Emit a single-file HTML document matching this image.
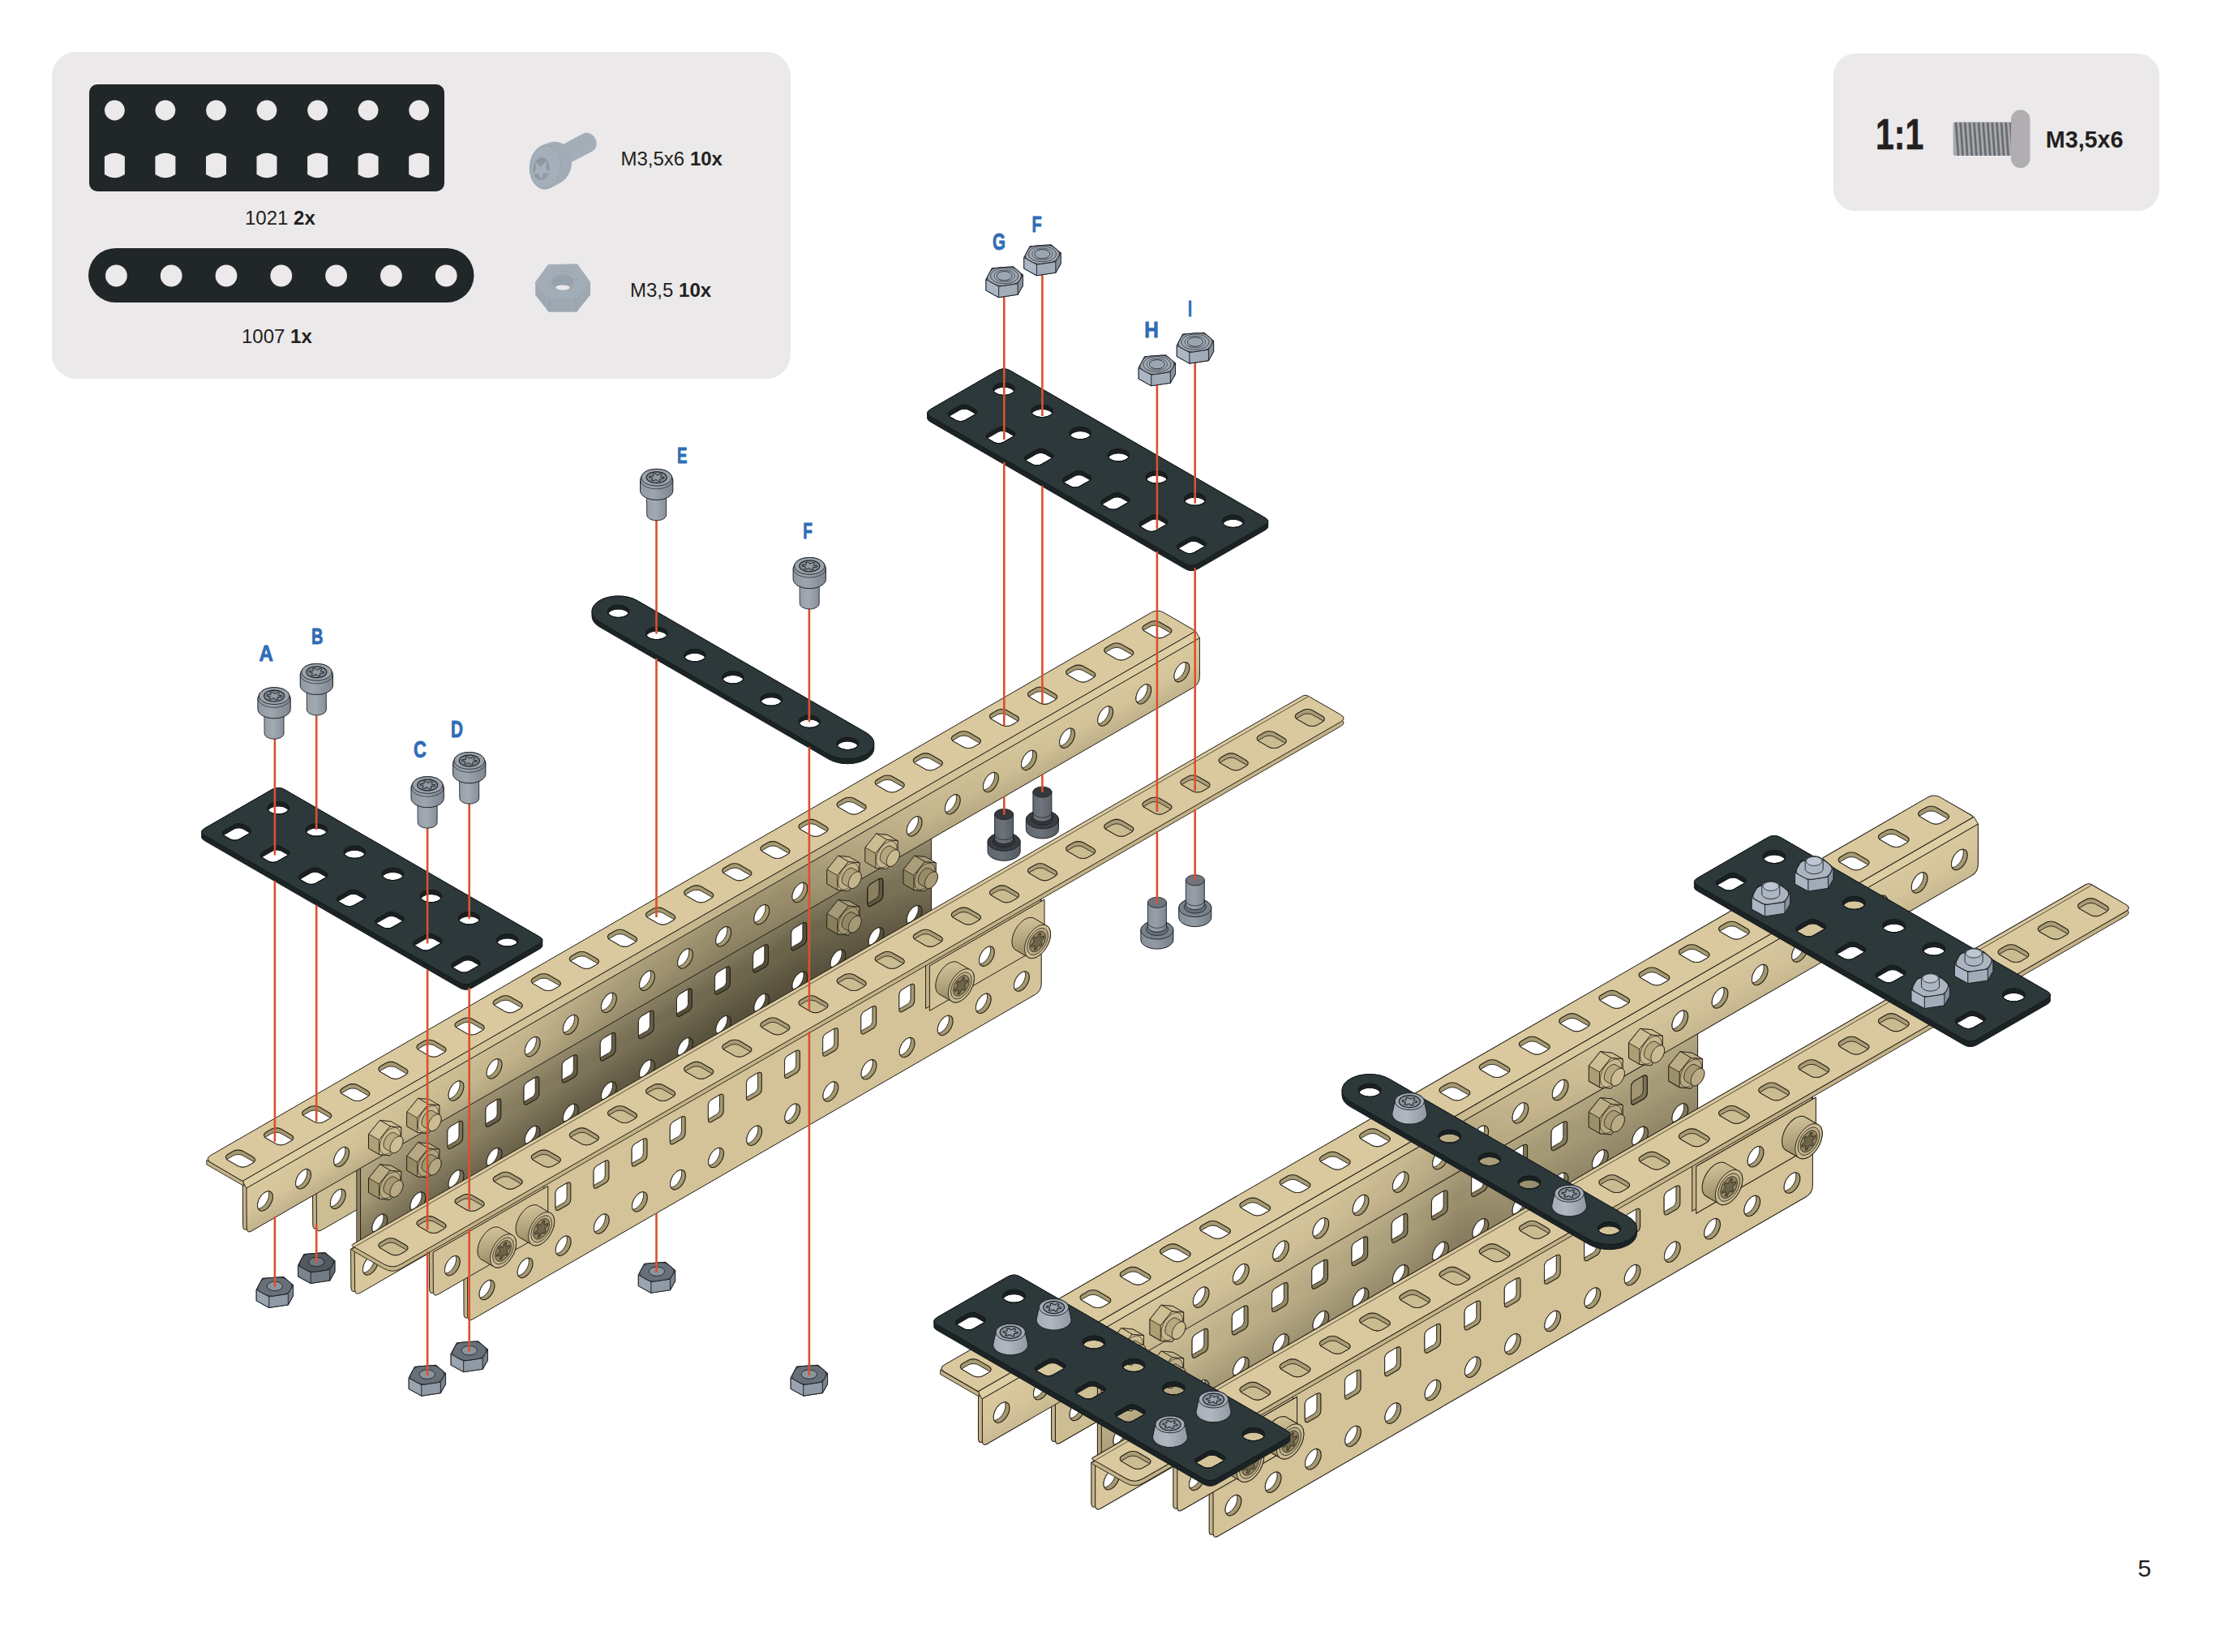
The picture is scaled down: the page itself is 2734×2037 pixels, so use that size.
<!DOCTYPE html>
<html><head><meta charset="utf-8"><title>5</title>
<style>
html,body{margin:0;padding:0;background:#fff}
body{width:2734px;height:2037px;overflow:hidden;font-family:"Liberation Sans",sans-serif}
svg{display:block}
text{font-family:"Liberation Sans",sans-serif}
</style></head><body>
<svg width="2734" height="2037" viewBox="0 0 2734 2037" stroke-linejoin="round" stroke-linecap="round">
<defs><linearGradient id="g1" gradientUnits="userSpaceOnUse" x1="443.5" y1="0" x2="1150" y2="0"><stop offset="0" stop-color="#a99d79"/><stop offset="0.1" stop-color="#958a6b"/><stop offset="0.3" stop-color="#857b5e"/><stop offset="0.43" stop-color="#7b7257"/><stop offset="0.63" stop-color="#6e674e"/><stop offset="0.77" stop-color="#6a634a"/><stop offset="0.87" stop-color="#736b51"/><stop offset="0.97" stop-color="#7e765a"/><stop offset="1" stop-color="#857a5d"/></linearGradient>
<linearGradient id="g2" gradientUnits="userSpaceOnUse" x1="457.3" y1="1433.1" x2="495.5" y2="1499.3"><stop offset="0" stop-color="#fff2c8" stop-opacity="0.14"/><stop offset="0.3" stop-color="#fff2c8" stop-opacity="0"/><stop offset="0.45" stop-color="#000" stop-opacity="0"/><stop offset="1" stop-color="#14100a" stop-opacity="0.26"/></linearGradient>
<linearGradient id="g3" gradientUnits="userSpaceOnUse" x1="326.9" y1="0" x2="1457.3" y2="0"><stop offset="0" stop-color="#d6c59b"/><stop offset="0.167" stop-color="#cdbd93"/><stop offset="0.29" stop-color="#bfb088"/><stop offset="0.375" stop-color="#a89b77"/><stop offset="0.5" stop-color="#968a69"/><stop offset="0.57" stop-color="#998d6b"/><stop offset="0.64" stop-color="#b0a27d"/><stop offset="0.72" stop-color="#c4b58c"/><stop offset="0.82" stop-color="#d0c096"/><stop offset="1" stop-color="#d6c59b"/></linearGradient>
<linearGradient id="g4" gradientUnits="userSpaceOnUse" x1="562.4" y1="1315.8" x2="586.9" y2="1358.2"><stop offset="0" stop-color="#fff2c8" stop-opacity="0.1"/><stop offset="0.4" stop-color="#fff2c8" stop-opacity="0"/><stop offset="0.5" stop-color="#000" stop-opacity="0"/><stop offset="1" stop-color="#14100a" stop-opacity="0.1"/></linearGradient>
<linearGradient id="g5" gradientUnits="userSpaceOnUse" x1="326.9" y1="0" x2="1457.3" y2="0"><stop offset="0" stop-color="#dfcfa5"/><stop offset="0.3" stop-color="#d2c299"/><stop offset="0.5" stop-color="#c3b48c"/><stop offset="0.6" stop-color="#c3b48c"/><stop offset="0.72" stop-color="#d2c299"/><stop offset="1" stop-color="#dfcfa5"/></linearGradient>
<linearGradient id="g6" gradientUnits="userSpaceOnUse" x1="0" y1="-20" x2="8" y2="22"><stop offset="0" stop-color="#d2c39a"/><stop offset="1" stop-color="#9d9069"/></linearGradient>
<linearGradient id="g7" gradientUnits="userSpaceOnUse" x1="443.5" y1="0" x2="1150" y2="0"><stop offset="0" stop-color="#c8b990"/><stop offset="0.17" stop-color="#bfb189"/><stop offset="0.37" stop-color="#b5a882"/><stop offset="0.52" stop-color="#a89c78"/><stop offset="0.6" stop-color="#988c6a"/><stop offset="0.68" stop-color="#a59975"/><stop offset="1" stop-color="#a79b77"/></linearGradient>
<linearGradient id="g8" gradientUnits="userSpaceOnUse" x1="457.3" y1="1433.1" x2="495.5" y2="1499.3"><stop offset="0" stop-color="#fff2c8" stop-opacity="0.14"/><stop offset="0.3" stop-color="#fff2c8" stop-opacity="0"/><stop offset="0.45" stop-color="#000" stop-opacity="0"/><stop offset="1" stop-color="#14100a" stop-opacity="0.15"/></linearGradient>
<linearGradient id="g9" gradientUnits="userSpaceOnUse" x1="326.9" y1="0" x2="1457.3" y2="0"><stop offset="0" stop-color="#d6c59b"/><stop offset="0.33" stop-color="#cfbf96"/><stop offset="0.42" stop-color="#c3b38b"/><stop offset="0.48" stop-color="#b4a680"/><stop offset="0.54" stop-color="#c4b48c"/><stop offset="0.62" stop-color="#cfbf96"/><stop offset="1" stop-color="#d6c59b"/></linearGradient>
<linearGradient id="g10" gradientUnits="userSpaceOnUse" x1="562.4" y1="1315.8" x2="586.9" y2="1358.2"><stop offset="0" stop-color="#fff2c8" stop-opacity="0.1"/><stop offset="0.4" stop-color="#fff2c8" stop-opacity="0"/><stop offset="0.5" stop-color="#000" stop-opacity="0"/><stop offset="1" stop-color="#14100a" stop-opacity="0.06"/></linearGradient>
<linearGradient id="g11" gradientUnits="userSpaceOnUse" x1="326.9" y1="0" x2="1457.3" y2="0"><stop offset="0" stop-color="#dfcfa5"/><stop offset="0.4" stop-color="#d8c89e"/><stop offset="0.48" stop-color="#c8b990"/><stop offset="0.56" stop-color="#d8c89e"/><stop offset="1" stop-color="#dfcfa5"/></linearGradient>
<linearGradient id="g12" gradientUnits="userSpaceOnUse" x1="-20" y1="0" x2="20" y2="0"><stop offset="0" stop-color="#60666d"/><stop offset="0.45" stop-color="#686e75"/><stop offset="1" stop-color="#555b61"/></linearGradient>
<linearGradient id="g13" gradientUnits="userSpaceOnUse" x1="-11.5" y1="0" x2="11.5" y2="0"><stop offset="0" stop-color="#636970"/><stop offset="0.45" stop-color="#6c7279"/><stop offset="1" stop-color="#595f66"/></linearGradient>
<linearGradient id="g14" gradientUnits="userSpaceOnUse" x1="-20" y1="0" x2="20" y2="0"><stop offset="0" stop-color="#636970"/><stop offset="0.45" stop-color="#6b7279"/><stop offset="1" stop-color="#575d64"/></linearGradient>
<linearGradient id="g15" gradientUnits="userSpaceOnUse" x1="-11.5" y1="0" x2="11.5" y2="0"><stop offset="0" stop-color="#666c73"/><stop offset="0.45" stop-color="#70757c"/><stop offset="1" stop-color="#5c6269"/></linearGradient>
<linearGradient id="g16" gradientUnits="userSpaceOnUse" x1="-20" y1="0" x2="20" y2="0"><stop offset="0" stop-color="#868f98"/><stop offset="0.45" stop-color="#929aa4"/><stop offset="1" stop-color="#767f88"/></linearGradient>
<linearGradient id="g17" gradientUnits="userSpaceOnUse" x1="-11.5" y1="0" x2="11.5" y2="0"><stop offset="0" stop-color="#8a939c"/><stop offset="0.45" stop-color="#989fa9"/><stop offset="1" stop-color="#7d858f"/></linearGradient>
<linearGradient id="g18" gradientUnits="userSpaceOnUse" x1="-11.9" y1="0" x2="11.9" y2="0"><stop offset="0" stop-color="#979fa9"/><stop offset="0.45" stop-color="#a1a9b2"/><stop offset="1" stop-color="#87909a"/></linearGradient>
<linearGradient id="g19" gradientUnits="userSpaceOnUse" x1="-20.1" y1="0" x2="20.1" y2="0"><stop offset="0" stop-color="#9098a2"/><stop offset="0.4" stop-color="#9da5ae"/><stop offset="1" stop-color="#7e8691"/></linearGradient>
<linearGradient id="g20" gradientUnits="userSpaceOnUse" x1="-20.6" y1="0" x2="20.6" y2="0"><stop offset="0" stop-color="#a5adb7"/><stop offset="0.4" stop-color="#b0b7c0"/><stop offset="1" stop-color="#8f98a2"/></linearGradient><g id="hra59971fff"><path d="M9.4 -5.4 L9.2 -7.7 L8.5 -9.6 L7.4 -11 L5.9 -11.9 L4.1 -12.2 L2.1 -11.8 L0 -10.9 L-2.1 -9.4 L-4.1 -7.4 L-5.9 -5.1 L-7.4 -2.5 L-8.5 0.2 L-9.2 2.9 L-9.4 5.4 L-9.2 7.7 L-8.5 9.6 L-7.4 11 L-5.9 11.9 L-4.1 12.2 L-2.1 11.8 L-0 10.9 L2.1 9.4 L4.1 7.4 L5.9 5.1 L7.4 2.5 L8.5 -0.2 L9.2 -2.9Z" fill="#a59971" stroke="#241f16" stroke-width="1.1"/><path d="M2.1 -11.8 L0 -10.9 L-2.1 -9.4 L-4.1 -7.4 L-5.9 -5.1 L-7.4 -2.5 L-8.5 0.2 L-9.2 2.9 L-9.4 5.4 L-9.2 7.7 L-8.6 9.4 L-6.8 9.1 L-4.7 8.2 L-2.6 6.7 L-0.6 4.7 L1.2 2.4 L2.7 -0.2 L3.8 -2.9 L4.5 -5.6 L4.7 -8.2 L4.5 -10.4 L3.9 -12.1Z" fill="#fff" stroke="#241f16" stroke-width="0.9"/></g>
<g id="hr7b7254fff"><path d="M9.4 -5.4 L9.2 -7.7 L8.5 -9.6 L7.4 -11 L5.9 -11.9 L4.1 -12.2 L2.1 -11.8 L0 -10.9 L-2.1 -9.4 L-4.1 -7.4 L-5.9 -5.1 L-7.4 -2.5 L-8.5 0.2 L-9.2 2.9 L-9.4 5.4 L-9.2 7.7 L-8.5 9.6 L-7.4 11 L-5.9 11.9 L-4.1 12.2 L-2.1 11.8 L-0 10.9 L2.1 9.4 L4.1 7.4 L5.9 5.1 L7.4 2.5 L8.5 -0.2 L9.2 -2.9Z" fill="#7b7254" stroke="#241f16" stroke-width="1.1"/><path d="M2.1 -11.8 L0 -10.9 L-2.1 -9.4 L-4.1 -7.4 L-5.9 -5.1 L-7.4 -2.5 L-8.5 0.2 L-9.2 2.9 L-9.4 5.4 L-9.2 7.7 L-8.6 9.4 L-6.8 9.1 L-4.7 8.2 L-2.6 6.7 L-0.6 4.7 L1.2 2.4 L2.7 -0.2 L3.8 -2.9 L4.5 -5.6 L4.7 -8.2 L4.5 -10.4 L3.9 -12.1Z" fill="#fff" stroke="#241f16" stroke-width="0.9"/></g>
<g id="hs7b7254fff"><path d="M9.4 -14.4 L9.2 -15.7 L8.7 -16.7 L7.8 -17.2 L6.7 -17.2 L5.4 -16.7 L-5.4 -10.5 L-6.7 -9.5 L-7.8 -8.2 L-8.7 -6.7 L-9.2 -5.1 L-9.4 -3.5 L-9.4 14.4 L-9.2 15.7 L-8.7 16.7 L-7.8 17.2 L-6.7 17.2 L-5.4 16.7 L5.4 10.5 L6.7 9.5 L7.8 8.2 L8.7 6.7 L9.2 5.1 L9.4 3.5Z" fill="#7b7254" stroke="#241f16" stroke-width="1.1"/><path d="M-5.4 -10.5 L-6.7 -9.5 L-7.8 -8.2 L-8.7 -6.7 L-9.2 -5.1 L-9.4 -3.5 L-9.4 13.6 L0.7 7.8 L1.9 6.8 L3.1 5.5 L3.9 4 L4.5 2.4 L4.7 0.8 L4.7 -16.3Z" fill="#fff" stroke="#241f16" stroke-width="0.9"/></g>
<g id="hs665e46fff"><path d="M9.4 -14.4 L9.2 -15.7 L8.7 -16.7 L7.8 -17.2 L6.7 -17.2 L5.4 -16.7 L-5.4 -10.5 L-6.7 -9.5 L-7.8 -8.2 L-8.7 -6.7 L-9.2 -5.1 L-9.4 -3.5 L-9.4 14.4 L-9.2 15.7 L-8.7 16.7 L-7.8 17.2 L-6.7 17.2 L-5.4 16.7 L5.4 10.5 L6.7 9.5 L7.8 8.2 L8.7 6.7 L9.2 5.1 L9.4 3.5Z" fill="#665e46" stroke="#241f16" stroke-width="1.1"/><path d="M-5.4 -10.5 L-6.7 -9.5 L-7.8 -8.2 L-8.7 -6.7 L-9.2 -5.1 L-9.4 -3.5 L-9.4 13.6 L0.7 7.8 L1.9 6.8 L3.1 5.5 L3.9 4 L4.5 2.4 L4.7 0.8 L4.7 -16.3Z" fill="#fff" stroke="#241f16" stroke-width="0.9"/></g>
<g id="hr665e46fff"><path d="M9.4 -5.4 L9.2 -7.7 L8.5 -9.6 L7.4 -11 L5.9 -11.9 L4.1 -12.2 L2.1 -11.8 L0 -10.9 L-2.1 -9.4 L-4.1 -7.4 L-5.9 -5.1 L-7.4 -2.5 L-8.5 0.2 L-9.2 2.9 L-9.4 5.4 L-9.2 7.7 L-8.5 9.6 L-7.4 11 L-5.9 11.9 L-4.1 12.2 L-2.1 11.8 L-0 10.9 L2.1 9.4 L4.1 7.4 L5.9 5.1 L7.4 2.5 L8.5 -0.2 L9.2 -2.9Z" fill="#665e46" stroke="#241f16" stroke-width="1.1"/><path d="M2.1 -11.8 L0 -10.9 L-2.1 -9.4 L-4.1 -7.4 L-5.9 -5.1 L-7.4 -2.5 L-8.5 0.2 L-9.2 2.9 L-9.4 5.4 L-9.2 7.7 L-8.6 9.4 L-6.8 9.1 L-4.7 8.2 L-2.6 6.7 L-0.6 4.7 L1.2 2.4 L2.7 -0.2 L3.8 -2.9 L4.5 -5.6 L4.7 -8.2 L4.5 -10.4 L3.9 -12.1Z" fill="#fff" stroke="#241f16" stroke-width="0.9"/></g>
<g id="hs554f3afff"><path d="M9.4 -14.4 L9.2 -15.7 L8.7 -16.7 L7.8 -17.2 L6.7 -17.2 L5.4 -16.7 L-5.4 -10.5 L-6.7 -9.5 L-7.8 -8.2 L-8.7 -6.7 L-9.2 -5.1 L-9.4 -3.5 L-9.4 14.4 L-9.2 15.7 L-8.7 16.7 L-7.8 17.2 L-6.7 17.2 L-5.4 16.7 L5.4 10.5 L6.7 9.5 L7.8 8.2 L8.7 6.7 L9.2 5.1 L9.4 3.5Z" fill="#554f3a" stroke="#241f16" stroke-width="1.1"/><path d="M-5.4 -10.5 L-6.7 -9.5 L-7.8 -8.2 L-8.7 -6.7 L-9.2 -5.1 L-9.4 -3.5 L-9.4 13.6 L0.7 7.8 L1.9 6.8 L3.1 5.5 L3.9 4 L4.5 2.4 L4.7 0.8 L4.7 -16.3Z" fill="#fff" stroke="#241f16" stroke-width="0.9"/></g>
<g id="hr554f3afff"><path d="M9.4 -5.4 L9.2 -7.7 L8.5 -9.6 L7.4 -11 L5.9 -11.9 L4.1 -12.2 L2.1 -11.8 L0 -10.9 L-2.1 -9.4 L-4.1 -7.4 L-5.9 -5.1 L-7.4 -2.5 L-8.5 0.2 L-9.2 2.9 L-9.4 5.4 L-9.2 7.7 L-8.5 9.6 L-7.4 11 L-5.9 11.9 L-4.1 12.2 L-2.1 11.8 L-0 10.9 L2.1 9.4 L4.1 7.4 L5.9 5.1 L7.4 2.5 L8.5 -0.2 L9.2 -2.9Z" fill="#554f3a" stroke="#241f16" stroke-width="1.1"/><path d="M2.1 -11.8 L0 -10.9 L-2.1 -9.4 L-4.1 -7.4 L-5.9 -5.1 L-7.4 -2.5 L-8.5 0.2 L-9.2 2.9 L-9.4 5.4 L-9.2 7.7 L-8.6 9.4 L-6.8 9.1 L-4.7 8.2 L-2.6 6.7 L-0.6 4.7 L1.2 2.4 L2.7 -0.2 L3.8 -2.9 L4.5 -5.6 L4.7 -8.2 L4.5 -10.4 L3.9 -12.1Z" fill="#fff" stroke="#241f16" stroke-width="0.9"/></g>
<g id="hta59971fff"><path d="M15.5 -1.9 L17.1 -0.6 L18 0.8 L18 2.4 L17.1 3.9 L15.5 5.2 L8.9 9 L6.8 9.9 L4.2 10.4 L1.5 10.4 L-1.1 9.9 L-3.3 9 L-15.5 1.9 L-17.1 0.6 L-18 -0.8 L-18 -2.4 L-17.1 -3.9 L-15.5 -5.2 L-8.9 -9 L-6.8 -9.9 L-4.2 -10.4 L-1.5 -10.4 L1.1 -9.9 L3.3 -9Z" fill="#a59971" stroke="#241f16" stroke-width="1.1"/><path d="M-15.5 1.9 L-3.3 9 L-1.1 9.9 L1.5 10.4 L4.2 10.4 L6.8 9.9 L8.9 9 L15.5 5.2 L16.6 4.4 L15.5 3.5 L3.3 -3.5 L1.1 -4.4 L-1.5 -4.9 L-4.2 -4.9 L-6.8 -4.4 L-8.9 -3.5 L-15.5 0.3 L-16.6 1.1Z" fill="#fff" stroke="#241f16" stroke-width="0.9"/></g>
<g id="tn106"><path d="M-13.5 -1.2 L0 -17.9 L13.5 -16.7 L26.2 -9.4 L26.2 8.6 L12.7 25.3 L-0.7 24.1 L-13.5 16.7Z" fill="#aea175" stroke="#241f16" stroke-width="1"/><path d="M13.5 -16.7 L0 -18 L12.7 -10.6 L26.2 -9.4Z" fill="#d1c196" stroke="#241f16" stroke-width="0.8"/><path d="M0 -18 L-13.5 -1.2 L-0.7 6.1 L12.7 -10.6Z" fill="#d1c196" stroke="#241f16" stroke-width="0.8"/><path d="M26.2 -9.4 L12.7 -10.6 L-0.7 6.1 L-0.7 24.1 L12.7 25.3 L26.2 8.5Z" fill="#d7c69a" stroke="#241f16" stroke-width="0.9"/><path d="M25.4 0 L25.1 -3.1 L24.2 -5.6 L22.7 -7.6 L20.6 -8.7 L18.2 -9.1 L15.5 -8.6 L12.7 -7.3 L9.9 -5.3 L7.2 -2.7 L4.8 0.4 L2.8 3.9 L1.3 7.6 L0.3 11.2 L0 14.7 L0.3 17.8 L1.3 20.3 L2.8 22.2 L4.8 23.4 L7.2 23.8 L9.9 23.3 L12.7 22 L15.5 20 L18.2 17.4 L20.6 14.2 L22.7 10.8 L24.2 7.1 L25.1 3.5Z" fill="#cbbb90" stroke="#241f16" stroke-width="0.7"/><path d="M4.7 12 L4.9 9.8 L5.5 7.5 L6.5 5.2 L7.7 3 L9.2 1 L10.9 -0.7 L12.7 -1.9 L14.5 -2.7 L16.2 -3 L17.7 -2.8 L19 -2 L25.7 1.9 L27 2.6 L27.9 3.8 L28.5 5.4 L28.7 7.3 L28.5 9.5 L27.9 11.8 L27 14.1 L25.7 16.3 L24.2 18.3 L22.5 19.9 L20.7 21.2 L18.9 22 L17.2 22.3 L15.7 22.1 L14.5 21.3 L7.7 17.4 L6.5 16.7 L5.5 15.5 L4.9 13.9Z" fill="#baab81" stroke="#241f16" stroke-width="0.8"/><path d="M28.7 7.3 L28.5 5.4 L27.9 3.8 L27 2.6 L25.7 1.8 L24.2 1.6 L22.5 1.9 L20.7 2.7 L18.9 4 L17.2 5.6 L15.7 7.6 L14.5 9.8 L13.5 12.1 L12.9 14.4 L12.7 16.6 L12.9 18.5 L13.5 20.1 L14.5 21.3 L15.7 22.1 L17.2 22.3 L18.9 22 L20.7 21.2 L22.5 19.9 L24.2 18.3 L25.7 16.3 L27 14.1 L27.9 11.8 L28.5 9.5Z" fill="#cfbf94" stroke="#241f16" stroke-width="0.8"/></g>
<g id="tn104"><path d="M-13.5 -1.2 L0 -17.9 L13.5 -16.7 L26.2 -9.4 L26.2 8.6 L12.7 25.3 L-0.7 24.1 L-13.5 16.7Z" fill="#ab9e73" stroke="#241f16" stroke-width="1"/><path d="M13.5 -16.7 L0 -18 L12.7 -10.6 L26.2 -9.4Z" fill="#cdbe93" stroke="#241f16" stroke-width="0.8"/><path d="M0 -18 L-13.5 -1.2 L-0.7 6.1 L12.7 -10.6Z" fill="#cdbe93" stroke="#241f16" stroke-width="0.8"/><path d="M26.2 -9.4 L12.7 -10.6 L-0.7 6.1 L-0.7 24.1 L12.7 25.3 L26.2 8.5Z" fill="#d3c297" stroke="#241f16" stroke-width="0.9"/><path d="M25.4 0 L25.1 -3.1 L24.2 -5.6 L22.7 -7.6 L20.6 -8.7 L18.2 -9.1 L15.5 -8.6 L12.7 -7.3 L9.9 -5.3 L7.2 -2.7 L4.8 0.4 L2.8 3.9 L1.3 7.6 L0.3 11.2 L0 14.7 L0.3 17.8 L1.3 20.3 L2.8 22.2 L4.8 23.4 L7.2 23.8 L9.9 23.3 L12.7 22 L15.5 20 L18.2 17.4 L20.6 14.2 L22.7 10.8 L24.2 7.1 L25.1 3.5Z" fill="#c7b88d" stroke="#241f16" stroke-width="0.7"/><path d="M4.7 12 L4.9 9.8 L5.5 7.5 L6.5 5.2 L7.7 3 L9.2 1 L10.9 -0.7 L12.7 -1.9 L14.5 -2.7 L16.2 -3 L17.7 -2.8 L19 -2 L25.7 1.9 L27 2.6 L27.9 3.8 L28.5 5.4 L28.7 7.3 L28.5 9.5 L27.9 11.8 L27 14.1 L25.7 16.3 L24.2 18.3 L22.5 19.9 L20.7 21.2 L18.9 22 L17.2 22.3 L15.7 22.1 L14.5 21.3 L7.7 17.4 L6.5 16.7 L5.5 15.5 L4.9 13.9Z" fill="#b7a87e" stroke="#241f16" stroke-width="0.8"/><path d="M28.7 7.3 L28.5 5.4 L27.9 3.8 L27 2.6 L25.7 1.8 L24.2 1.6 L22.5 1.9 L20.7 2.7 L18.9 4 L17.2 5.6 L15.7 7.6 L14.5 9.8 L13.5 12.1 L12.9 14.4 L12.7 16.6 L12.9 18.5 L13.5 20.1 L14.5 21.3 L15.7 22.1 L17.2 22.3 L18.9 22 L20.7 21.2 L22.5 19.9 L24.2 18.3 L25.7 16.3 L27 14.1 L27.9 11.8 L28.5 9.5Z" fill="#cbbc91" stroke="#241f16" stroke-width="0.8"/></g>
<g id="tn095"><path d="M-13.5 -1.2 L0 -17.9 L13.5 -16.7 L26.2 -9.4 L26.2 8.6 L12.7 25.3 L-0.7 24.1 L-13.5 16.7Z" fill="#9c9069" stroke="#241f16" stroke-width="1"/><path d="M13.5 -16.7 L0 -18 L12.7 -10.6 L26.2 -9.4Z" fill="#bcad86" stroke="#241f16" stroke-width="0.8"/><path d="M0 -18 L-13.5 -1.2 L-0.7 6.1 L12.7 -10.6Z" fill="#bcad86" stroke="#241f16" stroke-width="0.8"/><path d="M26.2 -9.4 L12.7 -10.6 L-0.7 6.1 L-0.7 24.1 L12.7 25.3 L26.2 8.5Z" fill="#c0b18a" stroke="#241f16" stroke-width="0.9"/><path d="M25.4 0 L25.1 -3.1 L24.2 -5.6 L22.7 -7.6 L20.6 -8.7 L18.2 -9.1 L15.5 -8.6 L12.7 -7.3 L9.9 -5.3 L7.2 -2.7 L4.8 0.4 L2.8 3.9 L1.3 7.6 L0.3 11.2 L0 14.7 L0.3 17.8 L1.3 20.3 L2.8 22.2 L4.8 23.4 L7.2 23.8 L9.9 23.3 L12.7 22 L15.5 20 L18.2 17.4 L20.6 14.2 L22.7 10.8 L24.2 7.1 L25.1 3.5Z" fill="#b6a881" stroke="#241f16" stroke-width="0.7"/><path d="M4.7 12 L4.9 9.8 L5.5 7.5 L6.5 5.2 L7.7 3 L9.2 1 L10.9 -0.7 L12.7 -1.9 L14.5 -2.7 L16.2 -3 L17.7 -2.8 L19 -2 L25.7 1.9 L27 2.6 L27.9 3.8 L28.5 5.4 L28.7 7.3 L28.5 9.5 L27.9 11.8 L27 14.1 L25.7 16.3 L24.2 18.3 L22.5 19.9 L20.7 21.2 L18.9 22 L17.2 22.3 L15.7 22.1 L14.5 21.3 L7.7 17.4 L6.5 16.7 L5.5 15.5 L4.9 13.9Z" fill="#a79973" stroke="#241f16" stroke-width="0.8"/><path d="M28.7 7.3 L28.5 5.4 L27.9 3.8 L27 2.6 L25.7 1.8 L24.2 1.6 L22.5 1.9 L20.7 2.7 L18.9 4 L17.2 5.6 L15.7 7.6 L14.5 9.8 L13.5 12.1 L12.9 14.4 L12.7 16.6 L12.9 18.5 L13.5 20.1 L14.5 21.3 L15.7 22.1 L17.2 22.3 L18.9 22 L20.7 21.2 L22.5 19.9 L24.2 18.3 L25.7 16.3 L27 14.1 L27.9 11.8 L28.5 9.5Z" fill="#baab85" stroke="#241f16" stroke-width="0.8"/></g>
<g id="tn092"><path d="M-13.5 -1.2 L0 -17.9 L13.5 -16.7 L26.2 -9.4 L26.2 8.6 L12.7 25.3 L-0.7 24.1 L-13.5 16.7Z" fill="#978b66" stroke="#241f16" stroke-width="1"/><path d="M13.5 -16.7 L0 -18 L12.7 -10.6 L26.2 -9.4Z" fill="#b6a882" stroke="#241f16" stroke-width="0.8"/><path d="M0 -18 L-13.5 -1.2 L-0.7 6.1 L12.7 -10.6Z" fill="#b6a882" stroke="#241f16" stroke-width="0.8"/><path d="M26.2 -9.4 L12.7 -10.6 L-0.7 6.1 L-0.7 24.1 L12.7 25.3 L26.2 8.5Z" fill="#baac86" stroke="#241f16" stroke-width="0.9"/><path d="M25.4 0 L25.1 -3.1 L24.2 -5.6 L22.7 -7.6 L20.6 -8.7 L18.2 -9.1 L15.5 -8.6 L12.7 -7.3 L9.9 -5.3 L7.2 -2.7 L4.8 0.4 L2.8 3.9 L1.3 7.6 L0.3 11.2 L0 14.7 L0.3 17.8 L1.3 20.3 L2.8 22.2 L4.8 23.4 L7.2 23.8 L9.9 23.3 L12.7 22 L15.5 20 L18.2 17.4 L20.6 14.2 L22.7 10.8 L24.2 7.1 L25.1 3.5Z" fill="#b0a27d" stroke="#241f16" stroke-width="0.7"/><path d="M4.7 12 L4.9 9.8 L5.5 7.5 L6.5 5.2 L7.7 3 L9.2 1 L10.9 -0.7 L12.7 -1.9 L14.5 -2.7 L16.2 -3 L17.7 -2.8 L19 -2 L25.7 1.9 L27 2.6 L27.9 3.8 L28.5 5.4 L28.7 7.3 L28.5 9.5 L27.9 11.8 L27 14.1 L25.7 16.3 L24.2 18.3 L22.5 19.9 L20.7 21.2 L18.9 22 L17.2 22.3 L15.7 22.1 L14.5 21.3 L7.7 17.4 L6.5 16.7 L5.5 15.5 L4.9 13.9Z" fill="#a19570" stroke="#241f16" stroke-width="0.8"/><path d="M28.7 7.3 L28.5 5.4 L27.9 3.8 L27 2.6 L25.7 1.8 L24.2 1.6 L22.5 1.9 L20.7 2.7 L18.9 4 L17.2 5.6 L15.7 7.6 L14.5 9.8 L13.5 12.1 L12.9 14.4 L12.7 16.6 L12.9 18.5 L13.5 20.1 L14.5 21.3 L15.7 22.1 L17.2 22.3 L18.9 22 L20.7 21.2 L22.5 19.9 L24.2 18.3 L25.7 16.3 L27 14.1 L27.9 11.8 L28.5 9.5Z" fill="#b4a680" stroke="#241f16" stroke-width="0.8"/></g>
<g id="tn100"><path d="M-13.5 -1.2 L0 -17.9 L13.5 -16.7 L26.2 -9.4 L26.2 8.6 L12.7 25.3 L-0.7 24.1 L-13.5 16.7Z" fill="#a5986f" stroke="#241f16" stroke-width="1"/><path d="M13.5 -16.7 L0 -18 L12.7 -10.6 L26.2 -9.4Z" fill="#c6b78e" stroke="#241f16" stroke-width="0.8"/><path d="M0 -18 L-13.5 -1.2 L-0.7 6.1 L12.7 -10.6Z" fill="#c6b78e" stroke="#241f16" stroke-width="0.8"/><path d="M26.2 -9.4 L12.7 -10.6 L-0.7 6.1 L-0.7 24.1 L12.7 25.3 L26.2 8.5Z" fill="#cbbb92" stroke="#241f16" stroke-width="0.9"/><path d="M25.4 0 L25.1 -3.1 L24.2 -5.6 L22.7 -7.6 L20.6 -8.7 L18.2 -9.1 L15.5 -8.6 L12.7 -7.3 L9.9 -5.3 L7.2 -2.7 L4.8 0.4 L2.8 3.9 L1.3 7.6 L0.3 11.2 L0 14.7 L0.3 17.8 L1.3 20.3 L2.8 22.2 L4.8 23.4 L7.2 23.8 L9.9 23.3 L12.7 22 L15.5 20 L18.2 17.4 L20.6 14.2 L22.7 10.8 L24.2 7.1 L25.1 3.5Z" fill="#c0b188" stroke="#241f16" stroke-width="0.7"/><path d="M4.7 12 L4.9 9.8 L5.5 7.5 L6.5 5.2 L7.7 3 L9.2 1 L10.9 -0.7 L12.7 -1.9 L14.5 -2.7 L16.2 -3 L17.7 -2.8 L19 -2 L25.7 1.9 L27 2.6 L27.9 3.8 L28.5 5.4 L28.7 7.3 L28.5 9.5 L27.9 11.8 L27 14.1 L25.7 16.3 L24.2 18.3 L22.5 19.9 L20.7 21.2 L18.9 22 L17.2 22.3 L15.7 22.1 L14.5 21.3 L7.7 17.4 L6.5 16.7 L5.5 15.5 L4.9 13.9Z" fill="#b0a27a" stroke="#241f16" stroke-width="0.8"/><path d="M28.7 7.3 L28.5 5.4 L27.9 3.8 L27 2.6 L25.7 1.8 L24.2 1.6 L22.5 1.9 L20.7 2.7 L18.9 4 L17.2 5.6 L15.7 7.6 L14.5 9.8 L13.5 12.1 L12.9 14.4 L12.7 16.6 L12.9 18.5 L13.5 20.1 L14.5 21.3 L15.7 22.1 L17.2 22.3 L18.9 22 L20.7 21.2 L22.5 19.9 L24.2 18.3 L25.7 16.3 L27 14.1 L27.9 11.8 L28.5 9.5Z" fill="#c4b58c" stroke="#241f16" stroke-width="0.8"/></g>
<g id="tn103"><path d="M-13.5 -1.2 L0 -17.9 L13.5 -16.7 L26.2 -9.4 L26.2 8.6 L12.7 25.3 L-0.7 24.1 L-13.5 16.7Z" fill="#a99c72" stroke="#241f16" stroke-width="1"/><path d="M13.5 -16.7 L0 -18 L12.7 -10.6 L26.2 -9.4Z" fill="#cbbc92" stroke="#241f16" stroke-width="0.8"/><path d="M0 -18 L-13.5 -1.2 L-0.7 6.1 L12.7 -10.6Z" fill="#cbbc92" stroke="#241f16" stroke-width="0.8"/><path d="M26.2 -9.4 L12.7 -10.6 L-0.7 6.1 L-0.7 24.1 L12.7 25.3 L26.2 8.5Z" fill="#d1c096" stroke="#241f16" stroke-width="0.9"/><path d="M25.4 0 L25.1 -3.1 L24.2 -5.6 L22.7 -7.6 L20.6 -8.7 L18.2 -9.1 L15.5 -8.6 L12.7 -7.3 L9.9 -5.3 L7.2 -2.7 L4.8 0.4 L2.8 3.9 L1.3 7.6 L0.3 11.2 L0 14.7 L0.3 17.8 L1.3 20.3 L2.8 22.2 L4.8 23.4 L7.2 23.8 L9.9 23.3 L12.7 22 L15.5 20 L18.2 17.4 L20.6 14.2 L22.7 10.8 L24.2 7.1 L25.1 3.5Z" fill="#c5b68c" stroke="#241f16" stroke-width="0.7"/><path d="M4.7 12 L4.9 9.8 L5.5 7.5 L6.5 5.2 L7.7 3 L9.2 1 L10.9 -0.7 L12.7 -1.9 L14.5 -2.7 L16.2 -3 L17.7 -2.8 L19 -2 L25.7 1.9 L27 2.6 L27.9 3.8 L28.5 5.4 L28.7 7.3 L28.5 9.5 L27.9 11.8 L27 14.1 L25.7 16.3 L24.2 18.3 L22.5 19.9 L20.7 21.2 L18.9 22 L17.2 22.3 L15.7 22.1 L14.5 21.3 L7.7 17.4 L6.5 16.7 L5.5 15.5 L4.9 13.9Z" fill="#b5a67d" stroke="#241f16" stroke-width="0.8"/><path d="M28.7 7.3 L28.5 5.4 L27.9 3.8 L27 2.6 L25.7 1.8 L24.2 1.6 L22.5 1.9 L20.7 2.7 L18.9 4 L17.2 5.6 L15.7 7.6 L14.5 9.8 L13.5 12.1 L12.9 14.4 L12.7 16.6 L12.9 18.5 L13.5 20.1 L14.5 21.3 L15.7 22.1 L17.2 22.3 L18.9 22 L20.7 21.2 L22.5 19.9 L24.2 18.3 L25.7 16.3 L27 14.1 L27.9 11.8 L28.5 9.5Z" fill="#c9ba90" stroke="#241f16" stroke-width="0.8"/></g>
<g id="tn084"><path d="M-13.5 -1.2 L0 -17.9 L13.5 -16.7 L26.2 -9.4 L26.2 8.6 L12.7 25.3 L-0.7 24.1 L-13.5 16.7Z" fill="#8a7f5d" stroke="#241f16" stroke-width="1"/><path d="M13.5 -16.7 L0 -18 L12.7 -10.6 L26.2 -9.4Z" fill="#a69977" stroke="#241f16" stroke-width="0.8"/><path d="M0 -18 L-13.5 -1.2 L-0.7 6.1 L12.7 -10.6Z" fill="#a69977" stroke="#241f16" stroke-width="0.8"/><path d="M26.2 -9.4 L12.7 -10.6 L-0.7 6.1 L-0.7 24.1 L12.7 25.3 L26.2 8.5Z" fill="#aa9d7a" stroke="#241f16" stroke-width="0.9"/><path d="M25.4 0 L25.1 -3.1 L24.2 -5.6 L22.7 -7.6 L20.6 -8.7 L18.2 -9.1 L15.5 -8.6 L12.7 -7.3 L9.9 -5.3 L7.2 -2.7 L4.8 0.4 L2.8 3.9 L1.3 7.6 L0.3 11.2 L0 14.7 L0.3 17.8 L1.3 20.3 L2.8 22.2 L4.8 23.4 L7.2 23.8 L9.9 23.3 L12.7 22 L15.5 20 L18.2 17.4 L20.6 14.2 L22.7 10.8 L24.2 7.1 L25.1 3.5Z" fill="#a19472" stroke="#241f16" stroke-width="0.7"/><path d="M4.7 12 L4.9 9.8 L5.5 7.5 L6.5 5.2 L7.7 3 L9.2 1 L10.9 -0.7 L12.7 -1.9 L14.5 -2.7 L16.2 -3 L17.7 -2.8 L19 -2 L25.7 1.9 L27 2.6 L27.9 3.8 L28.5 5.4 L28.7 7.3 L28.5 9.5 L27.9 11.8 L27 14.1 L25.7 16.3 L24.2 18.3 L22.5 19.9 L20.7 21.2 L18.9 22 L17.2 22.3 L15.7 22.1 L14.5 21.3 L7.7 17.4 L6.5 16.7 L5.5 15.5 L4.9 13.9Z" fill="#938866" stroke="#241f16" stroke-width="0.8"/><path d="M28.7 7.3 L28.5 5.4 L27.9 3.8 L27 2.6 L25.7 1.8 L24.2 1.6 L22.5 1.9 L20.7 2.7 L18.9 4 L17.2 5.6 L15.7 7.6 L14.5 9.8 L13.5 12.1 L12.9 14.4 L12.7 16.6 L12.9 18.5 L13.5 20.1 L14.5 21.3 L15.7 22.1 L17.2 22.3 L18.9 22 L20.7 21.2 L22.5 19.9 L24.2 18.3 L25.7 16.3 L27 14.1 L27.9 11.8 L28.5 9.5Z" fill="#a49875" stroke="#241f16" stroke-width="0.8"/></g>
<g id="tn086"><path d="M-13.5 -1.2 L0 -17.9 L13.5 -16.7 L26.2 -9.4 L26.2 8.6 L12.7 25.3 L-0.7 24.1 L-13.5 16.7Z" fill="#8d825f" stroke="#241f16" stroke-width="1"/><path d="M13.5 -16.7 L0 -18 L12.7 -10.6 L26.2 -9.4Z" fill="#aa9d7a" stroke="#241f16" stroke-width="0.8"/><path d="M0 -18 L-13.5 -1.2 L-0.7 6.1 L12.7 -10.6Z" fill="#aa9d7a" stroke="#241f16" stroke-width="0.8"/><path d="M26.2 -9.4 L12.7 -10.6 L-0.7 6.1 L-0.7 24.1 L12.7 25.3 L26.2 8.5Z" fill="#aea07d" stroke="#241f16" stroke-width="0.9"/><path d="M25.4 0 L25.1 -3.1 L24.2 -5.6 L22.7 -7.6 L20.6 -8.7 L18.2 -9.1 L15.5 -8.6 L12.7 -7.3 L9.9 -5.3 L7.2 -2.7 L4.8 0.4 L2.8 3.9 L1.3 7.6 L0.3 11.2 L0 14.7 L0.3 17.8 L1.3 20.3 L2.8 22.2 L4.8 23.4 L7.2 23.8 L9.9 23.3 L12.7 22 L15.5 20 L18.2 17.4 L20.6 14.2 L22.7 10.8 L24.2 7.1 L25.1 3.5Z" fill="#a59874" stroke="#241f16" stroke-width="0.7"/><path d="M4.7 12 L4.9 9.8 L5.5 7.5 L6.5 5.2 L7.7 3 L9.2 1 L10.9 -0.7 L12.7 -1.9 L14.5 -2.7 L16.2 -3 L17.7 -2.8 L19 -2 L25.7 1.9 L27 2.6 L27.9 3.8 L28.5 5.4 L28.7 7.3 L28.5 9.5 L27.9 11.8 L27 14.1 L25.7 16.3 L24.2 18.3 L22.5 19.9 L20.7 21.2 L18.9 22 L17.2 22.3 L15.7 22.1 L14.5 21.3 L7.7 17.4 L6.5 16.7 L5.5 15.5 L4.9 13.9Z" fill="#978b68" stroke="#241f16" stroke-width="0.8"/><path d="M28.7 7.3 L28.5 5.4 L27.9 3.8 L27 2.6 L25.7 1.8 L24.2 1.6 L22.5 1.9 L20.7 2.7 L18.9 4 L17.2 5.6 L15.7 7.6 L14.5 9.8 L13.5 12.1 L12.9 14.4 L12.7 16.6 L12.9 18.5 L13.5 20.1 L14.5 21.3 L15.7 22.1 L17.2 22.3 L18.9 22 L20.7 21.2 L22.5 19.9 L24.2 18.3 L25.7 16.3 L27 14.1 L27.9 11.8 L28.5 9.5Z" fill="#a89b78" stroke="#241f16" stroke-width="0.8"/></g>
<g id="hs5f58418a7f60"><path d="M9.4 -14.4 L9.2 -15.7 L8.7 -16.7 L7.8 -17.2 L6.7 -17.2 L5.4 -16.7 L-5.4 -10.5 L-6.7 -9.5 L-7.8 -8.2 L-8.7 -6.7 L-9.2 -5.1 L-9.4 -3.5 L-9.4 14.4 L-9.2 15.7 L-8.7 16.7 L-7.8 17.2 L-6.7 17.2 L-5.4 16.7 L5.4 10.5 L6.7 9.5 L7.8 8.2 L8.7 6.7 L9.2 5.1 L9.4 3.5Z" fill="#5f5841" stroke="#241f16" stroke-width="1.1"/><path d="M-5.4 -10.5 L-6.7 -9.5 L-7.8 -8.2 L-8.7 -6.7 L-9.2 -5.1 L-9.4 -3.5 L-9.4 13.6 L0.7 7.8 L1.9 6.8 L3.1 5.5 L3.9 4 L4.5 2.4 L4.7 0.8 L4.7 -16.3Z" fill="#8a7f60" stroke="#241f16" stroke-width="0.9"/></g>
<g id="hsa59971fff"><path d="M9.4 -14.4 L9.2 -15.7 L8.7 -16.7 L7.8 -17.2 L6.7 -17.2 L5.4 -16.7 L-5.4 -10.5 L-6.7 -9.5 L-7.8 -8.2 L-8.7 -6.7 L-9.2 -5.1 L-9.4 -3.5 L-9.4 14.4 L-9.2 15.7 L-8.7 16.7 L-7.8 17.2 L-6.7 17.2 L-5.4 16.7 L5.4 10.5 L6.7 9.5 L7.8 8.2 L8.7 6.7 L9.2 5.1 L9.4 3.5Z" fill="#a59971" stroke="#241f16" stroke-width="1.1"/><path d="M-5.4 -10.5 L-6.7 -9.5 L-7.8 -8.2 L-8.7 -6.7 L-9.2 -5.1 L-9.4 -3.5 L-9.4 13.6 L0.7 7.8 L1.9 6.8 L3.1 5.5 L3.9 4 L4.5 2.4 L4.7 0.8 L4.7 -16.3Z" fill="#fff" stroke="#241f16" stroke-width="0.9"/></g>
<g id="tb100"><path d="M-16 9.2 L-15.8 5.9 L-15.1 2.4 L-13.9 -1.2 L-12.3 -4.8 L-10.3 -8.2 L-8 -11.4 L-5.5 -14.2 L-2.8 -16.6 L0 -18.5 L2.8 -19.8 L5.5 -20.5 L8 -20.6 L10.3 -20.1 L12.3 -19 L25.8 -11.1 L27.8 -10 L29.4 -8.3 L30.6 -6 L31.3 -3.3 L31.6 -0.3 L31.3 3.1 L30.6 6.6 L29.4 10.2 L27.8 13.8 L25.8 17.2 L23.6 20.4 L21 23.2 L18.3 25.6 L15.5 27.5 L12.8 28.8 L10.1 29.5 L7.5 29.6 L5.2 29.1 L-12.3 19 L-13.9 17.2 L-15.1 15 L-15.8 12.3Z" fill="url(#g6)" stroke="#241f16" stroke-width="1"/><path d="M31.6 -0.3 L31.3 -3.3 L30.6 -6 L29.4 -8.3 L27.8 -10 L25.8 -11.1 L23.6 -11.7 L21 -11.6 L18.3 -10.9 L15.5 -9.5 L12.8 -7.6 L10.1 -5.3 L7.5 -2.4 L5.2 0.7 L3.3 4.2 L1.7 7.7 L0.5 11.3 L-0.2 14.9 L-0.5 18.2 L-0.2 21.3 L0.5 24 L1.7 26.2 L3.3 27.9 L5.2 29.1 L7.5 29.6 L10.1 29.5 L12.8 28.8 L15.5 27.5 L18.3 25.6 L21 23.2 L23.5 20.4 L25.8 17.2 L27.8 13.8 L29.4 10.2 L30.6 6.6 L31.3 3.1Z" fill="#cbbc93" stroke="#241f16" stroke-width="0.9"/><path d="M28.3 1.6 L28 -1.3 L27.2 -3.7 L25.8 -5.6 L24.1 -6.9 L21.9 -7.4 L19.5 -7.3 L16.9 -6.4 L14.2 -4.9 L11.6 -2.7 L9.2 -0.1 L7 3 L5.3 6.3 L3.9 9.7 L3.1 13.1 L2.8 16.3 L3.1 19.2 L3.9 21.6 L5.3 23.5 L7 24.8 L9.2 25.4 L11.6 25.2 L14.2 24.3 L16.9 22.8 L19.5 20.7 L21.9 18 L24.1 15 L25.8 11.7 L27.2 8.2 L28 4.8Z" fill="#bfb088" stroke="#241f16" stroke-width="0.8"/><path d="M25.4 3.3 L25.2 1 L24.6 -0.9 L23.5 -2.4 L22.2 -3.3 L20.5 -3.8 L18.6 -3.7 L16.6 -3 L14.5 -1.8 L12.5 -0.1 L10.6 1.9 L8.9 4.3 L7.5 6.9 L6.5 9.5 L5.9 12.2 L5.7 14.7 L5.9 16.9 L6.5 18.8 L7.5 20.3 L8.9 21.3 L10.6 21.7 L12.5 21.6 L14.5 20.9 L16.6 19.7 L18.6 18.1 L20.5 16 L22.2 13.6 L23.5 11.1 L24.6 8.4 L25.2 5.8Z" fill="#8e8260" stroke="#241f16" stroke-width="0.8"/><path d="M23.6 4.3 L23.3 2.1 L19.6 3.9 L18.9 3.2 L19.5 -1.3 L17.6 -1.2 L15.5 3.5 L14.3 4.4 L11.5 3.3 L9.9 5.7 L11.5 8.6 L11 10.2 L7.5 13.6 L7.8 15.8 L11.5 14 L12.2 14.7 L11.5 19.3 L13.5 19.1 L15.5 14.4 L16.8 13.5 L19.5 14.7 L21.2 12.2 L19.6 9.3 L20.1 7.8Z" fill="#6f6548" stroke="#241f16" stroke-width="0.8"/></g>
<g id="hta99c75cbbb91"><path d="M15.5 -1.9 L17.1 -0.6 L18 0.8 L18 2.4 L17.1 3.9 L15.5 5.2 L8.9 9 L6.8 9.9 L4.2 10.4 L1.5 10.4 L-1.1 9.9 L-3.3 9 L-15.5 1.9 L-17.1 0.6 L-18 -0.8 L-18 -2.4 L-17.1 -3.9 L-15.5 -5.2 L-8.9 -9 L-6.8 -9.9 L-4.2 -10.4 L-1.5 -10.4 L1.1 -9.9 L3.3 -9Z" fill="#a99c75" stroke="#241f16" stroke-width="1.1"/><path d="M-15.5 1.9 L-3.3 9 L-1.1 9.9 L1.5 10.4 L4.2 10.4 L6.8 9.9 L8.9 9 L15.5 5.2 L16.6 4.4 L15.5 3.5 L3.3 -3.5 L1.1 -4.4 L-1.5 -4.9 L-4.2 -4.9 L-6.8 -4.4 L-8.9 -3.5 L-15.5 0.3 L-16.6 1.1Z" fill="#cbbb91" stroke="#241f16" stroke-width="0.9"/></g>
<g id="hr948965fff"><path d="M9.4 -5.4 L9.2 -7.7 L8.5 -9.6 L7.4 -11 L5.9 -11.9 L4.1 -12.2 L2.1 -11.8 L0 -10.9 L-2.1 -9.4 L-4.1 -7.4 L-5.9 -5.1 L-7.4 -2.5 L-8.5 0.2 L-9.2 2.9 L-9.4 5.4 L-9.2 7.7 L-8.5 9.6 L-7.4 11 L-5.9 11.9 L-4.1 12.2 L-2.1 11.8 L-0 10.9 L2.1 9.4 L4.1 7.4 L5.9 5.1 L7.4 2.5 L8.5 -0.2 L9.2 -2.9Z" fill="#948965" stroke="#241f16" stroke-width="1.1"/><path d="M2.1 -11.8 L0 -10.9 L-2.1 -9.4 L-4.1 -7.4 L-5.9 -5.1 L-7.4 -2.5 L-8.5 0.2 L-9.2 2.9 L-9.4 5.4 L-9.2 7.7 L-8.6 9.4 L-6.8 9.1 L-4.7 8.2 L-2.6 6.7 L-0.6 4.7 L1.2 2.4 L2.7 -0.2 L3.8 -2.9 L4.5 -5.6 L4.7 -8.2 L4.5 -10.4 L3.9 -12.1Z" fill="#fff" stroke="#241f16" stroke-width="0.9"/></g>
<g id="hs948965fff"><path d="M9.4 -14.4 L9.2 -15.7 L8.7 -16.7 L7.8 -17.2 L6.7 -17.2 L5.4 -16.7 L-5.4 -10.5 L-6.7 -9.5 L-7.8 -8.2 L-8.7 -6.7 L-9.2 -5.1 L-9.4 -3.5 L-9.4 14.4 L-9.2 15.7 L-8.7 16.7 L-7.8 17.2 L-6.7 17.2 L-5.4 16.7 L5.4 10.5 L6.7 9.5 L7.8 8.2 L8.7 6.7 L9.2 5.1 L9.4 3.5Z" fill="#948965" stroke="#241f16" stroke-width="1.1"/><path d="M-5.4 -10.5 L-6.7 -9.5 L-7.8 -8.2 L-8.7 -6.7 L-9.2 -5.1 L-9.4 -3.5 L-9.4 13.6 L0.7 7.8 L1.9 6.8 L3.1 5.5 L3.9 4 L4.5 2.4 L4.7 0.8 L4.7 -16.3Z" fill="#fff" stroke="#241f16" stroke-width="0.9"/></g>
<g id="hs847a5afff"><path d="M9.4 -14.4 L9.2 -15.7 L8.7 -16.7 L7.8 -17.2 L6.7 -17.2 L5.4 -16.7 L-5.4 -10.5 L-6.7 -9.5 L-7.8 -8.2 L-8.7 -6.7 L-9.2 -5.1 L-9.4 -3.5 L-9.4 14.4 L-9.2 15.7 L-8.7 16.7 L-7.8 17.2 L-6.7 17.2 L-5.4 16.7 L5.4 10.5 L6.7 9.5 L7.8 8.2 L8.7 6.7 L9.2 5.1 L9.4 3.5Z" fill="#847a5a" stroke="#241f16" stroke-width="1.1"/><path d="M-5.4 -10.5 L-6.7 -9.5 L-7.8 -8.2 L-8.7 -6.7 L-9.2 -5.1 L-9.4 -3.5 L-9.4 13.6 L0.7 7.8 L1.9 6.8 L3.1 5.5 L3.9 4 L4.5 2.4 L4.7 0.8 L4.7 -16.3Z" fill="#fff" stroke="#241f16" stroke-width="0.9"/></g>
<g id="hr847a5afff"><path d="M9.4 -5.4 L9.2 -7.7 L8.5 -9.6 L7.4 -11 L5.9 -11.9 L4.1 -12.2 L2.1 -11.8 L0 -10.9 L-2.1 -9.4 L-4.1 -7.4 L-5.9 -5.1 L-7.4 -2.5 L-8.5 0.2 L-9.2 2.9 L-9.4 5.4 L-9.2 7.7 L-8.5 9.6 L-7.4 11 L-5.9 11.9 L-4.1 12.2 L-2.1 11.8 L-0 10.9 L2.1 9.4 L4.1 7.4 L5.9 5.1 L7.4 2.5 L8.5 -0.2 L9.2 -2.9Z" fill="#847a5a" stroke="#241f16" stroke-width="1.1"/><path d="M2.1 -11.8 L0 -10.9 L-2.1 -9.4 L-4.1 -7.4 L-5.9 -5.1 L-7.4 -2.5 L-8.5 0.2 L-9.2 2.9 L-9.4 5.4 L-9.2 7.7 L-8.6 9.4 L-6.8 9.1 L-4.7 8.2 L-2.6 6.7 L-0.6 4.7 L1.2 2.4 L2.7 -0.2 L3.8 -2.9 L4.5 -5.6 L4.7 -8.2 L4.5 -10.4 L3.9 -12.1Z" fill="#fff" stroke="#241f16" stroke-width="0.9"/></g>
<g id="hs7d7459a09471"><path d="M9.4 -14.4 L9.2 -15.7 L8.7 -16.7 L7.8 -17.2 L6.7 -17.2 L5.4 -16.7 L-5.4 -10.5 L-6.7 -9.5 L-7.8 -8.2 L-8.7 -6.7 L-9.2 -5.1 L-9.4 -3.5 L-9.4 14.4 L-9.2 15.7 L-8.7 16.7 L-7.8 17.2 L-6.7 17.2 L-5.4 16.7 L5.4 10.5 L6.7 9.5 L7.8 8.2 L8.7 6.7 L9.2 5.1 L9.4 3.5Z" fill="#7d7459" stroke="#241f16" stroke-width="1.1"/><path d="M-5.4 -10.5 L-6.7 -9.5 L-7.8 -8.2 L-8.7 -6.7 L-9.2 -5.1 L-9.4 -3.5 L-9.4 13.6 L0.7 7.8 L1.9 6.8 L3.1 5.5 L3.9 4 L4.5 2.4 L4.7 0.8 L4.7 -16.3Z" fill="#a09471" stroke="#241f16" stroke-width="0.9"/></g>
<g id="gd068066"><path d="M-20 34 L-19.6 31.8 L-18.5 29.7 L-16.6 27.7 L-14.1 26 L-11.1 24.6 L-7.7 23.6 L-3.9 22.9 L-0 22.7 L3.9 22.9 L7.7 23.6 L11.1 24.6 L14.1 26 L16.6 27.7 L18.5 29.7 L19.6 31.8 L20 34 L20 46 L19.6 48.2 L18.5 50.3 L16.6 52.3 L14.1 54 L11.1 55.4 L7.7 56.4 L3.9 57.1 L0 57.3 L-3.9 57.1 L-7.7 56.4 L-11.1 55.4 L-14.1 54 L-16.6 52.3 L-18.5 50.3 L-19.6 48.2 L-20 46Z" fill="url(#g12)" stroke="#1e2125" stroke-width="1"/><path d="M20 34 L19.6 36.2 L18.5 38.3 L16.6 40.3 L14.1 42 L11.1 43.4 L7.7 44.4 L3.9 45.1 L0 45.3 L-3.9 45.1 L-7.7 44.4 L-11.1 43.4 L-14.1 42 L-16.6 40.3 L-18.5 38.3 L-19.6 36.2 L-20 34 L-19.6 31.8 L-18.5 29.7 L-16.6 27.7 L-14.1 26 L-11.1 24.6 L-7.7 23.6 L-3.9 22.9 L-0 22.7 L3.9 22.9 L7.7 23.6 L11.1 24.6 L14.1 26 L16.6 27.7 L18.5 29.7 L19.6 31.8Z" fill="#383d41" stroke="#1e2125" stroke-width="0.9"/><path d="M13.6 33 L13.3 34.5 L12.6 35.9 L11.3 37.3 L9.6 38.4 L7.6 39.4 L5.2 40.1 L2.7 40.5 L0 40.7 L-2.7 40.5 L-5.2 40.1 L-7.6 39.4 L-9.6 38.4 L-11.3 37.3 L-12.6 35.9 L-13.3 34.5 L-13.6 33 L-13.3 31.5 L-12.6 30.1 L-11.3 28.7 L-9.6 27.6 L-7.6 26.6 L-5.2 25.9 L-2.7 25.5 L-0 25.3 L2.7 25.5 L5.2 25.9 L7.6 26.6 L9.6 27.6 L11.3 28.7 L12.6 30.1 L13.3 31.5Z" fill="#303438" stroke="#1e2125" stroke-width="0.8"/><path d="M-11.5 0 L-11.5 30 L-11.1 31.7 L-10 33.2 L-8.1 34.6 L-5.8 35.6 L-3 36.3 L-0 36.5 L3 36.3 L5.7 35.6 L8.1 34.6 L10 33.2 L11.1 31.7 L11.5 30 L11.5 0Z" fill="url(#g13)" stroke="#1e2125" stroke-width="0.9"/><path d="M-11.5 25 L-11.1 26.7 L-10 28.2 L-8.1 29.6 L-5.8 30.6 L-3 31.3 L-0 31.5 L3 31.3 L5.7 30.6 L8.1 29.6 L10 28.2 L11.1 26.7 L11.5 25" fill="none" stroke="#1e2125" stroke-width="0.7"/><path d="M11.5 0 L11.3 1.3 L10.6 2.5 L9.6 3.6 L8.1 4.6 L6.4 5.4 L4.4 6 L2.2 6.4 L0 6.5 L-2.2 6.4 L-4.4 6 L-6.4 5.4 L-8.1 4.6 L-9.6 3.6 L-10.6 2.5 L-11.3 1.3 L-11.5 0 L-11.3 -1.3 L-10.6 -2.5 L-9.6 -3.6 L-8.1 -4.6 L-6.4 -5.4 L-4.4 -6 L-2.2 -6.4 L-0 -6.5 L2.2 -6.4 L4.4 -6 L6.4 -5.4 L8.1 -4.6 L9.6 -3.6 L10.6 -2.5 L11.3 -1.3Z" fill="#34373c" stroke="#1e2125" stroke-width="0.9"/></g>
<g id="gd070066"><path d="M-20 34 L-19.6 31.8 L-18.5 29.7 L-16.6 27.7 L-14.1 26 L-11.1 24.6 L-7.7 23.6 L-3.9 22.9 L-0 22.7 L3.9 22.9 L7.7 23.6 L11.1 24.6 L14.1 26 L16.6 27.7 L18.5 29.7 L19.6 31.8 L20 34 L20 46 L19.6 48.2 L18.5 50.3 L16.6 52.3 L14.1 54 L11.1 55.4 L7.7 56.4 L3.9 57.1 L0 57.3 L-3.9 57.1 L-7.7 56.4 L-11.1 55.4 L-14.1 54 L-16.6 52.3 L-18.5 50.3 L-19.6 48.2 L-20 46Z" fill="url(#g14)" stroke="#1e2125" stroke-width="1"/><path d="M20 34 L19.6 36.2 L18.5 38.3 L16.6 40.3 L14.1 42 L11.1 43.4 L7.7 44.4 L3.9 45.1 L0 45.3 L-3.9 45.1 L-7.7 44.4 L-11.1 43.4 L-14.1 42 L-16.6 40.3 L-18.5 38.3 L-19.6 36.2 L-20 34 L-19.6 31.8 L-18.5 29.7 L-16.6 27.7 L-14.1 26 L-11.1 24.6 L-7.7 23.6 L-3.9 22.9 L-0 22.7 L3.9 22.9 L7.7 23.6 L11.1 24.6 L14.1 26 L16.6 27.7 L18.5 29.7 L19.6 31.8Z" fill="#3a3e43" stroke="#1e2125" stroke-width="0.9"/><path d="M13.6 33 L13.3 34.5 L12.6 35.9 L11.3 37.3 L9.6 38.4 L7.6 39.4 L5.2 40.1 L2.7 40.5 L0 40.7 L-2.7 40.5 L-5.2 40.1 L-7.6 39.4 L-9.6 38.4 L-11.3 37.3 L-12.6 35.9 L-13.3 34.5 L-13.6 33 L-13.3 31.5 L-12.6 30.1 L-11.3 28.7 L-9.6 27.6 L-7.6 26.6 L-5.2 25.9 L-2.7 25.5 L-0 25.3 L2.7 25.5 L5.2 25.9 L7.6 26.6 L9.6 27.6 L11.3 28.7 L12.6 30.1 L13.3 31.5Z" fill="#32363a" stroke="#1e2125" stroke-width="0.8"/><path d="M-11.5 0 L-11.5 30 L-11.1 31.7 L-10 33.2 L-8.1 34.6 L-5.8 35.6 L-3 36.3 L-0 36.5 L3 36.3 L5.7 35.6 L8.1 34.6 L10 33.2 L11.1 31.7 L11.5 30 L11.5 0Z" fill="url(#g15)" stroke="#1e2125" stroke-width="0.9"/><path d="M-11.5 25 L-11.1 26.7 L-10 28.2 L-8.1 29.6 L-5.8 30.6 L-3 31.3 L-0 31.5 L3 31.3 L5.7 30.6 L8.1 29.6 L10 28.2 L11.1 26.7 L11.5 25" fill="none" stroke="#1e2125" stroke-width="0.7"/><path d="M11.5 0 L11.3 1.3 L10.6 2.5 L9.6 3.6 L8.1 4.6 L6.4 5.4 L4.4 6 L2.2 6.4 L0 6.5 L-2.2 6.4 L-4.4 6 L-6.4 5.4 L-8.1 4.6 L-9.6 3.6 L-10.6 2.5 L-11.3 1.3 L-11.5 0 L-11.3 -1.3 L-10.6 -2.5 L-9.6 -3.6 L-8.1 -4.6 L-6.4 -5.4 L-4.4 -6 L-2.2 -6.4 L-0 -6.5 L2.2 -6.4 L4.4 -6 L6.4 -5.4 L8.1 -4.6 L9.6 -3.6 L10.6 -2.5 L11.3 -1.3Z" fill="#35393d" stroke="#1e2125" stroke-width="0.9"/></g>
<g id="gd095100"><path d="M-20 34 L-19.6 31.8 L-18.5 29.7 L-16.6 27.7 L-14.1 26 L-11.1 24.6 L-7.7 23.6 L-3.9 22.9 L-0 22.7 L3.9 22.9 L7.7 23.6 L11.1 24.6 L14.1 26 L16.6 27.7 L18.5 29.7 L19.6 31.8 L20 34 L20 46 L19.6 48.2 L18.5 50.3 L16.6 52.3 L14.1 54 L11.1 55.4 L7.7 56.4 L3.9 57.1 L0 57.3 L-3.9 57.1 L-7.7 56.4 L-11.1 55.4 L-14.1 54 L-16.6 52.3 L-18.5 50.3 L-19.6 48.2 L-20 46Z" fill="url(#g16)" stroke="#1e2125" stroke-width="1"/><path d="M20 34 L19.6 36.2 L18.5 38.3 L16.6 40.3 L14.1 42 L11.1 43.4 L7.7 44.4 L3.9 45.1 L0 45.3 L-3.9 45.1 L-7.7 44.4 L-11.1 43.4 L-14.1 42 L-16.6 40.3 L-18.5 38.3 L-19.6 36.2 L-20 34 L-19.6 31.8 L-18.5 29.7 L-16.6 27.7 L-14.1 26 L-11.1 24.6 L-7.7 23.6 L-3.9 22.9 L-0 22.7 L3.9 22.9 L7.7 23.6 L11.1 24.6 L14.1 26 L16.6 27.7 L18.5 29.7 L19.6 31.8Z" fill="#78818a" stroke="#1e2125" stroke-width="0.9"/><path d="M13.6 33 L13.3 34.5 L12.6 35.9 L11.3 37.3 L9.6 38.4 L7.6 39.4 L5.2 40.1 L2.7 40.5 L0 40.7 L-2.7 40.5 L-5.2 40.1 L-7.6 39.4 L-9.6 38.4 L-11.3 37.3 L-12.6 35.9 L-13.3 34.5 L-13.6 33 L-13.3 31.5 L-12.6 30.1 L-11.3 28.7 L-9.6 27.6 L-7.6 26.6 L-5.2 25.9 L-2.7 25.5 L-0 25.3 L2.7 25.5 L5.2 25.9 L7.6 26.6 L9.6 27.6 L11.3 28.7 L12.6 30.1 L13.3 31.5Z" fill="#676f77" stroke="#1e2125" stroke-width="0.8"/><path d="M-11.5 0 L-11.5 30 L-11.1 31.7 L-10 33.2 L-8.1 34.6 L-5.8 35.6 L-3 36.3 L-0 36.5 L3 36.3 L5.7 35.6 L8.1 34.6 L10 33.2 L11.1 31.7 L11.5 30 L11.5 0Z" fill="url(#g17)" stroke="#1e2125" stroke-width="0.9"/><path d="M-11.5 25 L-11.1 26.7 L-10 28.2 L-8.1 29.6 L-5.8 30.6 L-3 31.3 L-0 31.5 L3 31.3 L5.7 30.6 L8.1 29.6 L10 28.2 L11.1 26.7 L11.5 25" fill="none" stroke="#1e2125" stroke-width="0.7"/><path d="M11.5 0 L11.3 1.3 L10.6 2.5 L9.6 3.6 L8.1 4.6 L6.4 5.4 L4.4 6 L2.2 6.4 L0 6.5 L-2.2 6.4 L-4.4 6 L-6.4 5.4 L-8.1 4.6 L-9.6 3.6 L-10.6 2.5 L-11.3 1.3 L-11.5 0 L-11.3 -1.3 L-10.6 -2.5 L-9.6 -3.6 L-8.1 -4.6 L-6.4 -5.4 L-4.4 -6 L-2.2 -6.4 L-0 -6.5 L2.2 -6.4 L4.4 -6 L6.4 -5.4 L8.1 -4.6 L9.6 -3.6 L10.6 -2.5 L11.3 -1.3Z" fill="#6e757f" stroke="#1e2125" stroke-width="0.9"/></g>
<g id="gn10000676f78"><path d="M-22.6 4.4 L-15.3 -9.5 L10.8 -11.4 L22.6 -1.3 L22.6 12.2 L16.5 23 L-7 26.5 L-22.6 17.9Z" fill="#8d97a3" stroke="#1e2125" stroke-width="1.1"/><path d="M-7 13 L-22.6 4.4 L-22.6 17.9 L-7 26.5Z" fill="#9aa4b0" stroke="#1e2125" stroke-width="0.9"/><path d="M16.5 9.5 L-7 13 L-7 26.5 L16.5 23Z" fill="#909aa6" stroke="#1e2125" stroke-width="0.9"/><path d="M22.6 -1.3 L16.5 9.5 L16.5 23 L22.6 12.2Z" fill="#7a838e" stroke="#1e2125" stroke-width="0.9"/><path d="M-18.2 6.8 Q-22.6 4.4 -20.3 -0 L-17.6 -5.1 Q-15.3 -9.5 -10.3 -9.9 L5.8 -11 Q10.8 -11.4 14.6 -8.1 L18.8 -4.6 Q22.6 -1.3 20.1 3.1 L19 5.1 Q16.5 9.5 11.6 10.2 L-2.1 12.3 Q-7 13 -11.4 10.6 Z" fill="#676f78" stroke="#1e2125" stroke-width="1"/><path d="M9.5 0 L9.3 1.1 L8.8 2.1 L7.9 3.1 L6.7 4 L5.3 4.7 L3.6 5.2 L1.9 5.5 L0 5.6 L-1.9 5.5 L-3.6 5.2 L-5.3 4.7 L-6.7 4 L-7.9 3.1 L-8.8 2.1 L-9.3 1.1 L-9.5 0 L-9.3 -1.1 L-8.8 -2.1 L-7.9 -3.1 L-6.7 -4 L-5.3 -4.7 L-3.6 -5.2 L-1.9 -5.5 L-0 -5.6 L1.9 -5.5 L3.6 -5.2 L5.3 -4.7 L6.7 -4 L7.9 -3.1 L8.8 -2.1 L9.3 -1.1Z" fill="#8c959f" stroke="#1e2125" stroke-width="0.9"/></g>
<g id="gn08000676f78"><path d="M-22.6 4.4 L-15.3 -9.5 L10.8 -11.4 L22.6 -1.3 L22.6 12.2 L16.5 23 L-7 26.5 L-22.6 17.9Z" fill="#707882" stroke="#1e2125" stroke-width="1.1"/><path d="M-7 13 L-22.6 4.4 L-22.6 17.9 L-7 26.5Z" fill="#7b838c" stroke="#1e2125" stroke-width="0.9"/><path d="M16.5 9.5 L-7 13 L-7 26.5 L16.5 23Z" fill="#737b84" stroke="#1e2125" stroke-width="0.9"/><path d="M22.6 -1.3 L16.5 9.5 L16.5 23 L22.6 12.2Z" fill="#616871" stroke="#1e2125" stroke-width="0.9"/><path d="M-18.2 6.8 Q-22.6 4.4 -20.3 -0 L-17.6 -5.1 Q-15.3 -9.5 -10.3 -9.9 L5.8 -11 Q10.8 -11.4 14.6 -8.1 L18.8 -4.6 Q22.6 -1.3 20.1 3.1 L19 5.1 Q16.5 9.5 11.6 10.2 L-2.1 12.3 Q-7 13 -11.4 10.6 Z" fill="#525860" stroke="#1e2125" stroke-width="1"/><path d="M9.5 0 L9.3 1.1 L8.8 2.1 L7.9 3.1 L6.7 4 L5.3 4.7 L3.6 5.2 L1.9 5.5 L0 5.6 L-1.9 5.5 L-3.6 5.2 L-5.3 4.7 L-6.7 4 L-7.9 3.1 L-8.8 2.1 L-9.3 1.1 L-9.5 0 L-9.3 -1.1 L-8.8 -2.1 L-7.9 -3.1 L-6.7 -4 L-5.3 -4.7 L-3.6 -5.2 L-1.9 -5.5 L-0 -5.6 L1.9 -5.5 L3.6 -5.2 L5.3 -4.7 L6.7 -4 L7.9 -3.1 L8.8 -2.1 L9.3 -1.1Z" fill="#70777f" stroke="#1e2125" stroke-width="0.9"/></g>
<g id="gb100"><path d="M-11.9 16.5 L11.9 16.5 L11.9 46.5 L11.5 48.2 L10.3 49.8 L8.4 51.2 L6 52.2 L3.1 52.9 L0 53.1 L-3.1 52.9 L-5.9 52.2 L-8.4 51.2 L-10.3 49.8 L-11.5 48.2 L-11.9 46.5Z" fill="url(#g18)" stroke="#1e2125" stroke-width="0.9"/><path d="M-20.1 3 L-19.7 0.8 L-18.3 -2 L-17.3 -4 L-15.5 -5.8 L-13.2 -7.4 L-10.4 -8.7 L-7.2 -9.6 L-3.6 -10.2 L-0 -10.4 L3.6 -10.2 L7.2 -9.6 L10.4 -8.7 L13.2 -7.4 L15.5 -5.8 L17.3 -4 L18.3 -2 L19.7 0.8 L20.1 3 L20.1 16.5 L19.7 18.7 L18.6 20.8 L16.7 22.7 L14.2 24.4 L11.2 25.8 L7.7 26.9 L3.9 27.5 L0 27.7 L-3.9 27.5 L-7.7 26.9 L-11.2 25.8 L-14.2 24.4 L-16.7 22.7 L-18.6 20.8 L-19.7 18.7 L-20.1 16.5Z" fill="url(#g19)" stroke="#1e2125" stroke-width="1"/><path d="M18.7 0 L18.3 2 L17.3 4 L15.5 5.8 L13.2 7.4 L10.4 8.7 L7.2 9.6 L3.6 10.2 L0 10.4 L-3.6 10.2 L-7.2 9.6 L-10.4 8.7 L-13.2 7.4 L-15.5 5.8 L-17.3 4 L-18.3 2 L-18.7 0 L-18.3 -2 L-17.3 -4 L-15.5 -5.8 L-13.2 -7.4 L-10.4 -8.7 L-7.2 -9.6 L-3.6 -10.2 L-0 -10.4 L3.6 -10.2 L7.2 -9.6 L10.4 -8.7 L13.2 -7.4 L15.5 -5.8 L17.3 -4 L18.3 -2Z" fill="#9aa2ab" stroke="#1e2125" stroke-width="0.9"/><path d="M20.1 3 L19.7 5.2 L18.6 7.3 L16.7 9.2 L14.2 10.9 L11.2 12.3 L7.7 13.3 L3.9 14 L0 14.2 L-3.9 14 L-7.7 13.3 L-11.2 12.3 L-14.2 10.9 L-16.7 9.2 L-18.6 7.3 L-19.7 5.2 L-20.1 3" fill="none" stroke="#1e2125" stroke-width="0.7"/><path d="M12.5 0 L12.2 1.4 L11.5 2.7 L10.4 3.9 L8.8 4.9 L6.9 5.8 L4.8 6.4 L2.4 6.8 L0 6.9 L-2.4 6.8 L-4.8 6.4 L-6.9 5.8 L-8.8 4.9 L-10.4 3.9 L-11.5 2.7 L-12.2 1.4 L-12.5 0 L-12.2 -1.4 L-11.5 -2.7 L-10.4 -3.9 L-8.8 -4.9 L-6.9 -5.8 L-4.8 -6.4 L-2.4 -6.8 L-0 -6.9 L2.4 -6.8 L4.8 -6.4 L6.9 -5.8 L8.8 -4.9 L10.4 -3.9 L11.5 -2.7 L12.2 -1.4Z" fill="#848b94" stroke="#1e2125" stroke-width="1.2"/><path d="M9.2 0 L8.9 1.3 L4.7 1.5 L3.8 2.1 L4.6 4.5 L2.4 5 L0 3 L-1.4 2.9 L-4.6 4.5 L-6.5 3.6 L-4.7 1.5 L-5.2 0.8 L-9.2 0 L-8.9 -1.3 L-4.7 -1.5 L-3.8 -2.1 L-4.6 -4.5 L-2.4 -5 L-0 -3 L1.4 -2.9 L4.6 -4.5 L6.5 -3.6 L4.7 -1.5 L5.2 -0.8Z" fill="#9299a3" stroke="#1e2125" stroke-width="1"/></g>
<g id="gn112018e959d"><path d="M-22.6 4.4 L-15.3 -9.5 L10.8 -11.4 L22.6 -1.3 L22.6 12.2 L16.5 23 L-7 26.5 L-22.6 17.9Z" fill="#9da9b6" stroke="#1e2125" stroke-width="1.1"/><path d="M-7 13 L-22.6 4.4 L-22.6 17.9 L-7 26.5Z" fill="#acb7c5" stroke="#1e2125" stroke-width="0.9"/><path d="M16.5 9.5 L-7 13 L-7 26.5 L16.5 23Z" fill="#a1acb9" stroke="#1e2125" stroke-width="0.9"/><path d="M22.6 -1.3 L16.5 9.5 L16.5 23 L22.6 12.2Z" fill="#88929f" stroke="#1e2125" stroke-width="0.9"/><path d="M-18.2 6.8 Q-22.6 4.4 -20.3 -0 L-17.6 -5.1 Q-15.3 -9.5 -10.3 -9.9 L5.8 -11 Q10.8 -11.4 14.6 -8.1 L18.8 -4.6 Q22.6 -1.3 20.1 3.1 L19 5.1 Q16.5 9.5 11.6 10.2 L-2.1 12.3 Q-7 13 -11.4 10.6 Z" fill="#9fa6af" stroke="#1e2125" stroke-width="1"/><path d="M17 0 L16.7 1.9 L15.7 3.7 L14.1 5.3 L12 6.8 L9.4 8 L6.5 8.9 L3.3 9.4 L0 9.6 L-3.3 9.4 L-6.5 8.9 L-9.4 8 L-12 6.8 L-14.1 5.3 L-15.7 3.7 L-16.7 1.9 L-17 0 L-16.7 -1.9 L-15.7 -3.7 L-14.1 -5.3 L-12 -6.8 L-9.4 -8 L-6.5 -8.9 L-3.3 -9.4 L-0 -9.6 L3.3 -9.4 L6.5 -8.9 L9.4 -8 L12 -6.8 L14.1 -5.3 L15.7 -3.7 L16.7 -1.9Z" fill="#9da8b4" stroke="#1e2125" stroke-width="0.7"/><path d="M12.5 0 L12.3 1.4 L11.5 2.8 L10.4 4 L8.8 5.1 L6.9 6 L4.8 6.7 L2.4 7.1 L0 7.2 L-2.4 7.1 L-4.8 6.7 L-6.9 6 L-8.8 5.1 L-10.4 4 L-11.5 2.8 L-12.3 1.4 L-12.5 0 L-12.3 -1.4 L-11.5 -2.8 L-10.4 -4 L-8.8 -5.1 L-6.9 -6 L-4.8 -6.7 L-2.4 -7.1 L-0 -7.2 L2.4 -7.1 L4.8 -6.7 L6.9 -6 L8.8 -5.1 L10.4 -4 L11.5 -2.8 L12.3 -1.4Z" fill="#acb6c1" stroke="#1e2125" stroke-width="0.7"/><path d="M9.5 0 L9.3 1.1 L8.8 2.1 L7.9 3.1 L6.7 4 L5.3 4.7 L3.6 5.2 L1.9 5.5 L0 5.6 L-1.9 5.5 L-3.6 5.2 L-5.3 4.7 L-6.7 4 L-7.9 3.1 L-8.8 2.1 L-9.3 1.1 L-9.5 0 L-9.3 -1.1 L-8.8 -2.1 L-7.9 -3.1 L-6.7 -4 L-5.3 -4.7 L-3.6 -5.2 L-1.9 -5.5 L-0 -5.6 L1.9 -5.5 L3.6 -5.2 L5.3 -4.7 L6.7 -4 L7.9 -3.1 L8.8 -2.1 L9.3 -1.1Z" fill="#9ca6b2" stroke="#1e2125" stroke-width="0.9"/></g>
<g id="cb"><path d="M-20.6 15 L-20.2 12.7 L-17 -1.9 L-16 -3.8 L-14.4 -5.5 L-12.2 -7 L-9.6 -8.3 L-6.6 -9.2 L-3.4 -9.8 L-0 -9.9 L3.4 -9.8 L6.6 -9.2 L9.6 -8.3 L12.2 -7 L14.4 -5.5 L16 -3.8 L17 -1.9 L20.2 12.7 L20.6 15 L20.2 17.3 L19 19.5 L17.1 21.6 L14.6 23.4 L11.4 24.9 L7.9 25.9 L4 26.6 L0 26.8 L-4 26.6 L-7.9 25.9 L-11.4 24.9 L-14.6 23.4 L-17.1 21.6 L-19 19.5 L-20.2 17.3Z" fill="url(#g20)" stroke="#1e2125" stroke-width="1"/><path d="M17.3 0 L17 1.9 L16 3.8 L14.4 5.5 L12.2 7 L9.6 8.3 L6.6 9.2 L3.4 9.8 L0 9.9 L-3.4 9.8 L-6.6 9.2 L-9.6 8.3 L-12.2 7 L-14.4 5.5 L-16 3.8 L-17 1.9 L-17.3 0 L-17 -1.9 L-16 -3.8 L-14.4 -5.5 L-12.2 -7 L-9.6 -8.3 L-6.6 -9.2 L-3.4 -9.8 L-0 -9.9 L3.4 -9.8 L6.6 -9.2 L9.6 -8.3 L12.2 -7 L14.4 -5.5 L16 -3.8 L17 -1.9Z" fill="#a3abb5" stroke="#1e2125" stroke-width="0.9"/><path d="M12.5 0 L12.2 1.4 L11.5 2.7 L10.4 4 L8.8 5.1 L6.9 6 L4.8 6.6 L2.4 7 L0 7.2 L-2.4 7 L-4.8 6.6 L-6.9 6 L-8.8 5.1 L-10.4 4 L-11.5 2.7 L-12.2 1.4 L-12.5 0 L-12.2 -1.4 L-11.5 -2.7 L-10.4 -4 L-8.8 -5.1 L-6.9 -6 L-4.8 -6.6 L-2.4 -7 L-0 -7.2 L2.4 -7 L4.8 -6.6 L6.9 -6 L8.8 -5.1 L10.4 -4 L11.5 -2.7 L12.2 -1.4Z" fill="#8c949d" stroke="#1e2125" stroke-width="1.2"/><path d="M8.7 0 L8.4 1.3 L4.5 1.5 L3.7 2.1 L4.3 4.3 L2.2 4.8 L0 3 L-1.3 2.9 L-4.3 4.3 L-6.1 3.5 L-4.5 1.5 L-5 0.8 L-8.7 0 L-8.4 -1.3 L-4.5 -1.5 L-3.7 -2.1 L-4.3 -4.3 L-2.2 -4.8 L-0 -3 L1.3 -2.9 L4.3 -4.3 L6.1 -3.5 L4.5 -1.5 L5 -0.8Z" fill="#9aa2ac" stroke="#1e2125" stroke-width="1"/></g>
<g id="gn112109aa2ab"><path d="M-22.6 4.4 L-15.3 -9.5 L10.8 -11.4 L22.6 -1.3 L22.6 12.2 L16.5 23 L-7 26.5 L-22.6 17.9Z" fill="#9da9b6" stroke="#1e2125" stroke-width="1.1"/><path d="M-7 13 L-22.6 4.4 L-22.6 17.9 L-7 26.5Z" fill="#acb7c5" stroke="#1e2125" stroke-width="0.9"/><path d="M16.5 9.5 L-7 13 L-7 26.5 L16.5 23Z" fill="#a1acb9" stroke="#1e2125" stroke-width="0.9"/><path d="M22.6 -1.3 L16.5 9.5 L16.5 23 L22.6 12.2Z" fill="#88929f" stroke="#1e2125" stroke-width="0.9"/><path d="M-18.2 6.8 Q-22.6 4.4 -20.3 -0 L-17.6 -5.1 Q-15.3 -9.5 -10.3 -9.9 L5.8 -11 Q10.8 -11.4 14.6 -8.1 L18.8 -4.6 Q22.6 -1.3 20.1 3.1 L19 5.1 Q16.5 9.5 11.6 10.2 L-2.1 12.3 Q-7 13 -11.4 10.6 Z" fill="#acb5bf" stroke="#1e2125" stroke-width="1"/><path d="M-10.5 -9 L-10.3 -10.2 L-9.7 -11.3 L-8.7 -12.3 L-7.4 -13.2 L-5.8 -14 L-4 -14.5 L-2 -14.9 L-0 -15 L2 -14.9 L4 -14.5 L5.8 -14 L7.4 -13.2 L8.7 -12.3 L9.7 -11.3 L10.3 -10.2 L10.5 -9 L10.5 0 L10.3 1.2 L9.7 2.3 L8.7 3.3 L7.4 4.2 L5.8 5 L4 5.5 L2 5.9 L0 6 L-2 5.9 L-4 5.5 L-5.8 5 L-7.4 4.2 L-8.7 3.3 L-9.7 2.3 L-10.3 1.2 L-10.5 0Z" fill="#acb6c2" stroke="#1e2125" stroke-width="0.9"/><path d="M9.3 -9 L9.1 -8 L8.6 -7 L7.7 -6.1 L6.6 -5.3 L5.2 -4.6 L3.6 -4.1 L1.8 -3.8 L0 -3.7 L-1.8 -3.8 L-3.6 -4.1 L-5.2 -4.6 L-6.6 -5.3 L-7.7 -6.1 L-8.6 -7 L-9.1 -8 L-9.3 -9 L-9.1 -10 L-8.6 -11 L-7.7 -11.9 L-6.6 -12.7 L-5.2 -13.4 L-3.6 -13.9 L-1.8 -14.2 L-0 -14.3 L1.8 -14.2 L3.6 -13.9 L5.2 -13.4 L6.6 -12.7 L7.7 -11.9 L8.6 -11 L9.1 -10Z" fill="#bdc6d1" stroke="#1e2125" stroke-width="0.8"/></g><g id="base"><path d="M385.8 1461 L468.2 1413.5 L468.2 1470 L391.8 1514.1 Q385.8 1517.6 385.8 1510.6 Z" fill="#c4b388" stroke="#241f16" stroke-width="1"/>
<path d="M390.5 1463.7 L472.9 1416.2 L472.9 1472.8 L396.5 1516.8 Q390.5 1520.3 390.5 1513.3 Z" fill="#cdbd93" stroke="#241f16" stroke-width="1"/>
<use href="#hra59971fff" x="416.8" y="1478.4"/>
<path d="M440.2 1428.3 L1143.8 1022.2 L1143.8 1144.6 L440.2 1550.7 Z" fill="#8d8263" stroke="#241f16" stroke-width="1"/>
<path d="M444.9 1431 L1148.5 1024.9 L1148.5 1147.3 L444.9 1553.4 Z" fill="url(#g1)" stroke="#241f16" stroke-width="1"/>
<path d="M444.9 1431 L1148.5 1024.9 L1148.5 1147.3 L444.9 1553.4Z" fill="url(#g2)"/>
<use href="#hr7b7254fff" x="468.3" y="1509.3"/>
<use href="#hr7b7254fff" x="515.4" y="1482.1"/>
<use href="#hs7b7254fff" x="561.3" y="1399.4"/>
<use href="#hr7b7254fff" x="562.5" y="1454.9"/>
<use href="#hs665e46fff" x="608.4" y="1372.2"/>
<use href="#hr665e46fff" x="609.6" y="1427.7"/>
<use href="#hs665e46fff" x="655.5" y="1345"/>
<use href="#hr665e46fff" x="656.7" y="1400.5"/>
<use href="#hs665e46fff" x="702.6" y="1317.9"/>
<use href="#hr665e46fff" x="703.8" y="1373.4"/>
<use href="#hs665e46fff" x="749.7" y="1290.7"/>
<use href="#hr665e46fff" x="750.9" y="1346.2"/>
<use href="#hs665e46fff" x="796.8" y="1263.5"/>
<use href="#hr665e46fff" x="798" y="1319"/>
<use href="#hs554f3afff" x="843.9" y="1236.3"/>
<use href="#hr554f3afff" x="845.1" y="1291.8"/>
<use href="#hs554f3afff" x="891" y="1209.1"/>
<use href="#hr554f3afff" x="892.2" y="1264.6"/>
<use href="#hs554f3afff" x="938.1" y="1182"/>
<use href="#hr554f3afff" x="939.3" y="1237.5"/>
<use href="#hs554f3afff" x="985.2" y="1154.8"/>
<use href="#hr554f3afff" x="986.4" y="1210.3"/>
<use href="#hr554f3afff" x="1033.5" y="1183.1"/>
<use href="#hs554f3afff" x="1079.4" y="1100.4"/>
<use href="#hr554f3afff" x="1080.6" y="1155.9"/>
<use href="#hr554f3afff" x="1127.7" y="1128.7"/>
<path d="M299.6 1462.1 L1474.7 783.9 L1474.7 831.5 Q1474.7 840.5 1466.9 845 L305.6 1515.1 Q299.6 1518.6 299.6 1511.6 Z" fill="#c4b388" stroke="#241f16" stroke-width="1"/>
<path d="M304.3 1464.8 L1479.4 786.6 L1479.4 834.2 Q1479.4 843.2 1471.6 847.7 L310.3 1517.9 Q304.3 1521.4 304.3 1514.4 Z" fill="url(#g3)" stroke="#241f16" stroke-width="1"/>
<path d="M304.3 1464.8 L1479.4 786.6 L1479.4 834.2 Q1479.4 843.2 1471.6 847.7 L310.3 1517.9 Q304.3 1521.4 304.3 1514.4 Z" fill="url(#g4)"/>
<path d="M299.3 1456.2 L1474.5 778.1 L1479.4 786.6 L304.3 1464.8Z" fill="url(#g5)" stroke="#241f16" stroke-width="0.9"/>
<use href="#hra59971fff" x="327" y="1481"/>
<use href="#hra59971fff" x="374.1" y="1453.8"/>
<use href="#hra59971fff" x="421.2" y="1426.6"/>
<use href="#hra59971fff" x="562.5" y="1345.1"/>
<use href="#hra59971fff" x="609.6" y="1317.9"/>
<use href="#hra59971fff" x="656.7" y="1290.7"/>
<use href="#hra59971fff" x="703.8" y="1263.6"/>
<use href="#hra59971fff" x="750.9" y="1236.4"/>
<use href="#hra59971fff" x="798" y="1209.2"/>
<use href="#hra59971fff" x="845.1" y="1182"/>
<use href="#hra59971fff" x="892.2" y="1154.8"/>
<use href="#hra59971fff" x="939.3" y="1127.7"/>
<use href="#hra59971fff" x="986.4" y="1100.5"/>
<use href="#hra59971fff" x="1127.7" y="1018.9"/>
<use href="#hra59971fff" x="1174.8" y="991.8"/>
<use href="#hra59971fff" x="1221.9" y="964.6"/>
<use href="#hra59971fff" x="1269" y="937.4"/>
<use href="#hra59971fff" x="1316.1" y="910.2"/>
<use href="#hra59971fff" x="1363.2" y="883"/>
<use href="#hra59971fff" x="1410.3" y="855.9"/>
<use href="#hra59971fff" x="1457.4" y="828.7"/>
<path d="M255.1 1430.7 L300.3 1456.8 L300.3 1462.2 L255.1 1436.1Z" fill="#c4b388" stroke="#241f16" stroke-width="0.9"/>
<path d="M260 1433.5 Q252.2 1429 260 1424.5 L1419.6 755.4 Q1427.4 750.9 1435.2 755.4 L1471.9 776.6 Q1474.5 778.1 1471.9 779.6 L299.3 1456.2 Z" fill="#dac99e" stroke="#241f16" stroke-width="1"/>
<use href="#hta59971fff" x="296.5" y="1428.5"/>
<use href="#hta59971fff" x="343.6" y="1401.3"/>
<use href="#hta59971fff" x="390.7" y="1374.1"/>
<use href="#hta59971fff" x="437.8" y="1347"/>
<use href="#hta59971fff" x="484.9" y="1319.8"/>
<use href="#hta59971fff" x="532" y="1292.6"/>
<use href="#hta59971fff" x="579.1" y="1265.4"/>
<use href="#hta59971fff" x="626.2" y="1238.2"/>
<use href="#hta59971fff" x="673.3" y="1211.1"/>
<use href="#hta59971fff" x="720.4" y="1183.9"/>
<use href="#hta59971fff" x="767.5" y="1156.7"/>
<use href="#hta59971fff" x="814.6" y="1129.5"/>
<use href="#hta59971fff" x="861.7" y="1102.3"/>
<use href="#hta59971fff" x="908.8" y="1075.2"/>
<use href="#hta59971fff" x="955.9" y="1048"/>
<use href="#hta59971fff" x="1003" y="1020.8"/>
<use href="#hta59971fff" x="1050.1" y="993.6"/>
<use href="#hta59971fff" x="1097.2" y="966.4"/>
<use href="#hta59971fff" x="1144.3" y="939.3"/>
<use href="#hta59971fff" x="1191.4" y="912.1"/>
<use href="#hta59971fff" x="1238.5" y="884.9"/>
<use href="#hta59971fff" x="1285.6" y="857.7"/>
<use href="#hta59971fff" x="1332.7" y="830.5"/>
<use href="#hta59971fff" x="1379.8" y="803.4"/>
<use href="#hta59971fff" x="1426.9" y="776.2"/>
<use href="#tn106" x="468.3" y="1399.5"/>
<use href="#tn104" x="515.4" y="1372.3"/>
<use href="#tn095" x="468.3" y="1453.9"/>
<use href="#tn092" x="515.4" y="1426.7"/>
<use href="#tn100" x="1033.5" y="1073.3"/>
<use href="#tn103" x="1080.6" y="1046.1"/>
<use href="#tn084" x="1033.5" y="1127.7"/>
<use href="#tn086" x="1127.7" y="1073.3"/>
<use href="#hs5f58418a7f60" x="1079.4" y="1100.4"/>
<path d="M432.9 1539.8 L598.6 1444.1 L598.6 1499.6 L439.8 1591.3 Q432.9 1595.3 432.9 1587.3 Z" fill="#c4b388" stroke="#241f16" stroke-width="1"/>
<path d="M437.6 1542.5 L603.4 1446.8 L603.4 1502.3 L444.5 1594 Q437.6 1598 437.6 1590 Z" fill="#d9c89d" stroke="#241f16" stroke-width="1"/>
<use href="#hra59971fff" x="456.9" y="1560"/>
<path d="M572 1511.4 L1279.5 1103.2 L1279.5 1210.3 Q1279.5 1219.3 1271.7 1223.8 L578.1 1624 Q572 1627.5 572 1620.5 Z" fill="#c4b388" stroke="#241f16" stroke-width="1"/>
<path d="M576.7 1514.1 L1284.2 1105.9 L1284.2 1213 Q1284.2 1222 1276.4 1226.5 L582.8 1626.8 Q576.7 1630.3 576.7 1623.3 Z" fill="#d4c398" stroke="#241f16" stroke-width="1"/>
<use href="#hra59971fff" x="600.5" y="1590.6"/>
<use href="#hra59971fff" x="647.6" y="1563.4"/>
<use href="#hra59971fff" x="694.7" y="1536.2"/>
<use href="#hra59971fff" x="741.8" y="1509.1"/>
<use href="#hra59971fff" x="788.9" y="1481.9"/>
<use href="#hra59971fff" x="836" y="1454.7"/>
<use href="#hra59971fff" x="883.1" y="1427.5"/>
<use href="#hra59971fff" x="930.2" y="1400.3"/>
<use href="#hra59971fff" x="977.3" y="1373.2"/>
<use href="#hra59971fff" x="1024.4" y="1346"/>
<use href="#hra59971fff" x="1071.5" y="1318.8"/>
<use href="#hra59971fff" x="1118.6" y="1291.6"/>
<use href="#hra59971fff" x="1165.7" y="1264.4"/>
<use href="#hra59971fff" x="1212.8" y="1237.3"/>
<use href="#hra59971fff" x="1259.9" y="1210.1"/>
<use href="#hsa59971fff" x="694.4" y="1475.3"/>
<use href="#hsa59971fff" x="741.5" y="1448.1"/>
<use href="#hsa59971fff" x="788.6" y="1420.9"/>
<use href="#hsa59971fff" x="835.7" y="1393.7"/>
<use href="#hsa59971fff" x="882.8" y="1366.5"/>
<use href="#hsa59971fff" x="929.9" y="1339.4"/>
<use href="#hsa59971fff" x="977" y="1312.2"/>
<use href="#hsa59971fff" x="1024.1" y="1285"/>
<use href="#hsa59971fff" x="1071.2" y="1257.8"/>
<use href="#hsa59971fff" x="1118.3" y="1230.6"/>
<path d="M529.6 1541.3 L670.9 1459.8 L670.9 1515.2 L535.7 1593.3 Q529.6 1596.8 529.6 1589.8 Z" fill="#c4b388" stroke="#241f16" stroke-width="1"/>
<path d="M534.4 1544 L675.7 1462.5 L675.7 1518 L540.4 1596 Q534.4 1599.5 534.4 1592.5 Z" fill="#d4c398" stroke="#241f16" stroke-width="1"/>
<use href="#hra59971fff" x="557.9" y="1560.7"/>
<use href="#tb100" x="605" y="1533.5"/>
<use href="#tb100" x="652.1" y="1506.3"/>
<path d="M1141.9 1188 L1283.2 1106.4 L1283.2 1161.9 L1141.9 1243.4 Z" fill="#c4b388" stroke="#241f16" stroke-width="1"/>
<path d="M1146.7 1190.7 L1288 1109.1 L1288 1164.6 L1146.7 1246.2 Z" fill="#d4c398" stroke="#241f16" stroke-width="1"/>
<use href="#hra59971fff" x="1216.9" y="1179.2"/>
<use href="#tb100" x="1169.8" y="1206.4"/>
<use href="#tb100" x="1264" y="1152"/>
<path d="M434.6 1541.9 Q432.9 1540.9 434.6 1539.9 L1606.4 863.6 Q1609.9 861.6 1613.3 863.6 L1653.2 886.6 Q1661 891.1 1653.2 895.6 L494.4 1564.3 Q484 1570.3 473.6 1564.3 Z" fill="#c4b388" stroke="#241f16" stroke-width="0.9"/>
<path d="M434.6 1536.5 Q432.9 1535.5 434.6 1534.5 L1606.4 858.2 Q1609.9 856.2 1613.3 858.2 L1653.2 881.2 Q1661 885.7 1653.2 890.2 L494.4 1558.9 Q484 1564.9 473.6 1558.9 Z" fill="#dac99e" stroke="#241f16" stroke-width="1"/>
<path d="M437.8 1537.2 L1612.9 859.1" stroke="#241f16" stroke-width="0.7" fill="none"/>
<use href="#hta99c75cbbb91" x="484.9" y="1537.2"/>
<use href="#hta99c75cbbb91" x="532" y="1510"/>
<use href="#hta99c75cbbb91" x="579.1" y="1482.9"/>
<use href="#hta99c75cbbb91" x="626.2" y="1455.7"/>
<use href="#hta99c75cbbb91" x="673.3" y="1428.5"/>
<use href="#hta99c75cbbb91" x="720.4" y="1401.3"/>
<use href="#hta99c75cbbb91" x="767.5" y="1374.1"/>
<use href="#hta99c75cbbb91" x="814.6" y="1347"/>
<use href="#hta99c75cbbb91" x="861.7" y="1319.8"/>
<use href="#hta99c75cbbb91" x="908.8" y="1292.6"/>
<use href="#hta99c75cbbb91" x="955.9" y="1265.4"/>
<use href="#hta99c75cbbb91" x="1003" y="1238.2"/>
<use href="#hta99c75cbbb91" x="1050.1" y="1211.1"/>
<use href="#hta99c75cbbb91" x="1097.2" y="1183.9"/>
<use href="#hta99c75cbbb91" x="1144.3" y="1156.7"/>
<use href="#hta99c75cbbb91" x="1191.4" y="1129.5"/>
<use href="#hta99c75cbbb91" x="1238.5" y="1102.3"/>
<use href="#hta99c75cbbb91" x="1285.6" y="1075.2"/>
<use href="#hta99c75cbbb91" x="1332.7" y="1048"/>
<use href="#hta99c75cbbb91" x="1379.8" y="1020.8"/>
<use href="#hta99c75cbbb91" x="1426.9" y="993.6"/>
<use href="#hta99c75cbbb91" x="1474" y="966.4"/>
<use href="#hta99c75cbbb91" x="1521.1" y="939.3"/>
<use href="#hta99c75cbbb91" x="1568.2" y="912.1"/>
<use href="#hta99c75cbbb91" x="1615.3" y="884.9"/></g></defs>
<rect width="2734" height="2037" fill="#fff"/>
<rect x="64" y="64" width="911" height="403" rx="30" fill="#ebe9ea"/>
<rect x="110" y="104" width="438" height="132" rx="10" fill="#212628"/>
<circle cx="141.4" cy="136" r="12.4" fill="#ebe9ea"/>
<path d="M128.9 193 Q141.4 184.5 153.9 193 V215 Q141.4 223.5 128.9 215 Z" fill="#ebe9ea"/>
<circle cx="203.9" cy="136" r="12.4" fill="#ebe9ea"/>
<path d="M191.4 193 Q203.9 184.5 216.4 193 V215 Q203.9 223.5 191.4 215 Z" fill="#ebe9ea"/>
<circle cx="266.5" cy="136" r="12.4" fill="#ebe9ea"/>
<path d="M254 193 Q266.5 184.5 279 193 V215 Q266.5 223.5 254 215 Z" fill="#ebe9ea"/>
<circle cx="329" cy="136" r="12.4" fill="#ebe9ea"/>
<path d="M316.5 193 Q329 184.5 341.5 193 V215 Q329 223.5 316.5 215 Z" fill="#ebe9ea"/>
<circle cx="391.6" cy="136" r="12.4" fill="#ebe9ea"/>
<path d="M379.1 193 Q391.6 184.5 404.1 193 V215 Q391.6 223.5 379.1 215 Z" fill="#ebe9ea"/>
<circle cx="454.1" cy="136" r="12.4" fill="#ebe9ea"/>
<path d="M441.6 193 Q454.1 184.5 466.6 193 V215 Q454.1 223.5 441.6 215 Z" fill="#ebe9ea"/>
<circle cx="516.7" cy="136" r="12.4" fill="#ebe9ea"/>
<path d="M504.2 193 Q516.7 184.5 529.2 193 V215 Q516.7 223.5 504.2 215 Z" fill="#ebe9ea"/>
<rect x="109" y="306" width="475.5" height="67" rx="33.5" fill="#212628"/>
<circle cx="143.4" cy="340" r="13.4" fill="#ebe9ea"/>
<circle cx="211.2" cy="340" r="13.4" fill="#ebe9ea"/>
<circle cx="279" cy="340" r="13.4" fill="#ebe9ea"/>
<circle cx="346.8" cy="340" r="13.4" fill="#ebe9ea"/>
<circle cx="414.6" cy="340" r="13.4" fill="#ebe9ea"/>
<circle cx="482.4" cy="340" r="13.4" fill="#ebe9ea"/>
<circle cx="550.2" cy="340" r="13.4" fill="#ebe9ea"/>
<text x="302" y="277" font-size="24" fill="#231f20">1021 <tspan font-weight="bold">2x</tspan></text>
<text x="298" y="422.5" font-size="24" fill="#231f20">1007 <tspan font-weight="bold">1x</tspan></text>
<text x="765.5" y="203.5" font-size="24" fill="#231f20">M3,5x6 <tspan font-weight="bold">10x</tspan></text>
<text x="777" y="366" font-size="24" fill="#231f20">M3,5 <tspan font-weight="bold">10x</tspan></text>
<path d="M683.1 190.9 L683.2 188.8 L683.6 186.9 L684.4 185.1 L685.5 183.6 L686.8 182.2 L688.3 181.2 L719.1 164.8 L720.8 164.1 L722.6 163.8 L724.5 163.8 L726.4 164.2 L728.2 164.9 L730 165.9 L731.5 167.3 L732.9 168.9 L734.1 170.7 L734.9 172.6 L735.5 174.7 L735.7 176.7 L735.6 178.8 L735.1 180.7 L734.4 182.5 L733.4 184 L732 185.3 L730.5 186.4 L699.7 202.8 L698 203.5 L696.2 203.8 L694.3 203.8 L692.4 203.4 L690.6 202.7 L688.8 201.7 L687.2 200.3 L685.9 198.7 L684.7 196.9 L683.9 195 L683.3 192.9Z" fill="#a4aeb8"/>
<path d="M652.8 208.3 L653 203.5 L653.8 198.7 L655.2 194.1 L657.2 189.8 L659.7 186.1 L662.5 182.9 L665.7 180.4 L669.2 178.7 L678.8 175.5 L682.5 174.7 L686.3 174.7 L689.9 175.4 L693.4 177 L696.6 179.3 L699.4 182.3 L701.7 185.8 L703.4 189.8 L704.5 194.1 L705 198.6 L704.9 203.2 L704.1 207.8 L702.6 212.1 L700.6 216.1 L698.1 219.7 L695.1 222.6 L691.8 224.9 L681.1 230.8 L677.6 232.5 L674.1 233.4 L670.5 233.4 L667 232.7 L663.7 231 L660.7 228.6 L658 225.6 L655.9 221.9 L654.3 217.7 L653.2 213.1Z" fill="#a2acb6"/>
<path d="M691 207.9 L690.2 212.4 L689 216.7 L687.2 220.6 L684.9 224.1 L682.3 227.1 L679.4 229.4 L676.3 231 L673.1 231.8 L669.9 231.9 L666.7 231.1 L663.8 229.6 L661 227.4 L658.7 224.6 L656.8 221.1 L655.3 217.3 L654.4 213 L654 208.6 L654.2 204.1 L655 199.6 L656.2 195.3 L658 191.4 L660.3 187.9 L662.9 184.9 L665.8 182.6 L668.9 181 L672.1 180.2 L675.3 180.1 L678.5 180.9 L681.4 182.4 L684.2 184.6 L686.5 187.4 L688.4 190.9 L689.9 194.7 L690.8 199 L691.2 203.4Z" fill="#a5afb9" stroke="#98a3ad" stroke-width="0.8"/>
<path d="M677.4 209 L677 211.4 L676.3 213.7 L675.4 215.9 L674.2 217.8 L672.8 219.3 L671.2 220.6 L669.5 221.4 L667.8 221.9 L666 221.9 L664.3 221.5 L662.7 220.7 L661.3 219.5 L660 218 L658.9 216.1 L658.2 214.1 L657.7 211.8 L657.5 209.4 L657.6 207 L658 204.6 L658.7 202.3 L659.6 200.1 L660.8 198.2 L662.2 196.7 L663.8 195.4 L665.5 194.6 L667.2 194.1 L669 194.1 L670.7 194.5 L672.3 195.3 L673.7 196.5 L675 198 L676.1 199.9 L676.8 201.9 L677.3 204.2 L677.5 206.6Z" fill="#8e99a4"/>
<path d="M660 199.5 L667 205.5 L674 198.5 L673 207.5 L678 213.5 L670 213.5 L668 221.5 L663 213.5 L658 215.5 L661 207.5 Z" fill="#a7b1bb"/>
<path d="M661.2 348.4 L676.6 327.2 L711.2 326.4 L727 348.4 L727 363.4 L710.5 383.8 L677.4 383.8 L661.2 363.4 Z" fill="#9ea8b2" stroke="#9ea8b2" stroke-width="2" stroke-linejoin="round"/>
<path d="M661.2 348.4 L676.6 327.2 L711.2 326.4 L727 348.4 L709.7 366.5 L677.4 367.3 Z" fill="#a3adb7" stroke="#a3adb7" stroke-width="2" stroke-linejoin="round"/>
<path d="M677.4 367.3 L677.4 383.8 M709.7 366.5 L710.5 383.8" stroke="#939ea8" stroke-width="0.8" fill="none"/>
<ellipse cx="693.9" cy="346" rx="17.5" ry="12" fill="none" stroke="#97a2ac" stroke-width="0.8"/>
<ellipse cx="693.9" cy="347.6" rx="13.4" ry="9.4" fill="#96a1ab"/>
<ellipse cx="693.9" cy="354.6" rx="8.7" ry="3.2" fill="#ebe9ea"/>
<rect x="2261" y="66" width="402" height="194" rx="27" fill="#ebe9ea"/>
<text transform="matrix(0.2048 0 0 0.2638 2313 184.2)" font-size="200" font-weight="bold" fill="#231f20" stroke="#231f20" stroke-width="2.5">1:1</text>
<rect x="2408.6" y="150.5" width="73" height="41.5" rx="3" fill="#a9a8ab"/>
<path d="M2412 151 L2415 192 M2417.6 151 L2420.6 192 M2423.2 151 L2426.2 192 M2428.8 151 L2431.8 192 M2434.4 151 L2437.4 192 M2440 151 L2443 192 M2445.6 151 L2448.6 192 M2451.2 151 L2454.2 192 M2456.8 151 L2459.8 192 M2462.4 151 L2465.4 192 M2468 151 L2471 192 M2473.6 151 L2476.6 192 M2479.2 151 L2482.2 192 " stroke="#656c72" stroke-width="2.7" fill="none" stroke-linecap="butt"/>
<rect x="2479.9" y="135.6" width="23.6" height="71.5" rx="11.8" fill="#b0aeb1"/>
<text x="2522.8" y="182.3" font-size="28.7" font-weight="bold" fill="#231f20" text-anchor="start">M3,5x6</text>
<text x="2636.3" y="1944.4" font-size="30" font-weight="normal" fill="#231f20" text-anchor="start">5</text>
<use href="#base"/>
<use href="#gd068066" x="1238.1" y="1004"/>
<use href="#gd070066" x="1285.4" y="976.6"/>
<use href="#gd095100" x="1426.9" y="1112.8"/>
<use href="#gd095100" x="1473.8" y="1085.3"/>
<path d="M248.9 1024.9 L250.2 1023.1 L252.6 1021.3 L335.3 973.6 L338.4 972.2 L341.5 971.5 L344.7 971.5 L347.8 972.2 L350.9 973.6 L665 1154.9 L667.5 1156.7 L668.8 1158.5 L668.8 1166.8 L667.5 1168.6 L665 1170.4 L582.3 1218.1 L579.2 1219.5 L576.1 1220.2 L573 1220.2 L569.9 1219.5 L566.8 1218.1 L252.6 1036.8 L250.2 1035 L248.9 1033.2Z M331.8 1000.4 L333.7 1001.7 L336 1002.8 L338.7 1003.6 L341.6 1003.9 L344.6 1003.9 L347.5 1003.6 L350.2 1002.8 L352.5 1001.7 L354.4 1000.4 L355.6 998.9 L354.4 997.4 L352.5 996.1 L350.2 995 L347.5 994.2 L344.6 993.9 L341.6 993.9 L338.7 994.2 L336 995 L333.7 996.1 L331.8 997.4 L330.6 998.9Z M276.4 1030.4 L283.9 1034.8 L286 1035.6 L288.3 1036.1 L290.8 1036.1 L293.2 1035.6 L295.2 1034.8 L307.5 1027.7 L308.3 1027.1 L307.5 1026.4 L300 1022 L297.9 1021.2 L295.6 1020.8 L293.1 1020.8 L290.7 1021.2 L288.7 1022 L276.4 1029.1 L275.6 1029.8Z M378.9 1027.6 L380.8 1028.9 L383.1 1030 L385.8 1030.7 L388.7 1031.1 L391.7 1031.1 L394.6 1030.7 L397.3 1030 L399.6 1028.9 L401.5 1027.6 L402.7 1026.1 L401.5 1024.6 L399.6 1023.2 L397.3 1022.2 L394.6 1021.4 L391.7 1021 L388.7 1021 L385.8 1021.4 L383.1 1022.2 L380.8 1023.2 L378.9 1024.6 L377.7 1026.1Z M323.5 1057.6 L331 1062 L333.1 1062.8 L335.4 1063.3 L337.9 1063.3 L340.3 1062.8 L342.3 1062 L354.6 1054.9 L355.4 1054.2 L354.6 1053.6 L347.1 1049.2 L345 1048.4 L342.7 1047.9 L340.2 1047.9 L337.8 1048.4 L335.8 1049.2 L323.5 1056.3 L322.7 1057Z M426 1054.8 L427.9 1056.1 L430.2 1057.2 L432.9 1057.9 L435.8 1058.3 L438.8 1058.3 L441.7 1057.9 L444.4 1057.2 L446.7 1056.1 L448.6 1054.8 L449.8 1053.3 L448.6 1051.8 L446.7 1050.4 L444.4 1049.4 L441.7 1048.6 L438.8 1048.2 L435.8 1048.2 L432.9 1048.6 L430.2 1049.4 L427.9 1050.4 L426 1051.8 L424.8 1053.3Z M370.6 1084.8 L378.1 1089.1 L380.2 1090 L382.5 1090.4 L385 1090.4 L387.4 1090 L389.4 1089.1 L401.7 1082.1 L402.5 1081.4 L401.7 1080.8 L394.2 1076.4 L392.1 1075.6 L389.8 1075.1 L387.3 1075.1 L384.9 1075.6 L382.9 1076.4 L370.6 1083.5 L369.8 1084.1Z M473.1 1081.9 L475 1083.3 L477.3 1084.3 L480 1085.1 L482.9 1085.5 L485.9 1085.5 L488.8 1085.1 L491.5 1084.3 L493.8 1083.3 L495.7 1081.9 L496.9 1080.4 L495.7 1078.9 L493.8 1077.6 L491.5 1076.5 L488.8 1075.8 L485.9 1075.4 L482.9 1075.4 L480 1075.8 L477.3 1076.5 L475 1077.6 L473.1 1078.9 L471.9 1080.4Z M417.7 1112 L425.2 1116.3 L427.3 1117.2 L429.6 1117.6 L432.1 1117.6 L434.5 1117.2 L436.5 1116.3 L448.8 1109.3 L449.6 1108.6 L448.8 1107.9 L441.3 1103.6 L439.2 1102.7 L436.9 1102.3 L434.4 1102.3 L432 1102.7 L430 1103.6 L417.7 1110.7 L416.9 1111.3Z M520.2 1109.1 L522.1 1110.5 L524.4 1111.5 L527.1 1112.3 L530 1112.7 L533 1112.7 L535.9 1112.3 L538.6 1111.5 L540.9 1110.5 L542.8 1109.1 L544 1107.6 L542.8 1106.1 L540.9 1104.8 L538.6 1103.7 L535.9 1103 L533 1102.6 L530 1102.6 L527.1 1103 L524.4 1103.7 L522.1 1104.8 L520.2 1106.1 L519 1107.6Z M464.8 1139.2 L472.3 1143.5 L474.4 1144.4 L476.7 1144.8 L479.2 1144.8 L481.6 1144.4 L483.6 1143.5 L495.9 1136.4 L496.7 1135.8 L495.9 1135.1 L488.4 1130.8 L486.3 1129.9 L484 1129.5 L481.5 1129.5 L479.1 1129.9 L477.1 1130.8 L464.8 1137.8 L464 1138.5Z M567.3 1136.3 L569.2 1137.6 L571.5 1138.7 L574.2 1139.5 L577.1 1139.8 L580.1 1139.8 L583 1139.5 L585.7 1138.7 L588 1137.6 L589.9 1136.3 L591.1 1134.8 L589.9 1133.3 L588 1132 L585.7 1130.9 L583 1130.1 L580.1 1129.8 L577.1 1129.8 L574.2 1130.1 L571.5 1130.9 L569.2 1132 L567.3 1133.3 L566.1 1134.8Z M511.9 1166.3 L519.4 1170.7 L521.5 1171.5 L523.8 1172 L526.3 1172 L528.7 1171.5 L530.7 1170.7 L543 1163.6 L543.8 1163 L543 1162.3 L535.5 1157.9 L533.4 1157.1 L531.1 1156.7 L528.6 1156.7 L526.2 1157.1 L524.2 1157.9 L511.9 1165 L511.1 1165.7Z M614.4 1163.5 L616.3 1164.8 L618.6 1165.9 L621.3 1166.6 L624.2 1167 L627.2 1167 L630.1 1166.6 L632.8 1165.9 L635.1 1164.8 L637 1163.5 L638.2 1162 L637 1160.5 L635.1 1159.1 L632.8 1158.1 L630.1 1157.3 L627.2 1156.9 L624.2 1156.9 L621.3 1157.3 L618.6 1158.1 L616.3 1159.1 L614.4 1160.5 L613.2 1162Z M559 1193.5 L566.5 1197.9 L568.6 1198.7 L570.9 1199.2 L573.4 1199.2 L575.8 1198.7 L577.8 1197.9 L590.1 1190.8 L590.9 1190.1 L590.1 1189.5 L582.6 1185.1 L580.5 1184.3 L578.2 1183.8 L575.7 1183.8 L573.3 1184.3 L571.3 1185.1 L559 1192.2 L558.2 1192.9Z" fill="#1c2325" stroke="#14191b" stroke-width="1" fill-rule="evenodd"/>
<path d="M335.3 973.6 L338.4 972.2 L341.5 971.5 L344.7 971.5 L347.8 972.2 L350.9 973.6 L665 1154.9 L667.5 1156.7 L668.7 1158.5 L668.7 1160.3 L667.5 1162.1 L665 1163.9 L582.3 1211.6 L579.2 1213 L576.1 1213.7 L573 1213.7 L569.9 1213 L566.8 1211.6 L252.6 1030.3 L250.2 1028.5 L248.9 1026.7 L248.9 1024.9 L250.2 1023.1 L252.6 1021.3Z M331.8 1000.4 L333.7 1001.7 L336 1002.8 L338.7 1003.6 L341.6 1003.9 L344.6 1003.9 L347.5 1003.6 L350.2 1002.8 L352.5 1001.7 L354.4 1000.4 L355.6 998.9 L354.4 997.4 L352.5 996.1 L350.2 995 L347.5 994.2 L344.6 993.9 L341.6 993.9 L338.7 994.2 L336 995 L333.7 996.1 L331.8 997.4 L330.6 998.9Z M276.4 1030.4 L283.9 1034.8 L286 1035.6 L288.3 1036.1 L290.8 1036.1 L293.2 1035.6 L295.2 1034.8 L307.5 1027.7 L308.3 1027.1 L307.5 1026.4 L300 1022 L297.9 1021.2 L295.6 1020.8 L293.1 1020.8 L290.7 1021.2 L288.7 1022 L276.4 1029.1 L275.6 1029.8Z M378.9 1027.6 L380.8 1028.9 L383.1 1030 L385.8 1030.7 L388.7 1031.1 L391.7 1031.1 L394.6 1030.7 L397.3 1030 L399.6 1028.9 L401.5 1027.6 L402.7 1026.1 L401.5 1024.6 L399.6 1023.2 L397.3 1022.2 L394.6 1021.4 L391.7 1021 L388.7 1021 L385.8 1021.4 L383.1 1022.2 L380.8 1023.2 L378.9 1024.6 L377.7 1026.1Z M323.5 1057.6 L331 1062 L333.1 1062.8 L335.4 1063.3 L337.9 1063.3 L340.3 1062.8 L342.3 1062 L354.6 1054.9 L355.4 1054.2 L354.6 1053.6 L347.1 1049.2 L345 1048.4 L342.7 1047.9 L340.2 1047.9 L337.8 1048.4 L335.8 1049.2 L323.5 1056.3 L322.7 1057Z M426 1054.8 L427.9 1056.1 L430.2 1057.2 L432.9 1057.9 L435.8 1058.3 L438.8 1058.3 L441.7 1057.9 L444.4 1057.2 L446.7 1056.1 L448.6 1054.8 L449.8 1053.3 L448.6 1051.8 L446.7 1050.4 L444.4 1049.4 L441.7 1048.6 L438.8 1048.2 L435.8 1048.2 L432.9 1048.6 L430.2 1049.4 L427.9 1050.4 L426 1051.8 L424.8 1053.3Z M370.6 1084.8 L378.1 1089.1 L380.2 1090 L382.5 1090.4 L385 1090.4 L387.4 1090 L389.4 1089.1 L401.7 1082.1 L402.5 1081.4 L401.7 1080.8 L394.2 1076.4 L392.1 1075.6 L389.8 1075.1 L387.3 1075.1 L384.9 1075.6 L382.9 1076.4 L370.6 1083.5 L369.8 1084.1Z M473.1 1081.9 L475 1083.3 L477.3 1084.3 L480 1085.1 L482.9 1085.5 L485.9 1085.5 L488.8 1085.1 L491.5 1084.3 L493.8 1083.3 L495.7 1081.9 L496.9 1080.4 L495.7 1078.9 L493.8 1077.6 L491.5 1076.5 L488.8 1075.8 L485.9 1075.4 L482.9 1075.4 L480 1075.8 L477.3 1076.5 L475 1077.6 L473.1 1078.9 L471.9 1080.4Z M417.7 1112 L425.2 1116.3 L427.3 1117.2 L429.6 1117.6 L432.1 1117.6 L434.5 1117.2 L436.5 1116.3 L448.8 1109.3 L449.6 1108.6 L448.8 1107.9 L441.3 1103.6 L439.2 1102.7 L436.9 1102.3 L434.4 1102.3 L432 1102.7 L430 1103.6 L417.7 1110.7 L416.9 1111.3Z M520.2 1109.1 L522.1 1110.5 L524.4 1111.5 L527.1 1112.3 L530 1112.7 L533 1112.7 L535.9 1112.3 L538.6 1111.5 L540.9 1110.5 L542.8 1109.1 L544 1107.6 L542.8 1106.1 L540.9 1104.8 L538.6 1103.7 L535.9 1103 L533 1102.6 L530 1102.6 L527.1 1103 L524.4 1103.7 L522.1 1104.8 L520.2 1106.1 L519 1107.6Z M464.8 1139.2 L472.3 1143.5 L474.4 1144.4 L476.7 1144.8 L479.2 1144.8 L481.6 1144.4 L483.6 1143.5 L495.9 1136.4 L496.7 1135.8 L495.9 1135.1 L488.4 1130.8 L486.3 1129.9 L484 1129.5 L481.5 1129.5 L479.1 1129.9 L477.1 1130.8 L464.8 1137.8 L464 1138.5Z M567.3 1136.3 L569.2 1137.6 L571.5 1138.7 L574.2 1139.5 L577.1 1139.8 L580.1 1139.8 L583 1139.5 L585.7 1138.7 L588 1137.6 L589.9 1136.3 L591.1 1134.8 L589.9 1133.3 L588 1132 L585.7 1130.9 L583 1130.1 L580.1 1129.8 L577.1 1129.8 L574.2 1130.1 L571.5 1130.9 L569.2 1132 L567.3 1133.3 L566.1 1134.8Z M511.9 1166.3 L519.4 1170.7 L521.5 1171.5 L523.8 1172 L526.3 1172 L528.7 1171.5 L530.7 1170.7 L543 1163.6 L543.8 1163 L543 1162.3 L535.5 1157.9 L533.4 1157.1 L531.1 1156.7 L528.6 1156.7 L526.2 1157.1 L524.2 1157.9 L511.9 1165 L511.1 1165.7Z M614.4 1163.5 L616.3 1164.8 L618.6 1165.9 L621.3 1166.6 L624.2 1167 L627.2 1167 L630.1 1166.6 L632.8 1165.9 L635.1 1164.8 L637 1163.5 L638.2 1162 L637 1160.5 L635.1 1159.1 L632.8 1158.1 L630.1 1157.3 L627.2 1156.9 L624.2 1156.9 L621.3 1157.3 L618.6 1158.1 L616.3 1159.1 L614.4 1160.5 L613.2 1162Z M559 1193.5 L566.5 1197.9 L568.6 1198.7 L570.9 1199.2 L573.4 1199.2 L575.8 1198.7 L577.8 1197.9 L590.1 1190.8 L590.9 1190.1 L590.1 1189.5 L582.6 1185.1 L580.5 1184.3 L578.2 1183.8 L575.7 1183.8 L573.3 1184.3 L571.3 1185.1 L559 1192.2 L558.2 1192.9Z" fill="#2d383b" stroke="#14191b" stroke-width="1" fill-rule="evenodd"/>
<path d="M352.5 1001.7 L350.2 1002.8 L347.5 1003.6 L344.6 1003.9 L341.6 1003.9 L338.7 1003.6 L336 1002.8 L333.7 1001.7 L331.8 1000.4 L330.5 998.8 L329.9 997.2 L329.9 995.4 L330.5 993.8 L331.8 992.2 L333.7 990.9 L336 989.8 L338.7 989 L341.6 988.7 L344.6 988.7 L347.5 989 L350.2 989.8 L352.5 990.9 L354.4 992.2 L355.7 993.8 L356.3 995.4 L356.3 997.2 L355.7 998.8 L354.4 1000.4Z M331.8 1000.4 L333.7 1001.7 L336 1002.8 L338.7 1003.6 L341.6 1003.9 L344.6 1003.9 L347.5 1003.6 L350.2 1002.8 L352.5 1001.7 L354.4 1000.4 L355.6 998.9 L354.4 997.4 L352.5 996.1 L350.2 995 L347.5 994.2 L344.6 993.9 L341.6 993.9 L338.7 994.2 L336 995 L333.7 996.1 L331.8 997.4 L330.6 998.9Z" fill="#1a2022" fill-rule="evenodd"/>
<path d="M352.5 1001.7 L350.2 1002.8 L347.5 1003.6 L344.6 1003.9 L341.6 1003.9 L338.7 1003.6 L336 1002.8 L333.7 1001.7 L331.8 1000.4 L330.5 998.8 L329.9 997.2 L329.9 995.4 L330.5 993.8 L331.8 992.2 L333.7 990.9 L336 989.8 L338.7 989 L341.6 988.7 L344.6 988.7 L347.5 989 L350.2 989.8 L352.5 990.9 L354.4 992.2 L355.7 993.8 L356.3 995.4 L356.3 997.2 L355.7 998.8 L354.4 1000.4Z" fill="none" stroke="#0e1213" stroke-width="0.8"/>
<path d="M295.2 1034.8 L293.2 1035.6 L290.8 1036.1 L288.3 1036.1 L286 1035.6 L283.9 1034.8 L276.4 1030.4 L274.9 1029.3 L274.2 1027.9 L274.2 1026.5 L274.9 1025.1 L276.4 1023.9 L288.7 1016.8 L290.7 1016 L293.1 1015.6 L295.6 1015.6 L297.9 1016 L300 1016.8 L307.5 1021.2 L309 1022.4 L309.7 1023.7 L309.7 1025.2 L309 1026.6 L307.5 1027.7Z M276.4 1030.4 L283.9 1034.8 L286 1035.6 L288.3 1036.1 L290.8 1036.1 L293.2 1035.6 L295.2 1034.8 L307.5 1027.7 L308.3 1027.1 L307.5 1026.4 L300 1022 L297.9 1021.2 L295.6 1020.8 L293.1 1020.8 L290.7 1021.2 L288.7 1022 L276.4 1029.1 L275.6 1029.8Z" fill="#1a2022" fill-rule="evenodd"/>
<path d="M295.2 1034.8 L293.2 1035.6 L290.8 1036.1 L288.3 1036.1 L286 1035.6 L283.9 1034.8 L276.4 1030.4 L274.9 1029.3 L274.2 1027.9 L274.2 1026.5 L274.9 1025.1 L276.4 1023.9 L288.7 1016.8 L290.7 1016 L293.1 1015.6 L295.6 1015.6 L297.9 1016 L300 1016.8 L307.5 1021.2 L309 1022.4 L309.7 1023.7 L309.7 1025.2 L309 1026.6 L307.5 1027.7Z" fill="none" stroke="#0e1213" stroke-width="0.8"/>
<path d="M399.6 1028.9 L397.3 1030 L394.6 1030.7 L391.7 1031.1 L388.7 1031.1 L385.8 1030.7 L383.1 1030 L380.8 1028.9 L378.9 1027.6 L377.6 1026 L377 1024.3 L377 1022.6 L377.6 1020.9 L378.9 1019.4 L380.8 1018 L383.1 1017 L385.8 1016.2 L388.7 1015.8 L391.7 1015.8 L394.6 1016.2 L397.3 1017 L399.6 1018 L401.5 1019.4 L402.8 1020.9 L403.4 1022.6 L403.4 1024.3 L402.8 1026 L401.5 1027.6Z M378.9 1027.6 L380.8 1028.9 L383.1 1030 L385.8 1030.7 L388.7 1031.1 L391.7 1031.1 L394.6 1030.7 L397.3 1030 L399.6 1028.9 L401.5 1027.6 L402.7 1026.1 L401.5 1024.6 L399.6 1023.2 L397.3 1022.2 L394.6 1021.4 L391.7 1021 L388.7 1021 L385.8 1021.4 L383.1 1022.2 L380.8 1023.2 L378.9 1024.6 L377.7 1026.1Z" fill="#1a2022" fill-rule="evenodd"/>
<path d="M399.6 1028.9 L397.3 1030 L394.6 1030.7 L391.7 1031.1 L388.7 1031.1 L385.8 1030.7 L383.1 1030 L380.8 1028.9 L378.9 1027.6 L377.6 1026 L377 1024.3 L377 1022.6 L377.6 1020.9 L378.9 1019.4 L380.8 1018 L383.1 1017 L385.8 1016.2 L388.7 1015.8 L391.7 1015.8 L394.6 1016.2 L397.3 1017 L399.6 1018 L401.5 1019.4 L402.8 1020.9 L403.4 1022.6 L403.4 1024.3 L402.8 1026 L401.5 1027.6Z" fill="none" stroke="#0e1213" stroke-width="0.8"/>
<path d="M342.3 1062 L340.3 1062.8 L337.9 1063.3 L335.4 1063.3 L333.1 1062.8 L331 1062 L323.5 1057.6 L322 1056.5 L321.3 1055.1 L321.3 1053.6 L322 1052.3 L323.5 1051.1 L335.8 1044 L337.8 1043.2 L340.2 1042.7 L342.7 1042.7 L345 1043.2 L347.1 1044 L354.6 1048.4 L356.1 1049.5 L356.8 1050.9 L356.8 1052.4 L356.1 1053.7 L354.6 1054.9Z M323.5 1057.6 L331 1062 L333.1 1062.8 L335.4 1063.3 L337.9 1063.3 L340.3 1062.8 L342.3 1062 L354.6 1054.9 L355.4 1054.2 L354.6 1053.6 L347.1 1049.2 L345 1048.4 L342.7 1047.9 L340.2 1047.9 L337.8 1048.4 L335.8 1049.2 L323.5 1056.3 L322.7 1057Z" fill="#1a2022" fill-rule="evenodd"/>
<path d="M342.3 1062 L340.3 1062.8 L337.9 1063.3 L335.4 1063.3 L333.1 1062.8 L331 1062 L323.5 1057.6 L322 1056.5 L321.3 1055.1 L321.3 1053.6 L322 1052.3 L323.5 1051.1 L335.8 1044 L337.8 1043.2 L340.2 1042.7 L342.7 1042.7 L345 1043.2 L347.1 1044 L354.6 1048.4 L356.1 1049.5 L356.8 1050.9 L356.8 1052.4 L356.1 1053.7 L354.6 1054.9Z" fill="none" stroke="#0e1213" stroke-width="0.8"/>
<path d="M446.7 1056.1 L444.4 1057.2 L441.7 1057.9 L438.8 1058.3 L435.8 1058.3 L432.9 1057.9 L430.2 1057.2 L427.9 1056.1 L426 1054.8 L424.7 1053.2 L424.1 1051.5 L424.1 1049.8 L424.7 1048.1 L426 1046.6 L427.9 1045.2 L430.2 1044.2 L432.9 1043.4 L435.8 1043 L438.8 1043 L441.7 1043.4 L444.4 1044.2 L446.7 1045.2 L448.6 1046.6 L449.9 1048.1 L450.5 1049.8 L450.5 1051.5 L449.9 1053.2 L448.6 1054.8Z M426 1054.8 L427.9 1056.1 L430.2 1057.2 L432.9 1057.9 L435.8 1058.3 L438.8 1058.3 L441.7 1057.9 L444.4 1057.2 L446.7 1056.1 L448.6 1054.8 L449.8 1053.3 L448.6 1051.8 L446.7 1050.4 L444.4 1049.4 L441.7 1048.6 L438.8 1048.2 L435.8 1048.2 L432.9 1048.6 L430.2 1049.4 L427.9 1050.4 L426 1051.8 L424.8 1053.3Z" fill="#1a2022" fill-rule="evenodd"/>
<path d="M446.7 1056.1 L444.4 1057.2 L441.7 1057.9 L438.8 1058.3 L435.8 1058.3 L432.9 1057.9 L430.2 1057.2 L427.9 1056.1 L426 1054.8 L424.7 1053.2 L424.1 1051.5 L424.1 1049.8 L424.7 1048.1 L426 1046.6 L427.9 1045.2 L430.2 1044.2 L432.9 1043.4 L435.8 1043 L438.8 1043 L441.7 1043.4 L444.4 1044.2 L446.7 1045.2 L448.6 1046.6 L449.9 1048.1 L450.5 1049.8 L450.5 1051.5 L449.9 1053.2 L448.6 1054.8Z" fill="none" stroke="#0e1213" stroke-width="0.8"/>
<path d="M389.4 1089.1 L387.4 1090 L385 1090.4 L382.5 1090.4 L380.2 1090 L378.1 1089.1 L370.6 1084.8 L369.1 1083.6 L368.4 1082.3 L368.4 1080.8 L369.1 1079.4 L370.6 1078.3 L382.9 1071.2 L384.9 1070.4 L387.3 1069.9 L389.8 1069.9 L392.1 1070.4 L394.2 1071.2 L401.7 1075.6 L403.2 1076.7 L403.9 1078.1 L403.9 1079.5 L403.2 1080.9 L401.7 1082.1Z M370.6 1084.8 L378.1 1089.1 L380.2 1090 L382.5 1090.4 L385 1090.4 L387.4 1090 L389.4 1089.1 L401.7 1082.1 L402.5 1081.4 L401.7 1080.8 L394.2 1076.4 L392.1 1075.6 L389.8 1075.1 L387.3 1075.1 L384.9 1075.6 L382.9 1076.4 L370.6 1083.5 L369.8 1084.1Z" fill="#1a2022" fill-rule="evenodd"/>
<path d="M389.4 1089.1 L387.4 1090 L385 1090.4 L382.5 1090.4 L380.2 1090 L378.1 1089.1 L370.6 1084.8 L369.1 1083.6 L368.4 1082.3 L368.4 1080.8 L369.1 1079.4 L370.6 1078.3 L382.9 1071.2 L384.9 1070.4 L387.3 1069.9 L389.8 1069.9 L392.1 1070.4 L394.2 1071.2 L401.7 1075.6 L403.2 1076.7 L403.9 1078.1 L403.9 1079.5 L403.2 1080.9 L401.7 1082.1Z" fill="none" stroke="#0e1213" stroke-width="0.8"/>
<path d="M493.8 1083.3 L491.5 1084.3 L488.8 1085.1 L485.9 1085.5 L482.9 1085.5 L480 1085.1 L477.3 1084.3 L475 1083.3 L473.1 1081.9 L471.8 1080.4 L471.2 1078.7 L471.2 1077 L471.8 1075.3 L473.1 1073.7 L475 1072.4 L477.3 1071.3 L480 1070.6 L482.9 1070.2 L485.9 1070.2 L488.8 1070.6 L491.5 1071.3 L493.8 1072.4 L495.7 1073.7 L497 1075.3 L497.6 1077 L497.6 1078.7 L497 1080.4 L495.7 1081.9Z M473.1 1081.9 L475 1083.3 L477.3 1084.3 L480 1085.1 L482.9 1085.5 L485.9 1085.5 L488.8 1085.1 L491.5 1084.3 L493.8 1083.3 L495.7 1081.9 L496.9 1080.4 L495.7 1078.9 L493.8 1077.6 L491.5 1076.5 L488.8 1075.8 L485.9 1075.4 L482.9 1075.4 L480 1075.8 L477.3 1076.5 L475 1077.6 L473.1 1078.9 L471.9 1080.4Z" fill="#1a2022" fill-rule="evenodd"/>
<path d="M493.8 1083.3 L491.5 1084.3 L488.8 1085.1 L485.9 1085.5 L482.9 1085.5 L480 1085.1 L477.3 1084.3 L475 1083.3 L473.1 1081.9 L471.8 1080.4 L471.2 1078.7 L471.2 1077 L471.8 1075.3 L473.1 1073.7 L475 1072.4 L477.3 1071.3 L480 1070.6 L482.9 1070.2 L485.9 1070.2 L488.8 1070.6 L491.5 1071.3 L493.8 1072.4 L495.7 1073.7 L497 1075.3 L497.6 1077 L497.6 1078.7 L497 1080.4 L495.7 1081.9Z" fill="none" stroke="#0e1213" stroke-width="0.8"/>
<path d="M436.5 1116.3 L434.5 1117.2 L432.1 1117.6 L429.6 1117.6 L427.3 1117.2 L425.2 1116.3 L417.7 1112 L416.2 1110.8 L415.5 1109.4 L415.5 1108 L416.2 1106.6 L417.7 1105.5 L430 1098.4 L432 1097.5 L434.4 1097.1 L436.9 1097.1 L439.2 1097.5 L441.3 1098.4 L448.8 1102.7 L450.3 1103.9 L451 1105.3 L451 1106.7 L450.3 1108.1 L448.8 1109.3Z M417.7 1112 L425.2 1116.3 L427.3 1117.2 L429.6 1117.6 L432.1 1117.6 L434.5 1117.2 L436.5 1116.3 L448.8 1109.3 L449.6 1108.6 L448.8 1107.9 L441.3 1103.6 L439.2 1102.7 L436.9 1102.3 L434.4 1102.3 L432 1102.7 L430 1103.6 L417.7 1110.7 L416.9 1111.3Z" fill="#1a2022" fill-rule="evenodd"/>
<path d="M436.5 1116.3 L434.5 1117.2 L432.1 1117.6 L429.6 1117.6 L427.3 1117.2 L425.2 1116.3 L417.7 1112 L416.2 1110.8 L415.5 1109.4 L415.5 1108 L416.2 1106.6 L417.7 1105.5 L430 1098.4 L432 1097.5 L434.4 1097.1 L436.9 1097.1 L439.2 1097.5 L441.3 1098.4 L448.8 1102.7 L450.3 1103.9 L451 1105.3 L451 1106.7 L450.3 1108.1 L448.8 1109.3Z" fill="none" stroke="#0e1213" stroke-width="0.8"/>
<path d="M540.9 1110.5 L538.6 1111.5 L535.9 1112.3 L533 1112.7 L530 1112.7 L527.1 1112.3 L524.4 1111.5 L522.1 1110.5 L520.2 1109.1 L518.9 1107.6 L518.3 1105.9 L518.3 1104.2 L518.9 1102.5 L520.2 1100.9 L522.1 1099.6 L524.4 1098.5 L527.1 1097.8 L530 1097.4 L533 1097.4 L535.9 1097.8 L538.6 1098.5 L540.9 1099.6 L542.8 1100.9 L544.1 1102.5 L544.7 1104.2 L544.7 1105.9 L544.1 1107.6 L542.8 1109.1Z M520.2 1109.1 L522.1 1110.5 L524.4 1111.5 L527.1 1112.3 L530 1112.7 L533 1112.7 L535.9 1112.3 L538.6 1111.5 L540.9 1110.5 L542.8 1109.1 L544 1107.6 L542.8 1106.1 L540.9 1104.8 L538.6 1103.7 L535.9 1103 L533 1102.6 L530 1102.6 L527.1 1103 L524.4 1103.7 L522.1 1104.8 L520.2 1106.1 L519 1107.6Z" fill="#1a2022" fill-rule="evenodd"/>
<path d="M540.9 1110.5 L538.6 1111.5 L535.9 1112.3 L533 1112.7 L530 1112.7 L527.1 1112.3 L524.4 1111.5 L522.1 1110.5 L520.2 1109.1 L518.9 1107.6 L518.3 1105.9 L518.3 1104.2 L518.9 1102.5 L520.2 1100.9 L522.1 1099.6 L524.4 1098.5 L527.1 1097.8 L530 1097.4 L533 1097.4 L535.9 1097.8 L538.6 1098.5 L540.9 1099.6 L542.8 1100.9 L544.1 1102.5 L544.7 1104.2 L544.7 1105.9 L544.1 1107.6 L542.8 1109.1Z" fill="none" stroke="#0e1213" stroke-width="0.8"/>
<path d="M483.6 1143.5 L481.6 1144.4 L479.2 1144.8 L476.7 1144.8 L474.4 1144.4 L472.3 1143.5 L464.8 1139.2 L463.3 1138 L462.6 1136.6 L462.6 1135.2 L463.3 1133.8 L464.8 1132.6 L477.1 1125.6 L479.1 1124.7 L481.5 1124.3 L484 1124.3 L486.3 1124.7 L488.4 1125.6 L495.9 1129.9 L497.4 1131.1 L498.1 1132.5 L498.1 1133.9 L497.4 1135.3 L495.9 1136.4Z M464.8 1139.2 L472.3 1143.5 L474.4 1144.4 L476.7 1144.8 L479.2 1144.8 L481.6 1144.4 L483.6 1143.5 L495.9 1136.4 L496.7 1135.8 L495.9 1135.1 L488.4 1130.8 L486.3 1129.9 L484 1129.5 L481.5 1129.5 L479.1 1129.9 L477.1 1130.8 L464.8 1137.8 L464 1138.5Z" fill="#1a2022" fill-rule="evenodd"/>
<path d="M483.6 1143.5 L481.6 1144.4 L479.2 1144.8 L476.7 1144.8 L474.4 1144.4 L472.3 1143.5 L464.8 1139.2 L463.3 1138 L462.6 1136.6 L462.6 1135.2 L463.3 1133.8 L464.8 1132.6 L477.1 1125.6 L479.1 1124.7 L481.5 1124.3 L484 1124.3 L486.3 1124.7 L488.4 1125.6 L495.9 1129.9 L497.4 1131.1 L498.1 1132.5 L498.1 1133.9 L497.4 1135.3 L495.9 1136.4Z" fill="none" stroke="#0e1213" stroke-width="0.8"/>
<path d="M588 1137.6 L585.7 1138.7 L583 1139.5 L580.1 1139.8 L577.1 1139.8 L574.2 1139.5 L571.5 1138.7 L569.2 1137.6 L567.3 1136.3 L566 1134.7 L565.4 1133.1 L565.4 1131.3 L566 1129.7 L567.3 1128.1 L569.2 1126.8 L571.5 1125.7 L574.2 1124.9 L577.1 1124.6 L580.1 1124.6 L583 1124.9 L585.7 1125.7 L588 1126.8 L589.9 1128.1 L591.2 1129.7 L591.8 1131.3 L591.8 1133.1 L591.2 1134.7 L589.9 1136.3Z M567.3 1136.3 L569.2 1137.6 L571.5 1138.7 L574.2 1139.5 L577.1 1139.8 L580.1 1139.8 L583 1139.5 L585.7 1138.7 L588 1137.6 L589.9 1136.3 L591.1 1134.8 L589.9 1133.3 L588 1132 L585.7 1130.9 L583 1130.1 L580.1 1129.8 L577.1 1129.8 L574.2 1130.1 L571.5 1130.9 L569.2 1132 L567.3 1133.3 L566.1 1134.8Z" fill="#1a2022" fill-rule="evenodd"/>
<path d="M588 1137.6 L585.7 1138.7 L583 1139.5 L580.1 1139.8 L577.1 1139.8 L574.2 1139.5 L571.5 1138.7 L569.2 1137.6 L567.3 1136.3 L566 1134.7 L565.4 1133.1 L565.4 1131.3 L566 1129.7 L567.3 1128.1 L569.2 1126.8 L571.5 1125.7 L574.2 1124.9 L577.1 1124.6 L580.1 1124.6 L583 1124.9 L585.7 1125.7 L588 1126.8 L589.9 1128.1 L591.2 1129.7 L591.8 1131.3 L591.8 1133.1 L591.2 1134.7 L589.9 1136.3Z" fill="none" stroke="#0e1213" stroke-width="0.8"/>
<path d="M530.7 1170.7 L528.7 1171.5 L526.3 1172 L523.8 1172 L521.5 1171.5 L519.4 1170.7 L511.9 1166.3 L510.4 1165.2 L509.7 1163.8 L509.7 1162.4 L510.4 1161 L511.9 1159.8 L524.2 1152.7 L526.2 1151.9 L528.6 1151.5 L531.1 1151.5 L533.4 1151.9 L535.5 1152.7 L543 1157.1 L544.5 1158.3 L545.2 1159.6 L545.2 1161.1 L544.5 1162.5 L543 1163.6Z M511.9 1166.3 L519.4 1170.7 L521.5 1171.5 L523.8 1172 L526.3 1172 L528.7 1171.5 L530.7 1170.7 L543 1163.6 L543.8 1163 L543 1162.3 L535.5 1157.9 L533.4 1157.1 L531.1 1156.7 L528.6 1156.7 L526.2 1157.1 L524.2 1157.9 L511.9 1165 L511.1 1165.7Z" fill="#1a2022" fill-rule="evenodd"/>
<path d="M530.7 1170.7 L528.7 1171.5 L526.3 1172 L523.8 1172 L521.5 1171.5 L519.4 1170.7 L511.9 1166.3 L510.4 1165.2 L509.7 1163.8 L509.7 1162.4 L510.4 1161 L511.9 1159.8 L524.2 1152.7 L526.2 1151.9 L528.6 1151.5 L531.1 1151.5 L533.4 1151.9 L535.5 1152.7 L543 1157.1 L544.5 1158.3 L545.2 1159.6 L545.2 1161.1 L544.5 1162.5 L543 1163.6Z" fill="none" stroke="#0e1213" stroke-width="0.8"/>
<path d="M635.1 1164.8 L632.8 1165.9 L630.1 1166.6 L627.2 1167 L624.2 1167 L621.3 1166.6 L618.6 1165.9 L616.3 1164.8 L614.4 1163.5 L613.1 1161.9 L612.5 1160.2 L612.5 1158.5 L613.1 1156.8 L614.4 1155.3 L616.3 1153.9 L618.6 1152.9 L621.3 1152.1 L624.2 1151.7 L627.2 1151.7 L630.1 1152.1 L632.8 1152.9 L635.1 1153.9 L637 1155.3 L638.3 1156.8 L638.9 1158.5 L638.9 1160.2 L638.3 1161.9 L637 1163.5Z M614.4 1163.5 L616.3 1164.8 L618.6 1165.9 L621.3 1166.6 L624.2 1167 L627.2 1167 L630.1 1166.6 L632.8 1165.9 L635.1 1164.8 L637 1163.5 L638.2 1162 L637 1160.5 L635.1 1159.1 L632.8 1158.1 L630.1 1157.3 L627.2 1156.9 L624.2 1156.9 L621.3 1157.3 L618.6 1158.1 L616.3 1159.1 L614.4 1160.5 L613.2 1162Z" fill="#1a2022" fill-rule="evenodd"/>
<path d="M635.1 1164.8 L632.8 1165.9 L630.1 1166.6 L627.2 1167 L624.2 1167 L621.3 1166.6 L618.6 1165.9 L616.3 1164.8 L614.4 1163.5 L613.1 1161.9 L612.5 1160.2 L612.5 1158.5 L613.1 1156.8 L614.4 1155.3 L616.3 1153.9 L618.6 1152.9 L621.3 1152.1 L624.2 1151.7 L627.2 1151.7 L630.1 1152.1 L632.8 1152.9 L635.1 1153.9 L637 1155.3 L638.3 1156.8 L638.9 1158.5 L638.9 1160.2 L638.3 1161.9 L637 1163.5Z" fill="none" stroke="#0e1213" stroke-width="0.8"/>
<path d="M577.8 1197.9 L575.8 1198.7 L573.4 1199.2 L570.9 1199.2 L568.6 1198.7 L566.5 1197.9 L559 1193.5 L557.5 1192.4 L556.8 1191 L556.8 1189.5 L557.5 1188.2 L559 1187 L571.3 1179.9 L573.3 1179.1 L575.7 1178.6 L578.2 1178.6 L580.5 1179.1 L582.6 1179.9 L590.1 1184.3 L591.6 1185.4 L592.3 1186.8 L592.3 1188.3 L591.6 1189.6 L590.1 1190.8Z M559 1193.5 L566.5 1197.9 L568.6 1198.7 L570.9 1199.2 L573.4 1199.2 L575.8 1198.7 L577.8 1197.9 L590.1 1190.8 L590.9 1190.1 L590.1 1189.5 L582.6 1185.1 L580.5 1184.3 L578.2 1183.8 L575.7 1183.8 L573.3 1184.3 L571.3 1185.1 L559 1192.2 L558.2 1192.9Z" fill="#1a2022" fill-rule="evenodd"/>
<path d="M577.8 1197.9 L575.8 1198.7 L573.4 1199.2 L570.9 1199.2 L568.6 1198.7 L566.5 1197.9 L559 1193.5 L557.5 1192.4 L556.8 1191 L556.8 1189.5 L557.5 1188.2 L559 1187 L571.3 1179.9 L573.3 1179.1 L575.7 1178.6 L578.2 1178.6 L580.5 1179.1 L582.6 1179.9 L590.1 1184.3 L591.6 1185.4 L592.3 1186.8 L592.3 1188.3 L591.6 1189.6 L590.1 1190.8Z" fill="none" stroke="#0e1213" stroke-width="0.8"/>
<path d="M1143.8 508.3 L1145 506.5 L1147.5 504.7 L1230.2 457 L1233.3 455.6 L1236.4 454.9 L1239.6 454.9 L1242.7 455.6 L1245.8 457 L1559.9 638.3 L1562.4 640.1 L1563.7 641.9 L1563.7 650.2 L1562.4 652 L1559.9 653.8 L1477.2 701.5 L1474.1 702.9 L1471 703.6 L1467.9 703.6 L1464.8 702.9 L1461.7 701.5 L1147.5 520.2 L1145 518.4 L1143.8 516.6Z M1226.7 483.8 L1228.6 485.1 L1230.9 486.2 L1233.6 487 L1236.5 487.3 L1239.5 487.3 L1242.4 487 L1245.1 486.2 L1247.4 485.1 L1249.3 483.8 L1250.5 482.3 L1249.3 480.8 L1247.4 479.5 L1245.1 478.4 L1242.4 477.6 L1239.5 477.3 L1236.5 477.3 L1233.6 477.6 L1230.9 478.4 L1228.6 479.5 L1226.7 480.8 L1225.5 482.3Z M1171.3 513.8 L1178.8 518.2 L1180.9 519 L1183.2 519.5 L1185.7 519.5 L1188.1 519 L1190.1 518.2 L1202.4 511.1 L1203.2 510.5 L1202.4 509.8 L1194.9 505.4 L1192.8 504.6 L1190.5 504.2 L1188 504.2 L1185.6 504.6 L1183.6 505.4 L1171.3 512.5 L1170.5 513.2Z M1273.8 511 L1275.7 512.3 L1278 513.4 L1280.7 514.1 L1283.6 514.5 L1286.6 514.5 L1289.5 514.1 L1292.2 513.4 L1294.5 512.3 L1296.4 511 L1297.6 509.5 L1296.4 508 L1294.5 506.6 L1292.2 505.6 L1289.5 504.8 L1286.6 504.4 L1283.6 504.4 L1280.7 504.8 L1278 505.6 L1275.7 506.6 L1273.8 508 L1272.6 509.5Z M1218.4 541 L1225.9 545.4 L1228 546.2 L1230.3 546.7 L1232.8 546.7 L1235.2 546.2 L1237.2 545.4 L1249.5 538.3 L1250.3 537.6 L1249.5 537 L1242 532.6 L1239.9 531.8 L1237.6 531.3 L1235.1 531.3 L1232.7 531.8 L1230.7 532.6 L1218.4 539.7 L1217.6 540.4Z M1320.9 538.2 L1322.8 539.5 L1325.1 540.6 L1327.8 541.3 L1330.7 541.7 L1333.7 541.7 L1336.6 541.3 L1339.3 540.6 L1341.6 539.5 L1343.5 538.2 L1344.7 536.7 L1343.5 535.2 L1341.6 533.8 L1339.3 532.8 L1336.6 532 L1333.7 531.6 L1330.7 531.6 L1327.8 532 L1325.1 532.8 L1322.8 533.8 L1320.9 535.2 L1319.7 536.7Z M1265.5 568.2 L1273 572.5 L1275.1 573.4 L1277.4 573.8 L1279.9 573.8 L1282.3 573.4 L1284.3 572.5 L1296.6 565.5 L1297.4 564.8 L1296.6 564.2 L1289.1 559.8 L1287 559 L1284.7 558.5 L1282.2 558.5 L1279.8 559 L1277.8 559.8 L1265.5 566.9 L1264.7 567.5Z M1368 565.3 L1369.9 566.7 L1372.2 567.7 L1374.9 568.5 L1377.8 568.9 L1380.8 568.9 L1383.7 568.5 L1386.4 567.7 L1388.7 566.7 L1390.6 565.3 L1391.8 563.8 L1390.6 562.3 L1388.7 561 L1386.4 559.9 L1383.7 559.2 L1380.8 558.8 L1377.8 558.8 L1374.9 559.2 L1372.2 559.9 L1369.9 561 L1368 562.3 L1366.8 563.8Z M1312.6 595.4 L1320.1 599.7 L1322.2 600.6 L1324.5 601 L1327 601 L1329.4 600.6 L1331.4 599.7 L1343.7 592.7 L1344.5 592 L1343.7 591.3 L1336.2 587 L1334.1 586.1 L1331.8 585.7 L1329.3 585.7 L1326.9 586.1 L1324.9 587 L1312.6 594.1 L1311.8 594.7Z M1415.1 592.5 L1417 593.9 L1419.3 594.9 L1422 595.7 L1424.9 596.1 L1427.9 596.1 L1430.8 595.7 L1433.5 594.9 L1435.8 593.9 L1437.7 592.5 L1438.9 591 L1437.7 589.5 L1435.8 588.2 L1433.5 587.1 L1430.8 586.4 L1427.9 586 L1424.9 586 L1422 586.4 L1419.3 587.1 L1417 588.2 L1415.1 589.5 L1413.9 591Z M1359.7 622.6 L1367.2 626.9 L1369.3 627.8 L1371.6 628.2 L1374.1 628.2 L1376.5 627.8 L1378.5 626.9 L1390.8 619.8 L1391.6 619.2 L1390.8 618.5 L1383.3 614.2 L1381.2 613.3 L1378.9 612.9 L1376.4 612.9 L1374 613.3 L1372 614.2 L1359.7 621.2 L1358.9 621.9Z M1462.2 619.7 L1464.1 621 L1466.4 622.1 L1469.1 622.9 L1472 623.2 L1475 623.2 L1477.9 622.9 L1480.6 622.1 L1482.9 621 L1484.8 619.7 L1486 618.2 L1484.8 616.7 L1482.9 615.4 L1480.6 614.3 L1477.9 613.5 L1475 613.2 L1472 613.2 L1469.1 613.5 L1466.4 614.3 L1464.1 615.4 L1462.2 616.7 L1461 618.2Z M1406.8 649.7 L1414.3 654.1 L1416.4 654.9 L1418.7 655.4 L1421.2 655.4 L1423.6 654.9 L1425.6 654.1 L1437.9 647 L1438.7 646.4 L1437.9 645.7 L1430.4 641.3 L1428.3 640.5 L1426 640.1 L1423.5 640.1 L1421.1 640.5 L1419.1 641.3 L1406.8 648.4 L1406 649.1Z M1509.3 646.9 L1511.2 648.2 L1513.5 649.3 L1516.2 650 L1519.1 650.4 L1522.1 650.4 L1525 650 L1527.7 649.3 L1530 648.2 L1531.9 646.9 L1533.1 645.4 L1531.9 643.9 L1530 642.5 L1527.7 641.5 L1525 640.7 L1522.1 640.3 L1519.1 640.3 L1516.2 640.7 L1513.5 641.5 L1511.2 642.5 L1509.3 643.9 L1508.1 645.4Z M1453.9 676.9 L1461.4 681.3 L1463.5 682.1 L1465.8 682.6 L1468.3 682.6 L1470.7 682.1 L1472.7 681.3 L1485 674.2 L1485.8 673.5 L1485 672.9 L1477.5 668.5 L1475.4 667.7 L1473.1 667.2 L1470.6 667.2 L1468.2 667.7 L1466.2 668.5 L1453.9 675.6 L1453.1 676.3Z" fill="#1c2325" stroke="#14191b" stroke-width="1" fill-rule="evenodd"/>
<path d="M1230.2 457 L1233.3 455.6 L1236.4 454.9 L1239.6 454.9 L1242.7 455.6 L1245.8 457 L1559.9 638.3 L1562.4 640.1 L1563.6 641.9 L1563.6 643.7 L1562.4 645.5 L1559.9 647.3 L1477.2 695 L1474.1 696.4 L1471 697.1 L1467.9 697.1 L1464.8 696.4 L1461.7 695 L1147.5 513.7 L1145.1 511.9 L1143.8 510.1 L1143.8 508.3 L1145.1 506.5 L1147.5 504.7Z M1226.7 483.8 L1228.6 485.1 L1230.9 486.2 L1233.6 487 L1236.5 487.3 L1239.5 487.3 L1242.4 487 L1245.1 486.2 L1247.4 485.1 L1249.3 483.8 L1250.5 482.3 L1249.3 480.8 L1247.4 479.5 L1245.1 478.4 L1242.4 477.6 L1239.5 477.3 L1236.5 477.3 L1233.6 477.6 L1230.9 478.4 L1228.6 479.5 L1226.7 480.8 L1225.5 482.3Z M1171.3 513.8 L1178.8 518.2 L1180.9 519 L1183.2 519.5 L1185.7 519.5 L1188.1 519 L1190.1 518.2 L1202.4 511.1 L1203.2 510.5 L1202.4 509.8 L1194.9 505.4 L1192.8 504.6 L1190.5 504.2 L1188 504.2 L1185.6 504.6 L1183.6 505.4 L1171.3 512.5 L1170.5 513.2Z M1273.8 511 L1275.7 512.3 L1278 513.4 L1280.7 514.1 L1283.6 514.5 L1286.6 514.5 L1289.5 514.1 L1292.2 513.4 L1294.5 512.3 L1296.4 511 L1297.6 509.5 L1296.4 508 L1294.5 506.6 L1292.2 505.6 L1289.5 504.8 L1286.6 504.4 L1283.6 504.4 L1280.7 504.8 L1278 505.6 L1275.7 506.6 L1273.8 508 L1272.6 509.5Z M1218.4 541 L1225.9 545.4 L1228 546.2 L1230.3 546.7 L1232.8 546.7 L1235.2 546.2 L1237.2 545.4 L1249.5 538.3 L1250.3 537.6 L1249.5 537 L1242 532.6 L1239.9 531.8 L1237.6 531.3 L1235.1 531.3 L1232.7 531.8 L1230.7 532.6 L1218.4 539.7 L1217.6 540.4Z M1320.9 538.2 L1322.8 539.5 L1325.1 540.6 L1327.8 541.3 L1330.7 541.7 L1333.7 541.7 L1336.6 541.3 L1339.3 540.6 L1341.6 539.5 L1343.5 538.2 L1344.7 536.7 L1343.5 535.2 L1341.6 533.8 L1339.3 532.8 L1336.6 532 L1333.7 531.6 L1330.7 531.6 L1327.8 532 L1325.1 532.8 L1322.8 533.8 L1320.9 535.2 L1319.7 536.7Z M1265.5 568.2 L1273 572.5 L1275.1 573.4 L1277.4 573.8 L1279.9 573.8 L1282.3 573.4 L1284.3 572.5 L1296.6 565.5 L1297.4 564.8 L1296.6 564.2 L1289.1 559.8 L1287 559 L1284.7 558.5 L1282.2 558.5 L1279.8 559 L1277.8 559.8 L1265.5 566.9 L1264.7 567.5Z M1368 565.3 L1369.9 566.7 L1372.2 567.7 L1374.9 568.5 L1377.8 568.9 L1380.8 568.9 L1383.7 568.5 L1386.4 567.7 L1388.7 566.7 L1390.6 565.3 L1391.8 563.8 L1390.6 562.3 L1388.7 561 L1386.4 559.9 L1383.7 559.2 L1380.8 558.8 L1377.8 558.8 L1374.9 559.2 L1372.2 559.9 L1369.9 561 L1368 562.3 L1366.8 563.8Z M1312.6 595.4 L1320.1 599.7 L1322.2 600.6 L1324.5 601 L1327 601 L1329.4 600.6 L1331.4 599.7 L1343.7 592.7 L1344.5 592 L1343.7 591.3 L1336.2 587 L1334.1 586.1 L1331.8 585.7 L1329.3 585.7 L1326.9 586.1 L1324.9 587 L1312.6 594.1 L1311.8 594.7Z M1415.1 592.5 L1417 593.9 L1419.3 594.9 L1422 595.7 L1424.9 596.1 L1427.9 596.1 L1430.8 595.7 L1433.5 594.9 L1435.8 593.9 L1437.7 592.5 L1438.9 591 L1437.7 589.5 L1435.8 588.2 L1433.5 587.1 L1430.8 586.4 L1427.9 586 L1424.9 586 L1422 586.4 L1419.3 587.1 L1417 588.2 L1415.1 589.5 L1413.9 591Z M1359.7 622.6 L1367.2 626.9 L1369.3 627.8 L1371.6 628.2 L1374.1 628.2 L1376.5 627.8 L1378.5 626.9 L1390.8 619.8 L1391.6 619.2 L1390.8 618.5 L1383.3 614.2 L1381.2 613.3 L1378.9 612.9 L1376.4 612.9 L1374 613.3 L1372 614.2 L1359.7 621.2 L1358.9 621.9Z M1462.2 619.7 L1464.1 621 L1466.4 622.1 L1469.1 622.9 L1472 623.2 L1475 623.2 L1477.9 622.9 L1480.6 622.1 L1482.9 621 L1484.8 619.7 L1486 618.2 L1484.8 616.7 L1482.9 615.4 L1480.6 614.3 L1477.9 613.5 L1475 613.2 L1472 613.2 L1469.1 613.5 L1466.4 614.3 L1464.1 615.4 L1462.2 616.7 L1461 618.2Z M1406.8 649.7 L1414.3 654.1 L1416.4 654.9 L1418.7 655.4 L1421.2 655.4 L1423.6 654.9 L1425.6 654.1 L1437.9 647 L1438.7 646.4 L1437.9 645.7 L1430.4 641.3 L1428.3 640.5 L1426 640.1 L1423.5 640.1 L1421.1 640.5 L1419.1 641.3 L1406.8 648.4 L1406 649.1Z M1509.3 646.9 L1511.2 648.2 L1513.5 649.3 L1516.2 650 L1519.1 650.4 L1522.1 650.4 L1525 650 L1527.7 649.3 L1530 648.2 L1531.9 646.9 L1533.1 645.4 L1531.9 643.9 L1530 642.5 L1527.7 641.5 L1525 640.7 L1522.1 640.3 L1519.1 640.3 L1516.2 640.7 L1513.5 641.5 L1511.2 642.5 L1509.3 643.9 L1508.1 645.4Z M1453.9 676.9 L1461.4 681.3 L1463.5 682.1 L1465.8 682.6 L1468.3 682.6 L1470.7 682.1 L1472.7 681.3 L1485 674.2 L1485.8 673.5 L1485 672.9 L1477.5 668.5 L1475.4 667.7 L1473.1 667.2 L1470.6 667.2 L1468.2 667.7 L1466.2 668.5 L1453.9 675.6 L1453.1 676.3Z" fill="#2d383b" stroke="#14191b" stroke-width="1" fill-rule="evenodd"/>
<path d="M1247.4 485.1 L1245.1 486.2 L1242.4 487 L1239.5 487.3 L1236.5 487.3 L1233.6 487 L1230.9 486.2 L1228.6 485.1 L1226.7 483.8 L1225.4 482.2 L1224.8 480.6 L1224.8 478.8 L1225.4 477.2 L1226.7 475.6 L1228.6 474.3 L1230.9 473.2 L1233.6 472.4 L1236.5 472.1 L1239.5 472.1 L1242.4 472.4 L1245.1 473.2 L1247.4 474.3 L1249.3 475.6 L1250.6 477.2 L1251.2 478.8 L1251.2 480.6 L1250.6 482.2 L1249.3 483.8Z M1226.7 483.8 L1228.6 485.1 L1230.9 486.2 L1233.6 487 L1236.5 487.3 L1239.5 487.3 L1242.4 487 L1245.1 486.2 L1247.4 485.1 L1249.3 483.8 L1250.5 482.3 L1249.3 480.8 L1247.4 479.5 L1245.1 478.4 L1242.4 477.6 L1239.5 477.3 L1236.5 477.3 L1233.6 477.6 L1230.9 478.4 L1228.6 479.5 L1226.7 480.8 L1225.5 482.3Z" fill="#1a2022" fill-rule="evenodd"/>
<path d="M1247.4 485.1 L1245.1 486.2 L1242.4 487 L1239.5 487.3 L1236.5 487.3 L1233.6 487 L1230.9 486.2 L1228.6 485.1 L1226.7 483.8 L1225.4 482.2 L1224.8 480.6 L1224.8 478.8 L1225.4 477.2 L1226.7 475.6 L1228.6 474.3 L1230.9 473.2 L1233.6 472.4 L1236.5 472.1 L1239.5 472.1 L1242.4 472.4 L1245.1 473.2 L1247.4 474.3 L1249.3 475.6 L1250.6 477.2 L1251.2 478.8 L1251.2 480.6 L1250.6 482.2 L1249.3 483.8Z" fill="none" stroke="#0e1213" stroke-width="0.8"/>
<path d="M1190.1 518.2 L1188.1 519 L1185.7 519.5 L1183.2 519.5 L1180.9 519 L1178.8 518.2 L1171.3 513.8 L1169.8 512.7 L1169.1 511.3 L1169.1 509.9 L1169.8 508.5 L1171.3 507.3 L1183.6 500.2 L1185.6 499.4 L1188 499 L1190.5 499 L1192.8 499.4 L1194.9 500.2 L1202.4 504.6 L1203.9 505.8 L1204.6 507.1 L1204.6 508.6 L1203.9 510 L1202.4 511.1Z M1171.3 513.8 L1178.8 518.2 L1180.9 519 L1183.2 519.5 L1185.7 519.5 L1188.1 519 L1190.1 518.2 L1202.4 511.1 L1203.2 510.5 L1202.4 509.8 L1194.9 505.4 L1192.8 504.6 L1190.5 504.2 L1188 504.2 L1185.6 504.6 L1183.6 505.4 L1171.3 512.5 L1170.5 513.2Z" fill="#1a2022" fill-rule="evenodd"/>
<path d="M1190.1 518.2 L1188.1 519 L1185.7 519.5 L1183.2 519.5 L1180.9 519 L1178.8 518.2 L1171.3 513.8 L1169.8 512.7 L1169.1 511.3 L1169.1 509.9 L1169.8 508.5 L1171.3 507.3 L1183.6 500.2 L1185.6 499.4 L1188 499 L1190.5 499 L1192.8 499.4 L1194.9 500.2 L1202.4 504.6 L1203.9 505.8 L1204.6 507.1 L1204.6 508.6 L1203.9 510 L1202.4 511.1Z" fill="none" stroke="#0e1213" stroke-width="0.8"/>
<path d="M1294.5 512.3 L1292.2 513.4 L1289.5 514.1 L1286.6 514.5 L1283.6 514.5 L1280.7 514.1 L1278 513.4 L1275.7 512.3 L1273.8 511 L1272.5 509.4 L1271.9 507.7 L1271.9 506 L1272.5 504.3 L1273.8 502.8 L1275.7 501.4 L1278 500.4 L1280.7 499.6 L1283.6 499.2 L1286.6 499.2 L1289.5 499.6 L1292.2 500.4 L1294.5 501.4 L1296.4 502.8 L1297.7 504.3 L1298.3 506 L1298.3 507.7 L1297.7 509.4 L1296.4 511Z M1273.8 511 L1275.7 512.3 L1278 513.4 L1280.7 514.1 L1283.6 514.5 L1286.6 514.5 L1289.5 514.1 L1292.2 513.4 L1294.5 512.3 L1296.4 511 L1297.6 509.5 L1296.4 508 L1294.5 506.6 L1292.2 505.6 L1289.5 504.8 L1286.6 504.4 L1283.6 504.4 L1280.7 504.8 L1278 505.6 L1275.7 506.6 L1273.8 508 L1272.6 509.5Z" fill="#1a2022" fill-rule="evenodd"/>
<path d="M1294.5 512.3 L1292.2 513.4 L1289.5 514.1 L1286.6 514.5 L1283.6 514.5 L1280.7 514.1 L1278 513.4 L1275.7 512.3 L1273.8 511 L1272.5 509.4 L1271.9 507.7 L1271.9 506 L1272.5 504.3 L1273.8 502.8 L1275.7 501.4 L1278 500.4 L1280.7 499.6 L1283.6 499.2 L1286.6 499.2 L1289.5 499.6 L1292.2 500.4 L1294.5 501.4 L1296.4 502.8 L1297.7 504.3 L1298.3 506 L1298.3 507.7 L1297.7 509.4 L1296.4 511Z" fill="none" stroke="#0e1213" stroke-width="0.8"/>
<path d="M1237.2 545.4 L1235.2 546.2 L1232.8 546.7 L1230.3 546.7 L1228 546.2 L1225.9 545.4 L1218.4 541 L1216.9 539.9 L1216.2 538.5 L1216.2 537 L1216.9 535.7 L1218.4 534.5 L1230.7 527.4 L1232.7 526.6 L1235.1 526.1 L1237.6 526.1 L1239.9 526.6 L1242 527.4 L1249.5 531.8 L1251 532.9 L1251.7 534.3 L1251.7 535.8 L1251 537.1 L1249.5 538.3Z M1218.4 541 L1225.9 545.4 L1228 546.2 L1230.3 546.7 L1232.8 546.7 L1235.2 546.2 L1237.2 545.4 L1249.5 538.3 L1250.3 537.6 L1249.5 537 L1242 532.6 L1239.9 531.8 L1237.6 531.3 L1235.1 531.3 L1232.7 531.8 L1230.7 532.6 L1218.4 539.7 L1217.6 540.4Z" fill="#1a2022" fill-rule="evenodd"/>
<path d="M1237.2 545.4 L1235.2 546.2 L1232.8 546.7 L1230.3 546.7 L1228 546.2 L1225.9 545.4 L1218.4 541 L1216.9 539.9 L1216.2 538.5 L1216.2 537 L1216.9 535.7 L1218.4 534.5 L1230.7 527.4 L1232.7 526.6 L1235.1 526.1 L1237.6 526.1 L1239.9 526.6 L1242 527.4 L1249.5 531.8 L1251 532.9 L1251.7 534.3 L1251.7 535.8 L1251 537.1 L1249.5 538.3Z" fill="none" stroke="#0e1213" stroke-width="0.8"/>
<path d="M1341.6 539.5 L1339.3 540.6 L1336.6 541.3 L1333.7 541.7 L1330.7 541.7 L1327.8 541.3 L1325.1 540.6 L1322.8 539.5 L1320.9 538.2 L1319.6 536.6 L1319 534.9 L1319 533.2 L1319.6 531.5 L1320.9 530 L1322.8 528.6 L1325.1 527.6 L1327.8 526.8 L1330.7 526.4 L1333.7 526.4 L1336.6 526.8 L1339.3 527.6 L1341.6 528.6 L1343.5 530 L1344.8 531.5 L1345.4 533.2 L1345.4 534.9 L1344.8 536.6 L1343.5 538.2Z M1320.9 538.2 L1322.8 539.5 L1325.1 540.6 L1327.8 541.3 L1330.7 541.7 L1333.7 541.7 L1336.6 541.3 L1339.3 540.6 L1341.6 539.5 L1343.5 538.2 L1344.7 536.7 L1343.5 535.2 L1341.6 533.8 L1339.3 532.8 L1336.6 532 L1333.7 531.6 L1330.7 531.6 L1327.8 532 L1325.1 532.8 L1322.8 533.8 L1320.9 535.2 L1319.7 536.7Z" fill="#1a2022" fill-rule="evenodd"/>
<path d="M1341.6 539.5 L1339.3 540.6 L1336.6 541.3 L1333.7 541.7 L1330.7 541.7 L1327.8 541.3 L1325.1 540.6 L1322.8 539.5 L1320.9 538.2 L1319.6 536.6 L1319 534.9 L1319 533.2 L1319.6 531.5 L1320.9 530 L1322.8 528.6 L1325.1 527.6 L1327.8 526.8 L1330.7 526.4 L1333.7 526.4 L1336.6 526.8 L1339.3 527.6 L1341.6 528.6 L1343.5 530 L1344.8 531.5 L1345.4 533.2 L1345.4 534.9 L1344.8 536.6 L1343.5 538.2Z" fill="none" stroke="#0e1213" stroke-width="0.8"/>
<path d="M1284.3 572.5 L1282.3 573.4 L1279.9 573.8 L1277.4 573.8 L1275.1 573.4 L1273 572.5 L1265.5 568.2 L1264 567 L1263.3 565.7 L1263.3 564.2 L1264 562.8 L1265.5 561.7 L1277.8 554.6 L1279.8 553.8 L1282.2 553.3 L1284.7 553.3 L1287 553.8 L1289.1 554.6 L1296.6 559 L1298.1 560.1 L1298.8 561.5 L1298.8 562.9 L1298.1 564.3 L1296.6 565.5Z M1265.5 568.2 L1273 572.5 L1275.1 573.4 L1277.4 573.8 L1279.9 573.8 L1282.3 573.4 L1284.3 572.5 L1296.6 565.5 L1297.4 564.8 L1296.6 564.2 L1289.1 559.8 L1287 559 L1284.7 558.5 L1282.2 558.5 L1279.8 559 L1277.8 559.8 L1265.5 566.9 L1264.7 567.5Z" fill="#1a2022" fill-rule="evenodd"/>
<path d="M1284.3 572.5 L1282.3 573.4 L1279.9 573.8 L1277.4 573.8 L1275.1 573.4 L1273 572.5 L1265.5 568.2 L1264 567 L1263.3 565.7 L1263.3 564.2 L1264 562.8 L1265.5 561.7 L1277.8 554.6 L1279.8 553.8 L1282.2 553.3 L1284.7 553.3 L1287 553.8 L1289.1 554.6 L1296.6 559 L1298.1 560.1 L1298.8 561.5 L1298.8 562.9 L1298.1 564.3 L1296.6 565.5Z" fill="none" stroke="#0e1213" stroke-width="0.8"/>
<path d="M1388.7 566.7 L1386.4 567.7 L1383.7 568.5 L1380.8 568.9 L1377.8 568.9 L1374.9 568.5 L1372.2 567.7 L1369.9 566.7 L1368 565.3 L1366.7 563.8 L1366.1 562.1 L1366.1 560.4 L1366.7 558.7 L1368 557.1 L1369.9 555.8 L1372.2 554.7 L1374.9 554 L1377.8 553.6 L1380.8 553.6 L1383.7 554 L1386.4 554.7 L1388.7 555.8 L1390.6 557.1 L1391.9 558.7 L1392.5 560.4 L1392.5 562.1 L1391.9 563.8 L1390.6 565.3Z M1368 565.3 L1369.9 566.7 L1372.2 567.7 L1374.9 568.5 L1377.8 568.9 L1380.8 568.9 L1383.7 568.5 L1386.4 567.7 L1388.7 566.7 L1390.6 565.3 L1391.8 563.8 L1390.6 562.3 L1388.7 561 L1386.4 559.9 L1383.7 559.2 L1380.8 558.8 L1377.8 558.8 L1374.9 559.2 L1372.2 559.9 L1369.9 561 L1368 562.3 L1366.8 563.8Z" fill="#1a2022" fill-rule="evenodd"/>
<path d="M1388.7 566.7 L1386.4 567.7 L1383.7 568.5 L1380.8 568.9 L1377.8 568.9 L1374.9 568.5 L1372.2 567.7 L1369.9 566.7 L1368 565.3 L1366.7 563.8 L1366.1 562.1 L1366.1 560.4 L1366.7 558.7 L1368 557.1 L1369.9 555.8 L1372.2 554.7 L1374.9 554 L1377.8 553.6 L1380.8 553.6 L1383.7 554 L1386.4 554.7 L1388.7 555.8 L1390.6 557.1 L1391.9 558.7 L1392.5 560.4 L1392.5 562.1 L1391.9 563.8 L1390.6 565.3Z" fill="none" stroke="#0e1213" stroke-width="0.8"/>
<path d="M1331.4 599.7 L1329.4 600.6 L1327 601 L1324.5 601 L1322.2 600.6 L1320.1 599.7 L1312.6 595.4 L1311.1 594.2 L1310.4 592.8 L1310.4 591.4 L1311.1 590 L1312.6 588.9 L1324.9 581.8 L1326.9 580.9 L1329.3 580.5 L1331.8 580.5 L1334.1 580.9 L1336.2 581.8 L1343.7 586.1 L1345.2 587.3 L1345.9 588.7 L1345.9 590.1 L1345.2 591.5 L1343.7 592.7Z M1312.6 595.4 L1320.1 599.7 L1322.2 600.6 L1324.5 601 L1327 601 L1329.4 600.6 L1331.4 599.7 L1343.7 592.7 L1344.5 592 L1343.7 591.3 L1336.2 587 L1334.1 586.1 L1331.8 585.7 L1329.3 585.7 L1326.9 586.1 L1324.9 587 L1312.6 594.1 L1311.8 594.7Z" fill="#1a2022" fill-rule="evenodd"/>
<path d="M1331.4 599.7 L1329.4 600.6 L1327 601 L1324.5 601 L1322.2 600.6 L1320.1 599.7 L1312.6 595.4 L1311.1 594.2 L1310.4 592.8 L1310.4 591.4 L1311.1 590 L1312.6 588.9 L1324.9 581.8 L1326.9 580.9 L1329.3 580.5 L1331.8 580.5 L1334.1 580.9 L1336.2 581.8 L1343.7 586.1 L1345.2 587.3 L1345.9 588.7 L1345.9 590.1 L1345.2 591.5 L1343.7 592.7Z" fill="none" stroke="#0e1213" stroke-width="0.8"/>
<path d="M1435.8 593.9 L1433.5 594.9 L1430.8 595.7 L1427.9 596.1 L1424.9 596.1 L1422 595.7 L1419.3 594.9 L1417 593.9 L1415.1 592.5 L1413.8 591 L1413.2 589.3 L1413.2 587.6 L1413.8 585.9 L1415.1 584.3 L1417 583 L1419.3 581.9 L1422 581.2 L1424.9 580.8 L1427.9 580.8 L1430.8 581.2 L1433.5 581.9 L1435.8 583 L1437.7 584.3 L1439 585.9 L1439.6 587.6 L1439.6 589.3 L1439 591 L1437.7 592.5Z M1415.1 592.5 L1417 593.9 L1419.3 594.9 L1422 595.7 L1424.9 596.1 L1427.9 596.1 L1430.8 595.7 L1433.5 594.9 L1435.8 593.9 L1437.7 592.5 L1438.9 591 L1437.7 589.5 L1435.8 588.2 L1433.5 587.1 L1430.8 586.4 L1427.9 586 L1424.9 586 L1422 586.4 L1419.3 587.1 L1417 588.2 L1415.1 589.5 L1413.9 591Z" fill="#1a2022" fill-rule="evenodd"/>
<path d="M1435.8 593.9 L1433.5 594.9 L1430.8 595.7 L1427.9 596.1 L1424.9 596.1 L1422 595.7 L1419.3 594.9 L1417 593.9 L1415.1 592.5 L1413.8 591 L1413.2 589.3 L1413.2 587.6 L1413.8 585.9 L1415.1 584.3 L1417 583 L1419.3 581.9 L1422 581.2 L1424.9 580.8 L1427.9 580.8 L1430.8 581.2 L1433.5 581.9 L1435.8 583 L1437.7 584.3 L1439 585.9 L1439.6 587.6 L1439.6 589.3 L1439 591 L1437.7 592.5Z" fill="none" stroke="#0e1213" stroke-width="0.8"/>
<path d="M1378.5 626.9 L1376.5 627.8 L1374.1 628.2 L1371.6 628.2 L1369.3 627.8 L1367.2 626.9 L1359.7 622.6 L1358.2 621.4 L1357.5 620 L1357.5 618.6 L1358.2 617.2 L1359.7 616 L1372 609 L1374 608.1 L1376.4 607.7 L1378.9 607.7 L1381.2 608.1 L1383.3 609 L1390.8 613.3 L1392.3 614.5 L1393 615.9 L1393 617.3 L1392.3 618.7 L1390.8 619.8Z M1359.7 622.6 L1367.2 626.9 L1369.3 627.8 L1371.6 628.2 L1374.1 628.2 L1376.5 627.8 L1378.5 626.9 L1390.8 619.8 L1391.6 619.2 L1390.8 618.5 L1383.3 614.2 L1381.2 613.3 L1378.9 612.9 L1376.4 612.9 L1374 613.3 L1372 614.2 L1359.7 621.2 L1358.9 621.9Z" fill="#1a2022" fill-rule="evenodd"/>
<path d="M1378.5 626.9 L1376.5 627.8 L1374.1 628.2 L1371.6 628.2 L1369.3 627.8 L1367.2 626.9 L1359.7 622.6 L1358.2 621.4 L1357.5 620 L1357.5 618.6 L1358.2 617.2 L1359.7 616 L1372 609 L1374 608.1 L1376.4 607.7 L1378.9 607.7 L1381.2 608.1 L1383.3 609 L1390.8 613.3 L1392.3 614.5 L1393 615.9 L1393 617.3 L1392.3 618.7 L1390.8 619.8Z" fill="none" stroke="#0e1213" stroke-width="0.8"/>
<path d="M1482.9 621 L1480.6 622.1 L1477.9 622.9 L1475 623.2 L1472 623.2 L1469.1 622.9 L1466.4 622.1 L1464.1 621 L1462.2 619.7 L1460.9 618.1 L1460.3 616.5 L1460.3 614.7 L1460.9 613.1 L1462.2 611.5 L1464.1 610.2 L1466.4 609.1 L1469.1 608.3 L1472 608 L1475 608 L1477.9 608.3 L1480.6 609.1 L1482.9 610.2 L1484.8 611.5 L1486.1 613.1 L1486.7 614.7 L1486.7 616.5 L1486.1 618.1 L1484.8 619.7Z M1462.2 619.7 L1464.1 621 L1466.4 622.1 L1469.1 622.9 L1472 623.2 L1475 623.2 L1477.9 622.9 L1480.6 622.1 L1482.9 621 L1484.8 619.7 L1486 618.2 L1484.8 616.7 L1482.9 615.4 L1480.6 614.3 L1477.9 613.5 L1475 613.2 L1472 613.2 L1469.1 613.5 L1466.4 614.3 L1464.1 615.4 L1462.2 616.7 L1461 618.2Z" fill="#1a2022" fill-rule="evenodd"/>
<path d="M1482.9 621 L1480.6 622.1 L1477.9 622.9 L1475 623.2 L1472 623.2 L1469.1 622.9 L1466.4 622.1 L1464.1 621 L1462.2 619.7 L1460.9 618.1 L1460.3 616.5 L1460.3 614.7 L1460.9 613.1 L1462.2 611.5 L1464.1 610.2 L1466.4 609.1 L1469.1 608.3 L1472 608 L1475 608 L1477.9 608.3 L1480.6 609.1 L1482.9 610.2 L1484.8 611.5 L1486.1 613.1 L1486.7 614.7 L1486.7 616.5 L1486.1 618.1 L1484.8 619.7Z" fill="none" stroke="#0e1213" stroke-width="0.8"/>
<path d="M1425.6 654.1 L1423.6 654.9 L1421.2 655.4 L1418.7 655.4 L1416.4 654.9 L1414.3 654.1 L1406.8 649.7 L1405.3 648.6 L1404.6 647.2 L1404.6 645.8 L1405.3 644.4 L1406.8 643.2 L1419.1 636.1 L1421.1 635.3 L1423.5 634.9 L1426 634.9 L1428.3 635.3 L1430.4 636.1 L1437.9 640.5 L1439.4 641.7 L1440.1 643 L1440.1 644.5 L1439.4 645.9 L1437.9 647Z M1406.8 649.7 L1414.3 654.1 L1416.4 654.9 L1418.7 655.4 L1421.2 655.4 L1423.6 654.9 L1425.6 654.1 L1437.9 647 L1438.7 646.4 L1437.9 645.7 L1430.4 641.3 L1428.3 640.5 L1426 640.1 L1423.5 640.1 L1421.1 640.5 L1419.1 641.3 L1406.8 648.4 L1406 649.1Z" fill="#1a2022" fill-rule="evenodd"/>
<path d="M1425.6 654.1 L1423.6 654.9 L1421.2 655.4 L1418.7 655.4 L1416.4 654.9 L1414.3 654.1 L1406.8 649.7 L1405.3 648.6 L1404.6 647.2 L1404.6 645.8 L1405.3 644.4 L1406.8 643.2 L1419.1 636.1 L1421.1 635.3 L1423.5 634.9 L1426 634.9 L1428.3 635.3 L1430.4 636.1 L1437.9 640.5 L1439.4 641.7 L1440.1 643 L1440.1 644.5 L1439.4 645.9 L1437.9 647Z" fill="none" stroke="#0e1213" stroke-width="0.8"/>
<path d="M1530 648.2 L1527.7 649.3 L1525 650 L1522.1 650.4 L1519.1 650.4 L1516.2 650 L1513.5 649.3 L1511.2 648.2 L1509.3 646.9 L1508 645.3 L1507.4 643.6 L1507.4 641.9 L1508 640.2 L1509.3 638.7 L1511.2 637.3 L1513.5 636.3 L1516.2 635.5 L1519.1 635.1 L1522.1 635.1 L1525 635.5 L1527.7 636.3 L1530 637.3 L1531.9 638.7 L1533.2 640.2 L1533.8 641.9 L1533.8 643.6 L1533.2 645.3 L1531.9 646.9Z M1509.3 646.9 L1511.2 648.2 L1513.5 649.3 L1516.2 650 L1519.1 650.4 L1522.1 650.4 L1525 650 L1527.7 649.3 L1530 648.2 L1531.9 646.9 L1533.1 645.4 L1531.9 643.9 L1530 642.5 L1527.7 641.5 L1525 640.7 L1522.1 640.3 L1519.1 640.3 L1516.2 640.7 L1513.5 641.5 L1511.2 642.5 L1509.3 643.9 L1508.1 645.4Z" fill="#1a2022" fill-rule="evenodd"/>
<path d="M1530 648.2 L1527.7 649.3 L1525 650 L1522.1 650.4 L1519.1 650.4 L1516.2 650 L1513.5 649.3 L1511.2 648.2 L1509.3 646.9 L1508 645.3 L1507.4 643.6 L1507.4 641.9 L1508 640.2 L1509.3 638.7 L1511.2 637.3 L1513.5 636.3 L1516.2 635.5 L1519.1 635.1 L1522.1 635.1 L1525 635.5 L1527.7 636.3 L1530 637.3 L1531.9 638.7 L1533.2 640.2 L1533.8 641.9 L1533.8 643.6 L1533.2 645.3 L1531.9 646.9Z" fill="none" stroke="#0e1213" stroke-width="0.8"/>
<path d="M1472.7 681.3 L1470.7 682.1 L1468.3 682.6 L1465.8 682.6 L1463.5 682.1 L1461.4 681.3 L1453.9 676.9 L1452.4 675.8 L1451.7 674.4 L1451.7 672.9 L1452.4 671.6 L1453.9 670.4 L1466.2 663.3 L1468.2 662.5 L1470.6 662 L1473.1 662 L1475.4 662.5 L1477.5 663.3 L1485 667.7 L1486.5 668.8 L1487.2 670.2 L1487.2 671.7 L1486.5 673 L1485 674.2Z M1453.9 676.9 L1461.4 681.3 L1463.5 682.1 L1465.8 682.6 L1468.3 682.6 L1470.7 682.1 L1472.7 681.3 L1485 674.2 L1485.8 673.5 L1485 672.9 L1477.5 668.5 L1475.4 667.7 L1473.1 667.2 L1470.6 667.2 L1468.2 667.7 L1466.2 668.5 L1453.9 675.6 L1453.1 676.3Z" fill="#1a2022" fill-rule="evenodd"/>
<path d="M1472.7 681.3 L1470.7 682.1 L1468.3 682.6 L1465.8 682.6 L1463.5 682.1 L1461.4 681.3 L1453.9 676.9 L1452.4 675.8 L1451.7 674.4 L1451.7 672.9 L1452.4 671.6 L1453.9 670.4 L1466.2 663.3 L1468.2 662.5 L1470.6 662 L1473.1 662 L1475.4 662.5 L1477.5 663.3 L1485 667.7 L1486.5 668.8 L1487.2 670.2 L1487.2 671.7 L1486.5 673 L1485 674.2Z" fill="none" stroke="#0e1213" stroke-width="0.8"/>
<path d="M730 753.8 L730.6 750.1 L732.5 746.6 L735.5 743.3 L739.5 740.5 L744.5 738.1 L750.1 736.4 L756.2 735.3 L762.6 735 L769 735.3 L775.1 736.4 L780.7 738.1 L785.7 740.5 L1068.3 903.6 L1072.3 906.4 L1075.3 909.7 L1077.2 913.2 L1077.8 916.9 L1077.8 922.9 L1077.2 926.5 L1075.3 930.1 L1072.3 933.3 L1068.3 936.2 L1063.3 938.5 L1057.7 940.3 L1051.6 941.4 L1045.2 941.7 L1038.8 941.4 L1032.7 940.3 L1027.1 938.5 L1022.1 936.2 L739.5 773.1 L735.5 770.3 L732.5 767 L730.6 763.5 L730 759.8Z M750 756.3 L751.3 757.9 L753.2 759.2 L755.5 760.3 L758.2 761.1 L761.1 761.4 L764.1 761.4 L767 761.1 L769.7 760.3 L772 759.2 L773.9 757.9 L775.2 756.3 L775.2 756.2 L775.2 756.1 L773.9 754.5 L772 753.2 L769.7 752.1 L767 751.3 L764.1 751 L761.1 751 L758.2 751.3 L755.5 752.1 L753.2 753.2 L751.3 754.5 L750 756.1 L750 756.2Z M797.1 783.5 L798.4 785.1 L800.3 786.4 L802.6 787.5 L805.3 788.2 L808.2 788.6 L811.2 788.6 L814.1 788.2 L816.8 787.5 L819.1 786.4 L821 785.1 L822.3 783.5 L822.3 783.4 L822.3 783.2 L821 781.7 L819.1 780.3 L816.8 779.3 L814.1 778.5 L811.2 778.1 L808.2 778.1 L805.3 778.5 L802.6 779.3 L800.3 780.3 L798.4 781.7 L797.1 783.2 L797.1 783.4Z M844.2 810.7 L845.5 812.3 L847.4 813.6 L849.7 814.7 L852.4 815.4 L855.3 815.8 L858.3 815.8 L861.2 815.4 L863.9 814.7 L866.2 813.6 L868.1 812.3 L869.4 810.7 L869.4 810.6 L869.4 810.4 L868.1 808.9 L866.2 807.5 L863.9 806.5 L861.2 805.7 L858.3 805.3 L855.3 805.3 L852.4 805.7 L849.7 806.5 L847.4 807.5 L845.5 808.9 L844.2 810.4 L844.2 810.6Z M891.3 837.9 L892.6 839.4 L894.5 840.8 L896.8 841.8 L899.5 842.6 L902.4 843 L905.4 843 L908.3 842.6 L911 841.8 L913.3 840.8 L915.2 839.4 L916.5 837.9 L916.5 837.7 L916.5 837.6 L915.2 836 L913.3 834.7 L911 833.6 L908.3 832.9 L905.4 832.5 L902.4 832.5 L899.5 832.9 L896.8 833.6 L894.5 834.7 L892.6 836 L891.3 837.6 L891.3 837.7Z M938.4 865.1 L939.7 866.6 L941.6 868 L943.9 869 L946.6 869.8 L949.5 870.2 L952.5 870.2 L955.4 869.8 L958.1 869 L960.4 868 L962.3 866.6 L963.6 865.1 L963.6 864.9 L963.6 864.8 L962.3 863.2 L960.4 861.9 L958.1 860.8 L955.4 860.1 L952.5 859.7 L949.5 859.7 L946.6 860.1 L943.9 860.8 L941.6 861.9 L939.7 863.2 L938.4 864.8 L938.4 864.9Z M985.5 892.2 L986.8 893.8 L988.7 895.1 L991 896.2 L993.7 897 L996.6 897.3 L999.6 897.3 L1002.5 897 L1005.2 896.2 L1007.5 895.1 L1009.4 893.8 L1010.7 892.2 L1010.7 892.1 L1010.7 892 L1009.4 890.4 L1007.5 889.1 L1005.2 888 L1002.5 887.2 L999.6 886.9 L996.6 886.9 L993.7 887.2 L991 888 L988.7 889.1 L986.8 890.4 L985.5 892 L985.5 892.1Z M1032.6 919.4 L1033.9 921 L1035.8 922.3 L1038.1 923.4 L1040.8 924.1 L1043.7 924.5 L1046.7 924.5 L1049.6 924.1 L1052.3 923.4 L1054.6 922.3 L1056.5 921 L1057.8 919.4 L1057.8 919.3 L1057.8 919.1 L1056.5 917.6 L1054.6 916.2 L1052.3 915.2 L1049.6 914.4 L1046.7 914 L1043.7 914 L1040.8 914.4 L1038.1 915.2 L1035.8 916.2 L1033.9 917.6 L1032.6 919.1 L1032.6 919.3Z" fill="#1c2325" stroke="#14191b" stroke-width="1" fill-rule="evenodd"/>
<path d="M1068.3 903.6 L1072.3 906.4 L1075.4 909.7 L1077.2 913.2 L1077.8 916.9 L1077.2 920.6 L1075.4 924.1 L1072.3 927.3 L1068.3 930.2 L1063.3 932.5 L1057.7 934.3 L1051.6 935.4 L1045.2 935.7 L1038.8 935.4 L1032.7 934.3 L1027.1 932.5 L1022.1 930.2 L739.5 767.1 L735.5 764.3 L732.4 761 L730.6 757.5 L730 753.8 L730.6 750.1 L732.4 746.6 L735.5 743.3 L739.5 740.5 L744.5 738.1 L750.1 736.4 L756.2 735.3 L762.6 735 L769 735.3 L775.1 736.4 L780.7 738.1 L785.7 740.5Z M750 756.3 L751.3 757.9 L753.2 759.2 L755.5 760.3 L758.2 761.1 L761.1 761.4 L764.1 761.4 L767 761.1 L769.7 760.3 L772 759.2 L773.9 757.9 L775.2 756.3 L775.2 756.2 L775.2 756.1 L773.9 754.5 L772 753.2 L769.7 752.1 L767 751.3 L764.1 751 L761.1 751 L758.2 751.3 L755.5 752.1 L753.2 753.2 L751.3 754.5 L750 756.1 L750 756.2Z M797.1 783.5 L798.4 785.1 L800.3 786.4 L802.6 787.5 L805.3 788.2 L808.2 788.6 L811.2 788.6 L814.1 788.2 L816.8 787.5 L819.1 786.4 L821 785.1 L822.3 783.5 L822.3 783.4 L822.3 783.2 L821 781.7 L819.1 780.3 L816.8 779.3 L814.1 778.5 L811.2 778.1 L808.2 778.1 L805.3 778.5 L802.6 779.3 L800.3 780.3 L798.4 781.7 L797.1 783.2 L797.1 783.4Z M844.2 810.7 L845.5 812.3 L847.4 813.6 L849.7 814.7 L852.4 815.4 L855.3 815.8 L858.3 815.8 L861.2 815.4 L863.9 814.7 L866.2 813.6 L868.1 812.3 L869.4 810.7 L869.4 810.6 L869.4 810.4 L868.1 808.9 L866.2 807.5 L863.9 806.5 L861.2 805.7 L858.3 805.3 L855.3 805.3 L852.4 805.7 L849.7 806.5 L847.4 807.5 L845.5 808.9 L844.2 810.4 L844.2 810.6Z M891.3 837.9 L892.6 839.4 L894.5 840.8 L896.8 841.8 L899.5 842.6 L902.4 843 L905.4 843 L908.3 842.6 L911 841.8 L913.3 840.8 L915.2 839.4 L916.5 837.9 L916.5 837.7 L916.5 837.6 L915.2 836 L913.3 834.7 L911 833.6 L908.3 832.9 L905.4 832.5 L902.4 832.5 L899.5 832.9 L896.8 833.6 L894.5 834.7 L892.6 836 L891.3 837.6 L891.3 837.7Z M938.4 865.1 L939.7 866.6 L941.6 868 L943.9 869 L946.6 869.8 L949.5 870.2 L952.5 870.2 L955.4 869.8 L958.1 869 L960.4 868 L962.3 866.6 L963.6 865.1 L963.6 864.9 L963.6 864.8 L962.3 863.2 L960.4 861.9 L958.1 860.8 L955.4 860.1 L952.5 859.7 L949.5 859.7 L946.6 860.1 L943.9 860.8 L941.6 861.9 L939.7 863.2 L938.4 864.8 L938.4 864.9Z M985.5 892.2 L986.8 893.8 L988.7 895.1 L991 896.2 L993.7 897 L996.6 897.3 L999.6 897.3 L1002.5 897 L1005.2 896.2 L1007.5 895.1 L1009.4 893.8 L1010.7 892.2 L1010.7 892.1 L1010.7 892 L1009.4 890.4 L1007.5 889.1 L1005.2 888 L1002.5 887.2 L999.6 886.9 L996.6 886.9 L993.7 887.2 L991 888 L988.7 889.1 L986.8 890.4 L985.5 892 L985.5 892.1Z M1032.6 919.4 L1033.9 921 L1035.8 922.3 L1038.1 923.4 L1040.8 924.1 L1043.7 924.5 L1046.7 924.5 L1049.6 924.1 L1052.3 923.4 L1054.6 922.3 L1056.5 921 L1057.8 919.4 L1057.8 919.3 L1057.8 919.1 L1056.5 917.6 L1054.6 916.2 L1052.3 915.2 L1049.6 914.4 L1046.7 914 L1043.7 914 L1040.8 914.4 L1038.1 915.2 L1035.8 916.2 L1033.9 917.6 L1032.6 919.1 L1032.6 919.3Z" fill="#2d383b" stroke="#14191b" stroke-width="1" fill-rule="evenodd"/>
<path d="M772 759.2 L769.7 760.3 L767 761.1 L764.1 761.4 L761.1 761.4 L758.2 761.1 L755.5 760.3 L753.2 759.2 L751.3 757.9 L750 756.3 L749.4 754.7 L749.4 752.9 L750 751.3 L751.3 749.7 L753.2 748.4 L755.5 747.3 L758.2 746.5 L761.1 746.2 L764.1 746.2 L767 746.5 L769.7 747.3 L772 748.4 L773.9 749.7 L775.2 751.3 L775.8 752.9 L775.8 754.7 L775.2 756.3 L773.9 757.9Z M750 756.3 L751.3 757.9 L753.2 759.2 L755.5 760.3 L758.2 761.1 L761.1 761.4 L764.1 761.4 L767 761.1 L769.7 760.3 L772 759.2 L773.9 757.9 L775.2 756.3 L775.2 756.2 L775.2 756.1 L773.9 754.5 L772 753.2 L769.7 752.1 L767 751.3 L764.1 751 L761.1 751 L758.2 751.3 L755.5 752.1 L753.2 753.2 L751.3 754.5 L750 756.1 L750 756.2Z" fill="#1a2022" fill-rule="evenodd"/>
<path d="M772 759.2 L769.7 760.3 L767 761.1 L764.1 761.4 L761.1 761.4 L758.2 761.1 L755.5 760.3 L753.2 759.2 L751.3 757.9 L750 756.3 L749.4 754.7 L749.4 752.9 L750 751.3 L751.3 749.7 L753.2 748.4 L755.5 747.3 L758.2 746.5 L761.1 746.2 L764.1 746.2 L767 746.5 L769.7 747.3 L772 748.4 L773.9 749.7 L775.2 751.3 L775.8 752.9 L775.8 754.7 L775.2 756.3 L773.9 757.9Z" fill="none" stroke="#0e1213" stroke-width="0.8"/>
<path d="M819.1 786.4 L816.8 787.5 L814.1 788.2 L811.2 788.6 L808.2 788.6 L805.3 788.2 L802.6 787.5 L800.3 786.4 L798.4 785.1 L797.1 783.5 L796.5 781.8 L796.5 780.1 L797.1 778.4 L798.4 776.9 L800.3 775.5 L802.6 774.5 L805.3 773.7 L808.2 773.3 L811.2 773.3 L814.1 773.7 L816.8 774.5 L819.1 775.5 L821 776.9 L822.3 778.4 L822.9 780.1 L822.9 781.8 L822.3 783.5 L821 785.1Z M797.1 783.5 L798.4 785.1 L800.3 786.4 L802.6 787.5 L805.3 788.2 L808.2 788.6 L811.2 788.6 L814.1 788.2 L816.8 787.5 L819.1 786.4 L821 785.1 L822.3 783.5 L822.3 783.4 L822.3 783.2 L821 781.7 L819.1 780.3 L816.8 779.3 L814.1 778.5 L811.2 778.1 L808.2 778.1 L805.3 778.5 L802.6 779.3 L800.3 780.3 L798.4 781.7 L797.1 783.2 L797.1 783.4Z" fill="#1a2022" fill-rule="evenodd"/>
<path d="M819.1 786.4 L816.8 787.5 L814.1 788.2 L811.2 788.6 L808.2 788.6 L805.3 788.2 L802.6 787.5 L800.3 786.4 L798.4 785.1 L797.1 783.5 L796.5 781.8 L796.5 780.1 L797.1 778.4 L798.4 776.9 L800.3 775.5 L802.6 774.5 L805.3 773.7 L808.2 773.3 L811.2 773.3 L814.1 773.7 L816.8 774.5 L819.1 775.5 L821 776.9 L822.3 778.4 L822.9 780.1 L822.9 781.8 L822.3 783.5 L821 785.1Z" fill="none" stroke="#0e1213" stroke-width="0.8"/>
<path d="M866.2 813.6 L863.9 814.7 L861.2 815.4 L858.3 815.8 L855.3 815.8 L852.4 815.4 L849.7 814.7 L847.4 813.6 L845.5 812.3 L844.2 810.7 L843.6 809 L843.6 807.3 L844.2 805.6 L845.5 804.1 L847.4 802.7 L849.7 801.7 L852.4 800.9 L855.3 800.5 L858.3 800.5 L861.2 800.9 L863.9 801.7 L866.2 802.7 L868.1 804.1 L869.4 805.6 L870 807.3 L870 809 L869.4 810.7 L868.1 812.3Z M844.2 810.7 L845.5 812.3 L847.4 813.6 L849.7 814.7 L852.4 815.4 L855.3 815.8 L858.3 815.8 L861.2 815.4 L863.9 814.7 L866.2 813.6 L868.1 812.3 L869.4 810.7 L869.4 810.6 L869.4 810.4 L868.1 808.9 L866.2 807.5 L863.9 806.5 L861.2 805.7 L858.3 805.3 L855.3 805.3 L852.4 805.7 L849.7 806.5 L847.4 807.5 L845.5 808.9 L844.2 810.4 L844.2 810.6Z" fill="#1a2022" fill-rule="evenodd"/>
<path d="M866.2 813.6 L863.9 814.7 L861.2 815.4 L858.3 815.8 L855.3 815.8 L852.4 815.4 L849.7 814.7 L847.4 813.6 L845.5 812.3 L844.2 810.7 L843.6 809 L843.6 807.3 L844.2 805.6 L845.5 804.1 L847.4 802.7 L849.7 801.7 L852.4 800.9 L855.3 800.5 L858.3 800.5 L861.2 800.9 L863.9 801.7 L866.2 802.7 L868.1 804.1 L869.4 805.6 L870 807.3 L870 809 L869.4 810.7 L868.1 812.3Z" fill="none" stroke="#0e1213" stroke-width="0.8"/>
<path d="M913.3 840.8 L911 841.8 L908.3 842.6 L905.4 843 L902.4 843 L899.5 842.6 L896.8 841.8 L894.5 840.8 L892.6 839.4 L891.3 837.9 L890.7 836.2 L890.7 834.5 L891.3 832.8 L892.6 831.2 L894.5 829.9 L896.8 828.8 L899.5 828.1 L902.4 827.7 L905.4 827.7 L908.3 828.1 L911 828.8 L913.3 829.9 L915.2 831.2 L916.5 832.8 L917.1 834.5 L917.1 836.2 L916.5 837.9 L915.2 839.4Z M891.3 837.9 L892.6 839.4 L894.5 840.8 L896.8 841.8 L899.5 842.6 L902.4 843 L905.4 843 L908.3 842.6 L911 841.8 L913.3 840.8 L915.2 839.4 L916.5 837.9 L916.5 837.7 L916.5 837.6 L915.2 836 L913.3 834.7 L911 833.6 L908.3 832.9 L905.4 832.5 L902.4 832.5 L899.5 832.9 L896.8 833.6 L894.5 834.7 L892.6 836 L891.3 837.6 L891.3 837.7Z" fill="#1a2022" fill-rule="evenodd"/>
<path d="M913.3 840.8 L911 841.8 L908.3 842.6 L905.4 843 L902.4 843 L899.5 842.6 L896.8 841.8 L894.5 840.8 L892.6 839.4 L891.3 837.9 L890.7 836.2 L890.7 834.5 L891.3 832.8 L892.6 831.2 L894.5 829.9 L896.8 828.8 L899.5 828.1 L902.4 827.7 L905.4 827.7 L908.3 828.1 L911 828.8 L913.3 829.9 L915.2 831.2 L916.5 832.8 L917.1 834.5 L917.1 836.2 L916.5 837.9 L915.2 839.4Z" fill="none" stroke="#0e1213" stroke-width="0.8"/>
<path d="M960.4 868 L958.1 869 L955.4 869.8 L952.5 870.2 L949.5 870.2 L946.6 869.8 L943.9 869 L941.6 868 L939.7 866.6 L938.4 865.1 L937.8 863.4 L937.8 861.7 L938.4 860 L939.7 858.4 L941.6 857.1 L943.9 856 L946.6 855.3 L949.5 854.9 L952.5 854.9 L955.4 855.3 L958.1 856 L960.4 857.1 L962.3 858.4 L963.6 860 L964.2 861.7 L964.2 863.4 L963.6 865.1 L962.3 866.6Z M938.4 865.1 L939.7 866.6 L941.6 868 L943.9 869 L946.6 869.8 L949.5 870.2 L952.5 870.2 L955.4 869.8 L958.1 869 L960.4 868 L962.3 866.6 L963.6 865.1 L963.6 864.9 L963.6 864.8 L962.3 863.2 L960.4 861.9 L958.1 860.8 L955.4 860.1 L952.5 859.7 L949.5 859.7 L946.6 860.1 L943.9 860.8 L941.6 861.9 L939.7 863.2 L938.4 864.8 L938.4 864.9Z" fill="#1a2022" fill-rule="evenodd"/>
<path d="M960.4 868 L958.1 869 L955.4 869.8 L952.5 870.2 L949.5 870.2 L946.6 869.8 L943.9 869 L941.6 868 L939.7 866.6 L938.4 865.1 L937.8 863.4 L937.8 861.7 L938.4 860 L939.7 858.4 L941.6 857.1 L943.9 856 L946.6 855.3 L949.5 854.9 L952.5 854.9 L955.4 855.3 L958.1 856 L960.4 857.1 L962.3 858.4 L963.6 860 L964.2 861.7 L964.2 863.4 L963.6 865.1 L962.3 866.6Z" fill="none" stroke="#0e1213" stroke-width="0.8"/>
<path d="M1007.5 895.1 L1005.2 896.2 L1002.5 897 L999.6 897.3 L996.6 897.3 L993.7 897 L991 896.2 L988.7 895.1 L986.8 893.8 L985.5 892.2 L984.9 890.6 L984.9 888.8 L985.5 887.2 L986.8 885.6 L988.7 884.3 L991 883.2 L993.7 882.4 L996.6 882.1 L999.6 882.1 L1002.5 882.4 L1005.2 883.2 L1007.5 884.3 L1009.4 885.6 L1010.7 887.2 L1011.3 888.8 L1011.3 890.6 L1010.7 892.2 L1009.4 893.8Z M985.5 892.2 L986.8 893.8 L988.7 895.1 L991 896.2 L993.7 897 L996.6 897.3 L999.6 897.3 L1002.5 897 L1005.2 896.2 L1007.5 895.1 L1009.4 893.8 L1010.7 892.2 L1010.7 892.1 L1010.7 892 L1009.4 890.4 L1007.5 889.1 L1005.2 888 L1002.5 887.2 L999.6 886.9 L996.6 886.9 L993.7 887.2 L991 888 L988.7 889.1 L986.8 890.4 L985.5 892 L985.5 892.1Z" fill="#1a2022" fill-rule="evenodd"/>
<path d="M1007.5 895.1 L1005.2 896.2 L1002.5 897 L999.6 897.3 L996.6 897.3 L993.7 897 L991 896.2 L988.7 895.1 L986.8 893.8 L985.5 892.2 L984.9 890.6 L984.9 888.8 L985.5 887.2 L986.8 885.6 L988.7 884.3 L991 883.2 L993.7 882.4 L996.6 882.1 L999.6 882.1 L1002.5 882.4 L1005.2 883.2 L1007.5 884.3 L1009.4 885.6 L1010.7 887.2 L1011.3 888.8 L1011.3 890.6 L1010.7 892.2 L1009.4 893.8Z" fill="none" stroke="#0e1213" stroke-width="0.8"/>
<path d="M1054.6 922.3 L1052.3 923.4 L1049.6 924.1 L1046.7 924.5 L1043.7 924.5 L1040.8 924.1 L1038.1 923.4 L1035.8 922.3 L1033.9 921 L1032.6 919.4 L1032 917.7 L1032 916 L1032.6 914.3 L1033.9 912.8 L1035.8 911.4 L1038.1 910.4 L1040.8 909.6 L1043.7 909.2 L1046.7 909.2 L1049.6 909.6 L1052.3 910.4 L1054.6 911.4 L1056.5 912.8 L1057.8 914.3 L1058.4 916 L1058.4 917.7 L1057.8 919.4 L1056.5 921Z M1032.6 919.4 L1033.9 921 L1035.8 922.3 L1038.1 923.4 L1040.8 924.1 L1043.7 924.5 L1046.7 924.5 L1049.6 924.1 L1052.3 923.4 L1054.6 922.3 L1056.5 921 L1057.8 919.4 L1057.8 919.3 L1057.8 919.1 L1056.5 917.6 L1054.6 916.2 L1052.3 915.2 L1049.6 914.4 L1046.7 914 L1043.7 914 L1040.8 914.4 L1038.1 915.2 L1035.8 916.2 L1033.9 917.6 L1032.6 919.1 L1032.6 919.3Z" fill="#1a2022" fill-rule="evenodd"/>
<path d="M1054.6 922.3 L1052.3 923.4 L1049.6 924.1 L1046.7 924.5 L1043.7 924.5 L1040.8 924.1 L1038.1 923.4 L1035.8 922.3 L1033.9 921 L1032.6 919.4 L1032 917.7 L1032 916 L1032.6 914.3 L1033.9 912.8 L1035.8 911.4 L1038.1 910.4 L1040.8 909.6 L1043.7 909.2 L1046.7 909.2 L1049.6 909.6 L1052.3 910.4 L1054.6 911.4 L1056.5 912.8 L1057.8 914.3 L1058.4 916 L1058.4 917.7 L1057.8 919.4 L1056.5 921Z" fill="none" stroke="#0e1213" stroke-width="0.8"/>
<use href="#gn10000676f78" x="338.8" y="1585.9"/>
<use href="#gn08000676f78" x="390.2" y="1556"/>
<use href="#gn10000676f78" x="526.8" y="1694.7"/>
<use href="#gn10000676f78" x="578.7" y="1665.2"/>
<use href="#gn10000676f78" x="809.9" y="1567.7"/>
<use href="#gn10000676f78" x="997.8" y="1694.6"/>
<path d="M338.9 890 V1054.5" stroke="#d9512f" stroke-width="2.6" fill="none" stroke-linecap="butt"/>
<path d="M338.9 1086 V1408" stroke="#d9512f" stroke-width="2.6" fill="none" stroke-linecap="butt"/>
<path d="M338.9 1500 V1587" stroke="#d9512f" stroke-width="2.6" fill="none" stroke-linecap="butt"/>
<path d="M390.2 880 V1023" stroke="#d9512f" stroke-width="2.6" fill="none" stroke-linecap="butt"/>
<path d="M390.2 1116 V1383" stroke="#d9512f" stroke-width="2.6" fill="none" stroke-linecap="butt"/>
<path d="M390.2 1509 V1557" stroke="#d9512f" stroke-width="2.6" fill="none" stroke-linecap="butt"/>
<path d="M527.1 1019 V1163.4" stroke="#d9512f" stroke-width="2.6" fill="none" stroke-linecap="butt"/>
<path d="M527.1 1196 V1516.5" stroke="#d9512f" stroke-width="2.6" fill="none" stroke-linecap="butt"/>
<path d="M527.1 1543.6 V1696" stroke="#d9512f" stroke-width="2.6" fill="none" stroke-linecap="butt"/>
<path d="M578.7 989 V1132.8" stroke="#d9512f" stroke-width="2.6" fill="none" stroke-linecap="butt"/>
<path d="M578.7 1218 V1491.7" stroke="#d9512f" stroke-width="2.6" fill="none" stroke-linecap="butt"/>
<path d="M578.7 1515.6 V1666.5" stroke="#d9512f" stroke-width="2.6" fill="none" stroke-linecap="butt"/>
<path d="M809.5 638 V781.5" stroke="#d9512f" stroke-width="2.6" fill="none" stroke-linecap="butt"/>
<path d="M809.5 812 V1131" stroke="#d9512f" stroke-width="2.6" fill="none" stroke-linecap="butt"/>
<path d="M809.5 1496 V1569" stroke="#d9512f" stroke-width="2.6" fill="none" stroke-linecap="butt"/>
<path d="M997.9 747 V890.2" stroke="#d9512f" stroke-width="2.6" fill="none" stroke-linecap="butt"/>
<path d="M997.9 921 V1246" stroke="#d9512f" stroke-width="2.6" fill="none" stroke-linecap="butt"/>
<path d="M997.9 1272 V1696" stroke="#d9512f" stroke-width="2.6" fill="none" stroke-linecap="butt"/>
<path d="M1238.3 363 V542" stroke="#d9512f" stroke-width="2.6" fill="none" stroke-linecap="butt"/>
<path d="M1238.3 570 V895" stroke="#d9512f" stroke-width="2.6" fill="none" stroke-linecap="butt"/>
<path d="M1238.3 981.5 V1004.5" stroke="#d9512f" stroke-width="2.6" fill="none" stroke-linecap="butt"/>
<path d="M1285.4 338 V513" stroke="#d9512f" stroke-width="2.6" fill="none" stroke-linecap="butt"/>
<path d="M1285.4 599 V867" stroke="#d9512f" stroke-width="2.6" fill="none" stroke-linecap="butt"/>
<path d="M1285.4 954.4 V977" stroke="#d9512f" stroke-width="2.6" fill="none" stroke-linecap="butt"/>
<path d="M1426.9 473 V652.5" stroke="#d9512f" stroke-width="2.6" fill="none" stroke-linecap="butt"/>
<path d="M1426.9 680 V1001" stroke="#d9512f" stroke-width="2.6" fill="none" stroke-linecap="butt"/>
<path d="M1426.9 1025 V1113.5" stroke="#d9512f" stroke-width="2.6" fill="none" stroke-linecap="butt"/>
<path d="M1473.7 446 V620.6" stroke="#d9512f" stroke-width="2.6" fill="none" stroke-linecap="butt"/>
<path d="M1473.7 700.5 V975" stroke="#d9512f" stroke-width="2.6" fill="none" stroke-linecap="butt"/>
<path d="M1473.7 998 V1086" stroke="#d9512f" stroke-width="2.6" fill="none" stroke-linecap="butt"/>
<use href="#gb100" x="338.1" y="858.1"/>
<use href="#gb100" x="390.4" y="828.8"/>
<use href="#gb100" x="527.2" y="968"/>
<use href="#gb100" x="578.8" y="938"/>
<use href="#gb100" x="809.7" y="588.7"/>
<use href="#gb100" x="998.3" y="697.9"/>
<use href="#gn112018e959d" x="1238.6" y="340.2"/>
<use href="#gn112018e959d" x="1285.4" y="313.2"/>
<use href="#gn112018e959d" x="1426.8" y="449.2"/>
<use href="#gn112018e959d" x="1473.9" y="421.6"/>
<text transform="matrix(0.1201 0 0 0.1428 319.4 814.5)" font-size="200" font-weight="bold" fill="#2f6db5" stroke="#2f6db5" stroke-width="6">A</text>
<text transform="matrix(0.1000 0 0 0.1428 384.1 794.4)" font-size="200" font-weight="bold" fill="#2f6db5" stroke="#2f6db5" stroke-width="6">B</text>
<text transform="matrix(0.1097 0 0 0.1430 510 934.4)" font-size="200" font-weight="bold" fill="#2f6db5" stroke="#2f6db5" stroke-width="6">C</text>
<text transform="matrix(0.1035 0 0 0.1428 555.9 908.7)" font-size="200" font-weight="bold" fill="#2f6db5" stroke="#2f6db5" stroke-width="6">D</text>
<text transform="matrix(0.0940 0 0 0.1428 834.9 571.1)" font-size="200" font-weight="bold" fill="#2f6db5" stroke="#2f6db5" stroke-width="6">E</text>
<text transform="matrix(0.0959 0 0 0.1428 990.2 664)" font-size="200" font-weight="bold" fill="#2f6db5" stroke="#2f6db5" stroke-width="6">F</text>
<text transform="matrix(0.1026 0 0 0.1430 1223.9 308)" font-size="200" font-weight="bold" fill="#2f6db5" stroke="#2f6db5" stroke-width="6">G</text>
<text transform="matrix(0.1000 0 0 0.1428 1272.4 285.6)" font-size="200" font-weight="bold" fill="#2f6db5" stroke="#2f6db5" stroke-width="6">F</text>
<text transform="matrix(0.1215 0 0 0.1428 1411.3 415.5)" font-size="200" font-weight="bold" fill="#2f6db5" stroke="#2f6db5" stroke-width="6">H</text>
<text transform="matrix(0.0893 0 0 0.1428 1465 389.9)" font-size="200" font-weight="bold" fill="#2f6db5" stroke="#2f6db5" stroke-width="6">I</text>
<g transform="matrix(1.045 0 0 1.045 893.4 194)">
<path d="M385.8 1461 L468.2 1413.5 L468.2 1470 L391.8 1514.1 Q385.8 1517.6 385.8 1510.6 Z" fill="#c4b388" stroke="#241f16" stroke-width="1"/>
<path d="M390.5 1463.7 L472.9 1416.2 L472.9 1472.8 L396.5 1516.8 Q390.5 1520.3 390.5 1513.3 Z" fill="#cdbd93" stroke="#241f16" stroke-width="1"/>
<use href="#hra59971fff" x="416.8" y="1478.4"/>
<path d="M440.2 1428.3 L1143.8 1022.2 L1143.8 1144.6 L440.2 1550.7 Z" fill="#b3a57f" stroke="#241f16" stroke-width="1"/>
<path d="M444.9 1431 L1148.5 1024.9 L1148.5 1147.3 L444.9 1553.4 Z" fill="url(#g7)" stroke="#241f16" stroke-width="1"/>
<path d="M444.9 1431 L1148.5 1024.9 L1148.5 1147.3 L444.9 1553.4Z" fill="url(#g8)"/>
<use href="#hr948965fff" x="468.3" y="1509.3"/>
<use href="#hr948965fff" x="515.4" y="1482.1"/>
<use href="#hs948965fff" x="561.3" y="1399.4"/>
<use href="#hr948965fff" x="562.5" y="1454.9"/>
<use href="#hs948965fff" x="608.4" y="1372.2"/>
<use href="#hr948965fff" x="609.6" y="1427.7"/>
<use href="#hs948965fff" x="655.5" y="1345"/>
<use href="#hr948965fff" x="656.7" y="1400.5"/>
<use href="#hs847a5afff" x="702.6" y="1317.9"/>
<use href="#hr847a5afff" x="703.8" y="1373.4"/>
<use href="#hs847a5afff" x="749.7" y="1290.7"/>
<use href="#hr847a5afff" x="750.9" y="1346.2"/>
<use href="#hs847a5afff" x="796.8" y="1263.5"/>
<use href="#hr847a5afff" x="798" y="1319"/>
<use href="#hs847a5afff" x="843.9" y="1236.3"/>
<use href="#hr847a5afff" x="845.1" y="1291.8"/>
<use href="#hs847a5afff" x="891" y="1209.1"/>
<use href="#hr847a5afff" x="892.2" y="1264.6"/>
<use href="#hs847a5afff" x="938.1" y="1182"/>
<use href="#hr847a5afff" x="939.3" y="1237.5"/>
<use href="#hs847a5afff" x="985.2" y="1154.8"/>
<use href="#hr847a5afff" x="986.4" y="1210.3"/>
<use href="#hr847a5afff" x="1033.5" y="1183.1"/>
<use href="#hs847a5afff" x="1079.4" y="1100.4"/>
<use href="#hr847a5afff" x="1080.6" y="1155.9"/>
<use href="#hr847a5afff" x="1127.7" y="1128.7"/>
<path d="M299.6 1462.1 L1474.7 783.9 L1474.7 831.5 Q1474.7 840.5 1466.9 845 L305.6 1515.1 Q299.6 1518.6 299.6 1511.6 Z" fill="#c4b388" stroke="#241f16" stroke-width="1"/>
<path d="M304.3 1464.8 L1479.4 786.6 L1479.4 834.2 Q1479.4 843.2 1471.6 847.7 L310.3 1517.9 Q304.3 1521.4 304.3 1514.4 Z" fill="url(#g9)" stroke="#241f16" stroke-width="1"/>
<path d="M304.3 1464.8 L1479.4 786.6 L1479.4 834.2 Q1479.4 843.2 1471.6 847.7 L310.3 1517.9 Q304.3 1521.4 304.3 1514.4 Z" fill="url(#g10)"/>
<path d="M299.3 1456.2 L1474.5 778.1 L1479.4 786.6 L304.3 1464.8Z" fill="url(#g11)" stroke="#241f16" stroke-width="0.9"/>
<use href="#hra59971fff" x="327" y="1481"/>
<use href="#hra59971fff" x="374.1" y="1453.8"/>
<use href="#hra59971fff" x="421.2" y="1426.6"/>
<use href="#hra59971fff" x="562.5" y="1345.1"/>
<use href="#hra59971fff" x="609.6" y="1317.9"/>
<use href="#hra59971fff" x="656.7" y="1290.7"/>
<use href="#hra59971fff" x="703.8" y="1263.6"/>
<use href="#hra59971fff" x="750.9" y="1236.4"/>
<use href="#hra59971fff" x="798" y="1209.2"/>
<use href="#hra59971fff" x="845.1" y="1182"/>
<use href="#hra59971fff" x="892.2" y="1154.8"/>
<use href="#hra59971fff" x="939.3" y="1127.7"/>
<use href="#hra59971fff" x="986.4" y="1100.5"/>
<use href="#hra59971fff" x="1127.7" y="1018.9"/>
<use href="#hra59971fff" x="1174.8" y="991.8"/>
<use href="#hra59971fff" x="1221.9" y="964.6"/>
<use href="#hra59971fff" x="1269" y="937.4"/>
<use href="#hra59971fff" x="1316.1" y="910.2"/>
<use href="#hra59971fff" x="1363.2" y="883"/>
<use href="#hra59971fff" x="1410.3" y="855.9"/>
<use href="#hra59971fff" x="1457.4" y="828.7"/>
<path d="M255.1 1430.7 L300.3 1456.8 L300.3 1462.2 L255.1 1436.1Z" fill="#c4b388" stroke="#241f16" stroke-width="0.9"/>
<path d="M260 1433.5 Q252.2 1429 260 1424.5 L1419.6 755.4 Q1427.4 750.9 1435.2 755.4 L1471.9 776.6 Q1474.5 778.1 1471.9 779.6 L299.3 1456.2 Z" fill="#dac99e" stroke="#241f16" stroke-width="1"/>
<use href="#hta59971fff" x="296.5" y="1428.5"/>
<use href="#hta59971fff" x="343.6" y="1401.3"/>
<use href="#hta59971fff" x="390.7" y="1374.1"/>
<use href="#hta59971fff" x="437.8" y="1347"/>
<use href="#hta59971fff" x="484.9" y="1319.8"/>
<use href="#hta59971fff" x="532" y="1292.6"/>
<use href="#hta59971fff" x="579.1" y="1265.4"/>
<use href="#hta59971fff" x="626.2" y="1238.2"/>
<use href="#hta59971fff" x="673.3" y="1211.1"/>
<use href="#hta59971fff" x="720.4" y="1183.9"/>
<use href="#hta59971fff" x="767.5" y="1156.7"/>
<use href="#hta59971fff" x="814.6" y="1129.5"/>
<use href="#hta59971fff" x="861.7" y="1102.3"/>
<use href="#hta59971fff" x="908.8" y="1075.2"/>
<use href="#hta59971fff" x="955.9" y="1048"/>
<use href="#hta59971fff" x="1003" y="1020.8"/>
<use href="#hta59971fff" x="1050.1" y="993.6"/>
<use href="#hta59971fff" x="1097.2" y="966.4"/>
<use href="#hta59971fff" x="1144.3" y="939.3"/>
<use href="#hta59971fff" x="1191.4" y="912.1"/>
<use href="#hta59971fff" x="1238.5" y="884.9"/>
<use href="#hta59971fff" x="1285.6" y="857.7"/>
<use href="#hta59971fff" x="1332.7" y="830.5"/>
<use href="#hta59971fff" x="1379.8" y="803.4"/>
<use href="#hta59971fff" x="1426.9" y="776.2"/>
<use href="#tn106" x="468.3" y="1399.5"/>
<use href="#tn104" x="515.4" y="1372.3"/>
<use href="#tn100" x="468.3" y="1453.9"/>
<use href="#tn100" x="515.4" y="1426.7"/>
<use href="#tn104" x="1033.5" y="1073.3"/>
<use href="#tn104" x="1080.6" y="1046.1"/>
<use href="#tn095" x="1033.5" y="1127.7"/>
<use href="#tn095" x="1127.7" y="1073.3"/>
<use href="#hs7d7459a09471" x="1079.4" y="1100.4"/>
<path d="M432.9 1539.8 L598.6 1444.1 L598.6 1499.6 L439.8 1591.3 Q432.9 1595.3 432.9 1587.3 Z" fill="#c4b388" stroke="#241f16" stroke-width="1"/>
<path d="M437.6 1542.5 L603.4 1446.8 L603.4 1502.3 L444.5 1594 Q437.6 1598 437.6 1590 Z" fill="#d9c89d" stroke="#241f16" stroke-width="1"/>
<use href="#hra59971fff" x="456.9" y="1560"/>
<path d="M572 1511.4 L1279.5 1103.2 L1279.5 1210.3 Q1279.5 1219.3 1271.7 1223.8 L578.1 1624 Q572 1627.5 572 1620.5 Z" fill="#c4b388" stroke="#241f16" stroke-width="1"/>
<path d="M576.7 1514.1 L1284.2 1105.9 L1284.2 1213 Q1284.2 1222 1276.4 1226.5 L582.8 1626.8 Q576.7 1630.3 576.7 1623.3 Z" fill="#d4c398" stroke="#241f16" stroke-width="1"/>
<use href="#hra59971fff" x="600.5" y="1590.6"/>
<use href="#hra59971fff" x="647.6" y="1563.4"/>
<use href="#hra59971fff" x="694.7" y="1536.2"/>
<use href="#hra59971fff" x="741.8" y="1509.1"/>
<use href="#hra59971fff" x="788.9" y="1481.9"/>
<use href="#hra59971fff" x="836" y="1454.7"/>
<use href="#hra59971fff" x="883.1" y="1427.5"/>
<use href="#hra59971fff" x="930.2" y="1400.3"/>
<use href="#hra59971fff" x="977.3" y="1373.2"/>
<use href="#hra59971fff" x="1024.4" y="1346"/>
<use href="#hra59971fff" x="1071.5" y="1318.8"/>
<use href="#hra59971fff" x="1118.6" y="1291.6"/>
<use href="#hra59971fff" x="1165.7" y="1264.4"/>
<use href="#hra59971fff" x="1212.8" y="1237.3"/>
<use href="#hra59971fff" x="1259.9" y="1210.1"/>
<use href="#hsa59971fff" x="694.4" y="1475.3"/>
<use href="#hsa59971fff" x="741.5" y="1448.1"/>
<use href="#hsa59971fff" x="788.6" y="1420.9"/>
<use href="#hsa59971fff" x="835.7" y="1393.7"/>
<use href="#hsa59971fff" x="882.8" y="1366.5"/>
<use href="#hsa59971fff" x="929.9" y="1339.4"/>
<use href="#hsa59971fff" x="977" y="1312.2"/>
<use href="#hsa59971fff" x="1024.1" y="1285"/>
<use href="#hsa59971fff" x="1071.2" y="1257.8"/>
<use href="#hsa59971fff" x="1118.3" y="1230.6"/>
<path d="M529.6 1541.3 L670.9 1459.8 L670.9 1515.2 L535.7 1593.3 Q529.6 1596.8 529.6 1589.8 Z" fill="#c4b388" stroke="#241f16" stroke-width="1"/>
<path d="M534.4 1544 L675.7 1462.5 L675.7 1518 L540.4 1596 Q534.4 1599.5 534.4 1592.5 Z" fill="#d4c398" stroke="#241f16" stroke-width="1"/>
<use href="#hra59971fff" x="557.9" y="1560.7"/>
<use href="#tb100" x="605" y="1533.5"/>
<use href="#tb100" x="652.1" y="1506.3"/>
<path d="M1141.9 1188 L1283.2 1106.4 L1283.2 1161.9 L1141.9 1243.4 Z" fill="#c4b388" stroke="#241f16" stroke-width="1"/>
<path d="M1146.7 1190.7 L1288 1109.1 L1288 1164.6 L1146.7 1246.2 Z" fill="#d4c398" stroke="#241f16" stroke-width="1"/>
<use href="#hra59971fff" x="1216.9" y="1179.2"/>
<use href="#tb100" x="1169.8" y="1206.4"/>
<use href="#tb100" x="1264" y="1152"/>
<path d="M434.6 1541.9 Q432.9 1540.9 434.6 1539.9 L1606.4 863.6 Q1609.9 861.6 1613.3 863.6 L1653.2 886.6 Q1661 891.1 1653.2 895.6 L494.4 1564.3 Q484 1570.3 473.6 1564.3 Z" fill="#c4b388" stroke="#241f16" stroke-width="0.9"/>
<path d="M434.6 1536.5 Q432.9 1535.5 434.6 1534.5 L1606.4 858.2 Q1609.9 856.2 1613.3 858.2 L1653.2 881.2 Q1661 885.7 1653.2 890.2 L494.4 1558.9 Q484 1564.9 473.6 1558.9 Z" fill="#dac99e" stroke="#241f16" stroke-width="1"/>
<path d="M437.8 1537.2 L1612.9 859.1" stroke="#241f16" stroke-width="0.7" fill="none"/>
<use href="#hta99c75cbbb91" x="484.9" y="1537.2"/>
<use href="#hta99c75cbbb91" x="532" y="1510"/>
<use href="#hta99c75cbbb91" x="579.1" y="1482.9"/>
<use href="#hta99c75cbbb91" x="626.2" y="1455.7"/>
<use href="#hta99c75cbbb91" x="673.3" y="1428.5"/>
<use href="#hta99c75cbbb91" x="720.4" y="1401.3"/>
<use href="#hta99c75cbbb91" x="767.5" y="1374.1"/>
<use href="#hta99c75cbbb91" x="814.6" y="1347"/>
<use href="#hta99c75cbbb91" x="861.7" y="1319.8"/>
<use href="#hta99c75cbbb91" x="908.8" y="1292.6"/>
<use href="#hta99c75cbbb91" x="955.9" y="1265.4"/>
<use href="#hta99c75cbbb91" x="1003" y="1238.2"/>
<use href="#hta99c75cbbb91" x="1050.1" y="1211.1"/>
<use href="#hta99c75cbbb91" x="1097.2" y="1183.9"/>
<use href="#hta99c75cbbb91" x="1144.3" y="1156.7"/>
<use href="#hta99c75cbbb91" x="1191.4" y="1129.5"/>
<use href="#hta99c75cbbb91" x="1238.5" y="1102.3"/>
<use href="#hta99c75cbbb91" x="1285.6" y="1075.2"/>
<use href="#hta99c75cbbb91" x="1332.7" y="1048"/>
<use href="#hta99c75cbbb91" x="1379.8" y="1020.8"/>
<use href="#hta99c75cbbb91" x="1426.9" y="993.6"/>
<use href="#hta99c75cbbb91" x="1474" y="966.4"/>
<use href="#hta99c75cbbb91" x="1521.1" y="939.3"/>
<use href="#hta99c75cbbb91" x="1568.2" y="912.1"/>
<use href="#hta99c75cbbb91" x="1615.3" y="884.9"/>
</g>
<path d="M1152 1628.1 L1153.3 1626.2 L1155.9 1624.3 L1242.2 1574.5 L1245.5 1573 L1248.8 1572.2 L1252 1572.2 L1255.3 1573 L1258.5 1574.5 L1586.8 1763.9 L1589.4 1765.8 L1590.7 1767.7 L1590.7 1776.3 L1589.4 1778.2 L1586.8 1780.1 L1500.4 1830 L1497.2 1831.5 L1493.9 1832.2 L1490.6 1832.2 L1487.4 1831.5 L1484.1 1830 L1155.9 1640.5 L1153.3 1638.7 L1152 1636.8Z M1238.6 1602.5 L1240.6 1603.9 L1243 1605 L1245.8 1605.8 L1248.8 1606.2 L1252 1606.2 L1255 1605.8 L1257.8 1605 L1260.2 1603.9 L1262.2 1602.5 L1263.5 1600.9 L1262.2 1599.4 L1260.2 1598 L1257.8 1596.8 L1255 1596.1 L1252 1595.7 L1248.8 1595.7 L1245.8 1596.1 L1243 1596.8 L1240.6 1598 L1238.6 1599.4 L1237.3 1600.9Z M1180.7 1633.9 L1188.6 1638.4 L1190.7 1639.3 L1193.2 1639.8 L1195.8 1639.8 L1198.3 1639.3 L1200.4 1638.4 L1213.2 1631 L1214.1 1630.3 L1213.2 1629.7 L1205.3 1625.1 L1203.2 1624.2 L1200.7 1623.8 L1198.1 1623.8 L1195.6 1624.2 L1193.5 1625.1 L1180.7 1632.5 L1179.8 1633.2Z M1287.8 1630.9 L1289.8 1632.3 L1292.2 1633.4 L1295 1634.2 L1298.1 1634.6 L1301.2 1634.6 L1304.2 1634.2 L1307 1633.4 L1309.5 1632.3 L1311.4 1630.9 L1312.7 1629.3 L1311.4 1627.8 L1309.5 1626.4 L1307 1625.2 L1304.2 1624.5 L1301.2 1624.1 L1298.1 1624.1 L1295 1624.5 L1292.2 1625.2 L1289.8 1626.4 L1287.8 1627.8 L1286.5 1629.3Z M1229.9 1662.3 L1237.8 1666.8 L1239.9 1667.7 L1242.4 1668.2 L1245 1668.2 L1247.5 1667.7 L1249.6 1666.8 L1262.4 1659.4 L1263.3 1658.7 L1262.4 1658.1 L1254.5 1653.5 L1252.4 1652.6 L1249.9 1652.2 L1247.3 1652.2 L1244.8 1652.6 L1242.7 1653.5 L1229.9 1660.9 L1229.1 1661.6Z M1337.1 1659.3 L1339 1660.7 L1341.4 1661.8 L1344.2 1662.6 L1347.3 1663 L1350.4 1663 L1353.4 1662.6 L1356.2 1661.8 L1358.7 1660.7 L1360.6 1659.3 L1361.9 1657.7 L1360.6 1656.2 L1358.7 1654.8 L1356.2 1653.6 L1353.4 1652.9 L1350.4 1652.5 L1347.3 1652.5 L1344.2 1652.9 L1341.4 1653.6 L1339 1654.8 L1337.1 1656.2 L1335.8 1657.7Z M1279.1 1690.7 L1287 1695.2 L1289.1 1696.1 L1291.6 1696.6 L1294.2 1696.6 L1296.7 1696.1 L1298.8 1695.2 L1311.6 1687.8 L1312.5 1687.1 L1311.6 1686.5 L1303.8 1681.9 L1301.6 1681 L1299.2 1680.6 L1296.5 1680.6 L1294.1 1681 L1291.9 1681.9 L1279.1 1689.3 L1278.3 1690Z M1386.3 1687.7 L1388.2 1689.1 L1390.7 1690.2 L1393.5 1691 L1396.5 1691.4 L1399.6 1691.4 L1402.7 1691 L1405.5 1690.2 L1407.9 1689.1 L1409.8 1687.7 L1411.1 1686.1 L1409.8 1684.6 L1407.9 1683.2 L1405.5 1682 L1402.7 1681.3 L1399.6 1680.9 L1396.5 1680.9 L1393.5 1681.3 L1390.7 1682 L1388.2 1683.2 L1386.3 1684.6 L1385 1686.1Z M1328.4 1719.1 L1336.2 1723.6 L1338.4 1724.5 L1340.8 1725 L1343.5 1725 L1345.9 1724.5 L1348.1 1723.6 L1360.8 1716.2 L1361.7 1715.6 L1360.8 1714.9 L1353 1710.3 L1350.9 1709.4 L1348.4 1709 L1345.8 1709 L1343.3 1709.4 L1341.2 1710.3 L1328.4 1717.7 L1327.5 1718.4Z M1435.5 1716.1 L1437.4 1717.5 L1439.9 1718.6 L1442.7 1719.4 L1445.7 1719.8 L1448.8 1719.8 L1451.9 1719.4 L1454.7 1718.6 L1457.1 1717.5 L1459.1 1716.1 L1460.4 1714.5 L1459.1 1713 L1457.1 1711.6 L1454.7 1710.4 L1451.9 1709.7 L1448.8 1709.3 L1445.7 1709.3 L1442.7 1709.7 L1439.9 1710.4 L1437.4 1711.6 L1435.5 1713 L1434.2 1714.5Z M1377.6 1747.5 L1385.5 1752 L1387.6 1752.9 L1390.1 1753.4 L1392.7 1753.4 L1395.2 1752.9 L1397.3 1752 L1410.1 1744.6 L1410.9 1744 L1410.1 1743.3 L1402.2 1738.7 L1400.1 1737.8 L1397.6 1737.4 L1395 1737.4 L1392.5 1737.8 L1390.4 1738.7 L1377.6 1746.1 L1376.7 1746.8Z M1484.7 1744.5 L1486.7 1745.9 L1489.1 1747 L1491.9 1747.8 L1494.9 1748.2 L1498.1 1748.2 L1501.1 1747.8 L1503.9 1747 L1506.3 1745.9 L1508.3 1744.5 L1509.6 1742.9 L1508.3 1741.4 L1506.3 1740 L1503.9 1738.8 L1501.1 1738.1 L1498.1 1737.7 L1494.9 1737.7 L1491.9 1738.1 L1489.1 1738.8 L1486.7 1740 L1484.7 1741.4 L1483.4 1742.9Z M1426.8 1775.9 L1434.7 1780.4 L1436.8 1781.3 L1439.3 1781.8 L1441.9 1781.8 L1444.4 1781.3 L1446.5 1780.4 L1459.3 1773 L1460.2 1772.4 L1459.3 1771.7 L1451.4 1767.1 L1449.3 1766.2 L1446.8 1765.8 L1444.2 1765.8 L1441.7 1766.2 L1439.6 1767.1 L1426.8 1774.5 L1425.9 1775.2Z M1533.9 1772.9 L1535.9 1774.3 L1538.3 1775.4 L1541.1 1776.2 L1544.2 1776.6 L1547.3 1776.6 L1550.3 1776.2 L1553.1 1775.4 L1555.6 1774.3 L1557.5 1772.9 L1558.8 1771.3 L1557.5 1769.8 L1555.6 1768.4 L1553.1 1767.3 L1550.3 1766.5 L1547.3 1766.1 L1544.2 1766.1 L1541.1 1766.5 L1538.3 1767.3 L1535.9 1768.4 L1533.9 1769.8 L1532.6 1771.3Z M1476 1804.3 L1483.9 1808.8 L1486 1809.7 L1488.5 1810.2 L1491.1 1810.2 L1493.6 1809.7 L1495.7 1808.8 L1508.5 1801.5 L1509.4 1800.8 L1508.5 1800.1 L1500.6 1795.5 L1498.5 1794.6 L1496 1794.2 L1493.4 1794.2 L1490.9 1794.6 L1488.8 1795.5 L1476 1802.9 L1475.2 1803.6Z" fill="#1c2325" stroke="#14191b" stroke-width="1" fill-rule="evenodd"/>
<path d="M1242.3 1574.5 L1245.5 1573 L1248.8 1572.2 L1252 1572.2 L1255.3 1573 L1258.5 1574.5 L1586.8 1763.9 L1589.4 1765.8 L1590.7 1767.7 L1590.7 1769.6 L1589.4 1771.4 L1586.8 1773.3 L1500.4 1823.2 L1497.2 1824.7 L1493.9 1825.4 L1490.6 1825.4 L1487.4 1824.7 L1484.1 1823.2 L1155.9 1633.7 L1153.3 1631.9 L1152 1630 L1152 1628.1 L1153.3 1626.2 L1155.9 1624.3Z M1238.6 1602.5 L1240.6 1603.9 L1243 1605 L1245.8 1605.8 L1248.8 1606.2 L1252 1606.2 L1255 1605.8 L1257.8 1605 L1260.2 1603.9 L1262.2 1602.5 L1263.5 1600.9 L1262.2 1599.4 L1260.2 1598 L1257.8 1596.8 L1255 1596.1 L1252 1595.7 L1248.8 1595.7 L1245.8 1596.1 L1243 1596.8 L1240.6 1598 L1238.6 1599.4 L1237.3 1600.9Z M1180.7 1633.9 L1188.6 1638.4 L1190.7 1639.3 L1193.2 1639.8 L1195.8 1639.8 L1198.3 1639.3 L1200.4 1638.4 L1213.2 1631 L1214.1 1630.3 L1213.2 1629.7 L1205.3 1625.1 L1203.2 1624.2 L1200.7 1623.8 L1198.1 1623.8 L1195.6 1624.2 L1193.5 1625.1 L1180.7 1632.5 L1179.8 1633.2Z M1287.8 1630.9 L1289.8 1632.3 L1292.2 1633.4 L1295 1634.2 L1298.1 1634.6 L1301.2 1634.6 L1304.2 1634.2 L1307 1633.4 L1309.5 1632.3 L1311.4 1630.9 L1312.7 1629.3 L1311.4 1627.8 L1309.5 1626.4 L1307 1625.2 L1304.2 1624.5 L1301.2 1624.1 L1298.1 1624.1 L1295 1624.5 L1292.2 1625.2 L1289.8 1626.4 L1287.8 1627.8 L1286.5 1629.3Z M1229.9 1662.3 L1237.8 1666.8 L1239.9 1667.7 L1242.4 1668.2 L1245 1668.2 L1247.5 1667.7 L1249.6 1666.8 L1262.4 1659.4 L1263.3 1658.7 L1262.4 1658.1 L1254.5 1653.5 L1252.4 1652.6 L1249.9 1652.2 L1247.3 1652.2 L1244.8 1652.6 L1242.7 1653.5 L1229.9 1660.9 L1229.1 1661.6Z M1337.1 1659.3 L1339 1660.7 L1341.4 1661.8 L1344.2 1662.6 L1347.3 1663 L1350.4 1663 L1353.4 1662.6 L1356.2 1661.8 L1358.7 1660.7 L1360.6 1659.3 L1361.9 1657.7 L1360.6 1656.2 L1358.7 1654.8 L1356.2 1653.6 L1353.4 1652.9 L1350.4 1652.5 L1347.3 1652.5 L1344.2 1652.9 L1341.4 1653.6 L1339 1654.8 L1337.1 1656.2 L1335.8 1657.7Z M1279.1 1690.7 L1287 1695.2 L1289.1 1696.1 L1291.6 1696.6 L1294.2 1696.6 L1296.7 1696.1 L1298.8 1695.2 L1311.6 1687.8 L1312.5 1687.1 L1311.6 1686.5 L1303.8 1681.9 L1301.6 1681 L1299.2 1680.6 L1296.5 1680.6 L1294.1 1681 L1291.9 1681.9 L1279.1 1689.3 L1278.3 1690Z M1386.3 1687.7 L1388.2 1689.1 L1390.7 1690.2 L1393.5 1691 L1396.5 1691.4 L1399.6 1691.4 L1402.7 1691 L1405.5 1690.2 L1407.9 1689.1 L1409.8 1687.7 L1411.1 1686.1 L1409.8 1684.6 L1407.9 1683.2 L1405.5 1682 L1402.7 1681.3 L1399.6 1680.9 L1396.5 1680.9 L1393.5 1681.3 L1390.7 1682 L1388.2 1683.2 L1386.3 1684.6 L1385 1686.1Z M1328.4 1719.1 L1336.2 1723.6 L1338.4 1724.5 L1340.8 1725 L1343.5 1725 L1345.9 1724.5 L1348.1 1723.6 L1360.8 1716.2 L1361.7 1715.6 L1360.8 1714.9 L1353 1710.3 L1350.9 1709.4 L1348.4 1709 L1345.8 1709 L1343.3 1709.4 L1341.2 1710.3 L1328.4 1717.7 L1327.5 1718.4Z M1435.5 1716.1 L1437.4 1717.5 L1439.9 1718.6 L1442.7 1719.4 L1445.7 1719.8 L1448.8 1719.8 L1451.9 1719.4 L1454.7 1718.6 L1457.1 1717.5 L1459.1 1716.1 L1460.4 1714.5 L1459.1 1713 L1457.1 1711.6 L1454.7 1710.4 L1451.9 1709.7 L1448.8 1709.3 L1445.7 1709.3 L1442.7 1709.7 L1439.9 1710.4 L1437.4 1711.6 L1435.5 1713 L1434.2 1714.5Z M1377.6 1747.5 L1385.5 1752 L1387.6 1752.9 L1390.1 1753.4 L1392.7 1753.4 L1395.2 1752.9 L1397.3 1752 L1410.1 1744.6 L1410.9 1744 L1410.1 1743.3 L1402.2 1738.7 L1400.1 1737.8 L1397.6 1737.4 L1395 1737.4 L1392.5 1737.8 L1390.4 1738.7 L1377.6 1746.1 L1376.7 1746.8Z M1484.7 1744.5 L1486.7 1745.9 L1489.1 1747 L1491.9 1747.8 L1494.9 1748.2 L1498.1 1748.2 L1501.1 1747.8 L1503.9 1747 L1506.3 1745.9 L1508.3 1744.5 L1509.6 1742.9 L1508.3 1741.4 L1506.3 1740 L1503.9 1738.8 L1501.1 1738.1 L1498.1 1737.7 L1494.9 1737.7 L1491.9 1738.1 L1489.1 1738.8 L1486.7 1740 L1484.7 1741.4 L1483.4 1742.9Z M1426.8 1775.9 L1434.7 1780.4 L1436.8 1781.3 L1439.3 1781.8 L1441.9 1781.8 L1444.4 1781.3 L1446.5 1780.4 L1459.3 1773 L1460.2 1772.4 L1459.3 1771.7 L1451.4 1767.1 L1449.3 1766.2 L1446.8 1765.8 L1444.2 1765.8 L1441.7 1766.2 L1439.6 1767.1 L1426.8 1774.5 L1425.9 1775.2Z M1533.9 1772.9 L1535.9 1774.3 L1538.3 1775.4 L1541.1 1776.2 L1544.2 1776.6 L1547.3 1776.6 L1550.3 1776.2 L1553.1 1775.4 L1555.6 1774.3 L1557.5 1772.9 L1558.8 1771.3 L1557.5 1769.8 L1555.6 1768.4 L1553.1 1767.3 L1550.3 1766.5 L1547.3 1766.1 L1544.2 1766.1 L1541.1 1766.5 L1538.3 1767.3 L1535.9 1768.4 L1533.9 1769.8 L1532.6 1771.3Z M1476 1804.3 L1483.9 1808.8 L1486 1809.7 L1488.5 1810.2 L1491.1 1810.2 L1493.6 1809.7 L1495.7 1808.8 L1508.5 1801.5 L1509.4 1800.8 L1508.5 1800.1 L1500.6 1795.5 L1498.5 1794.6 L1496 1794.2 L1493.4 1794.2 L1490.9 1794.6 L1488.8 1795.5 L1476 1802.9 L1475.2 1803.6Z" fill="#2d383b" stroke="#14191b" stroke-width="1" fill-rule="evenodd"/>
<path d="M1260.2 1603.9 L1257.8 1605 L1255 1605.8 L1252 1606.2 L1248.8 1606.2 L1245.8 1605.8 L1243 1605 L1240.6 1603.9 L1238.6 1602.5 L1237.3 1600.9 L1236.6 1599.1 L1236.6 1597.3 L1237.3 1595.5 L1238.6 1593.9 L1240.6 1592.5 L1243 1591.4 L1245.8 1590.6 L1248.8 1590.2 L1252 1590.2 L1255 1590.6 L1257.8 1591.4 L1260.2 1592.5 L1262.2 1593.9 L1263.5 1595.5 L1264.2 1597.3 L1264.2 1599.1 L1263.5 1600.9 L1262.2 1602.5Z M1238.6 1602.5 L1240.6 1603.9 L1243 1605 L1245.8 1605.8 L1248.8 1606.2 L1252 1606.2 L1255 1605.8 L1257.8 1605 L1260.2 1603.9 L1262.2 1602.5 L1263.5 1600.9 L1262.2 1599.4 L1260.2 1598 L1257.8 1596.8 L1255 1596.1 L1252 1595.7 L1248.8 1595.7 L1245.8 1596.1 L1243 1596.8 L1240.6 1598 L1238.6 1599.4 L1237.3 1600.9Z" fill="#1a2022" fill-rule="evenodd"/>
<path d="M1260.2 1603.9 L1257.8 1605 L1255 1605.8 L1252 1606.2 L1248.8 1606.2 L1245.8 1605.8 L1243 1605 L1240.6 1603.9 L1238.6 1602.5 L1237.3 1600.9 L1236.6 1599.1 L1236.6 1597.3 L1237.3 1595.5 L1238.6 1593.9 L1240.6 1592.5 L1243 1591.4 L1245.8 1590.6 L1248.8 1590.2 L1252 1590.2 L1255 1590.6 L1257.8 1591.4 L1260.2 1592.5 L1262.2 1593.9 L1263.5 1595.5 L1264.2 1597.3 L1264.2 1599.1 L1263.5 1600.9 L1262.2 1602.5Z" fill="none" stroke="#0e1213" stroke-width="0.8"/>
<path d="M1200.4 1638.4 L1198.3 1639.3 L1195.8 1639.8 L1193.2 1639.8 L1190.7 1639.3 L1188.6 1638.4 L1180.7 1633.9 L1179.2 1632.7 L1178.4 1631.2 L1178.4 1629.7 L1179.2 1628.3 L1180.7 1627.1 L1193.5 1619.7 L1195.6 1618.8 L1198.1 1618.3 L1200.7 1618.3 L1203.2 1618.8 L1205.3 1619.7 L1213.2 1624.2 L1214.7 1625.4 L1215.5 1626.9 L1215.5 1628.4 L1214.7 1629.8 L1213.2 1631Z M1180.7 1633.9 L1188.6 1638.4 L1190.7 1639.3 L1193.2 1639.8 L1195.8 1639.8 L1198.3 1639.3 L1200.4 1638.4 L1213.2 1631 L1214.1 1630.3 L1213.2 1629.7 L1205.3 1625.1 L1203.2 1624.2 L1200.7 1623.8 L1198.1 1623.8 L1195.6 1624.2 L1193.5 1625.1 L1180.7 1632.5 L1179.8 1633.2Z" fill="#1a2022" fill-rule="evenodd"/>
<path d="M1200.4 1638.4 L1198.3 1639.3 L1195.8 1639.8 L1193.2 1639.8 L1190.7 1639.3 L1188.6 1638.4 L1180.7 1633.9 L1179.2 1632.7 L1178.4 1631.2 L1178.4 1629.7 L1179.2 1628.3 L1180.7 1627.1 L1193.5 1619.7 L1195.6 1618.8 L1198.1 1618.3 L1200.7 1618.3 L1203.2 1618.8 L1205.3 1619.7 L1213.2 1624.2 L1214.7 1625.4 L1215.5 1626.9 L1215.5 1628.4 L1214.7 1629.8 L1213.2 1631Z" fill="none" stroke="#0e1213" stroke-width="0.8"/>
<path d="M1309.5 1632.3 L1307 1633.4 L1304.2 1634.2 L1301.2 1634.6 L1298.1 1634.6 L1295 1634.2 L1292.2 1633.4 L1289.8 1632.3 L1287.8 1630.9 L1286.5 1629.3 L1285.8 1627.5 L1285.8 1625.7 L1286.5 1623.9 L1287.8 1622.3 L1289.8 1620.9 L1292.2 1619.8 L1295 1619 L1298.1 1618.6 L1301.2 1618.6 L1304.2 1619 L1307 1619.8 L1309.5 1620.9 L1311.4 1622.3 L1312.8 1623.9 L1313.5 1625.7 L1313.5 1627.5 L1312.8 1629.3 L1311.4 1630.9Z M1287.8 1630.9 L1289.8 1632.3 L1292.2 1633.4 L1295 1634.2 L1298.1 1634.6 L1301.2 1634.6 L1304.2 1634.2 L1307 1633.4 L1309.5 1632.3 L1311.4 1630.9 L1312.7 1629.3 L1311.4 1627.8 L1309.5 1626.4 L1307 1625.2 L1304.2 1624.5 L1301.2 1624.1 L1298.1 1624.1 L1295 1624.5 L1292.2 1625.2 L1289.8 1626.4 L1287.8 1627.8 L1286.5 1629.3Z" fill="#1a2022" fill-rule="evenodd"/>
<path d="M1309.5 1632.3 L1307 1633.4 L1304.2 1634.2 L1301.2 1634.6 L1298.1 1634.6 L1295 1634.2 L1292.2 1633.4 L1289.8 1632.3 L1287.8 1630.9 L1286.5 1629.3 L1285.8 1627.5 L1285.8 1625.7 L1286.5 1623.9 L1287.8 1622.3 L1289.8 1620.9 L1292.2 1619.8 L1295 1619 L1298.1 1618.6 L1301.2 1618.6 L1304.2 1619 L1307 1619.8 L1309.5 1620.9 L1311.4 1622.3 L1312.8 1623.9 L1313.5 1625.7 L1313.5 1627.5 L1312.8 1629.3 L1311.4 1630.9Z" fill="none" stroke="#0e1213" stroke-width="0.8"/>
<path d="M1249.6 1666.8 L1247.5 1667.7 L1245 1668.2 L1242.4 1668.2 L1239.9 1667.7 L1237.8 1666.8 L1229.9 1662.3 L1228.4 1661.1 L1227.6 1659.6 L1227.6 1658.1 L1228.4 1656.7 L1229.9 1655.5 L1242.7 1648.1 L1244.8 1647.2 L1247.3 1646.7 L1249.9 1646.7 L1252.4 1647.2 L1254.5 1648.1 L1262.4 1652.6 L1263.9 1653.8 L1264.8 1655.3 L1264.8 1656.8 L1263.9 1658.2 L1262.4 1659.4Z M1229.9 1662.3 L1237.8 1666.8 L1239.9 1667.7 L1242.4 1668.2 L1245 1668.2 L1247.5 1667.7 L1249.6 1666.8 L1262.4 1659.4 L1263.3 1658.7 L1262.4 1658.1 L1254.5 1653.5 L1252.4 1652.6 L1249.9 1652.2 L1247.3 1652.2 L1244.8 1652.6 L1242.7 1653.5 L1229.9 1660.9 L1229.1 1661.6Z" fill="#1a2022" fill-rule="evenodd"/>
<path d="M1249.6 1666.8 L1247.5 1667.7 L1245 1668.2 L1242.4 1668.2 L1239.9 1667.7 L1237.8 1666.8 L1229.9 1662.3 L1228.4 1661.1 L1227.6 1659.6 L1227.6 1658.1 L1228.4 1656.7 L1229.9 1655.5 L1242.7 1648.1 L1244.8 1647.2 L1247.3 1646.7 L1249.9 1646.7 L1252.4 1647.2 L1254.5 1648.1 L1262.4 1652.6 L1263.9 1653.8 L1264.8 1655.3 L1264.8 1656.8 L1263.9 1658.2 L1262.4 1659.4Z" fill="none" stroke="#0e1213" stroke-width="0.8"/>
<path d="M1358.7 1660.7 L1356.2 1661.8 L1353.4 1662.6 L1350.4 1663 L1347.3 1663 L1344.2 1662.6 L1341.4 1661.8 L1339 1660.7 L1337.1 1659.3 L1335.7 1657.7 L1335 1655.9 L1335 1654.1 L1335.7 1652.4 L1337.1 1650.7 L1339 1649.3 L1341.4 1648.2 L1344.2 1647.4 L1347.3 1647 L1350.4 1647 L1353.4 1647.4 L1356.2 1648.2 L1358.7 1649.3 L1360.6 1650.7 L1362 1652.4 L1362.7 1654.1 L1362.7 1655.9 L1362 1657.7 L1360.6 1659.3Z M1337.1 1659.3 L1339 1660.7 L1341.4 1661.8 L1344.2 1662.6 L1347.3 1663 L1350.4 1663 L1353.4 1662.6 L1356.2 1661.8 L1358.7 1660.7 L1360.6 1659.3 L1361.9 1657.7 L1360.6 1656.2 L1358.7 1654.8 L1356.2 1653.6 L1353.4 1652.9 L1350.4 1652.5 L1347.3 1652.5 L1344.2 1652.9 L1341.4 1653.6 L1339 1654.8 L1337.1 1656.2 L1335.8 1657.7Z" fill="#1a2022" fill-rule="evenodd"/>
<path d="M1358.7 1660.7 L1356.2 1661.8 L1353.4 1662.6 L1350.4 1663 L1347.3 1663 L1344.2 1662.6 L1341.4 1661.8 L1339 1660.7 L1337.1 1659.3 L1335.7 1657.7 L1335 1655.9 L1335 1654.1 L1335.7 1652.4 L1337.1 1650.7 L1339 1649.3 L1341.4 1648.2 L1344.2 1647.4 L1347.3 1647 L1350.4 1647 L1353.4 1647.4 L1356.2 1648.2 L1358.7 1649.3 L1360.6 1650.7 L1362 1652.4 L1362.7 1654.1 L1362.7 1655.9 L1362 1657.7 L1360.6 1659.3Z" fill="none" stroke="#0e1213" stroke-width="0.8"/>
<path d="M1298.8 1695.2 L1296.7 1696.1 L1294.2 1696.6 L1291.6 1696.6 L1289.1 1696.1 L1287 1695.2 L1279.1 1690.7 L1277.6 1689.5 L1276.8 1688 L1276.8 1686.5 L1277.6 1685.1 L1279.1 1683.9 L1291.9 1676.5 L1294.1 1675.6 L1296.5 1675.1 L1299.2 1675.1 L1301.6 1675.6 L1303.8 1676.5 L1311.6 1681 L1313.2 1682.2 L1314 1683.7 L1314 1685.2 L1313.2 1686.6 L1311.6 1687.8Z M1279.1 1690.7 L1287 1695.2 L1289.1 1696.1 L1291.6 1696.6 L1294.2 1696.6 L1296.7 1696.1 L1298.8 1695.2 L1311.6 1687.8 L1312.5 1687.1 L1311.6 1686.5 L1303.8 1681.9 L1301.6 1681 L1299.2 1680.6 L1296.5 1680.6 L1294.1 1681 L1291.9 1681.9 L1279.1 1689.3 L1278.3 1690Z" fill="#1a2022" fill-rule="evenodd"/>
<path d="M1298.8 1695.2 L1296.7 1696.1 L1294.2 1696.6 L1291.6 1696.6 L1289.1 1696.1 L1287 1695.2 L1279.1 1690.7 L1277.6 1689.5 L1276.8 1688 L1276.8 1686.5 L1277.6 1685.1 L1279.1 1683.9 L1291.9 1676.5 L1294.1 1675.6 L1296.5 1675.1 L1299.2 1675.1 L1301.6 1675.6 L1303.8 1676.5 L1311.6 1681 L1313.2 1682.2 L1314 1683.7 L1314 1685.2 L1313.2 1686.6 L1311.6 1687.8Z" fill="none" stroke="#0e1213" stroke-width="0.8"/>
<path d="M1407.9 1689.1 L1405.5 1690.2 L1402.7 1691 L1399.6 1691.4 L1396.5 1691.4 L1393.5 1691 L1390.7 1690.2 L1388.2 1689.1 L1386.3 1687.7 L1384.9 1686.1 L1384.2 1684.3 L1384.2 1682.5 L1384.9 1680.8 L1386.3 1679.1 L1388.2 1677.7 L1390.7 1676.6 L1393.5 1675.8 L1396.5 1675.4 L1399.6 1675.4 L1402.7 1675.8 L1405.5 1676.6 L1407.9 1677.7 L1409.8 1679.1 L1411.2 1680.8 L1411.9 1682.5 L1411.9 1684.3 L1411.2 1686.1 L1409.8 1687.7Z M1386.3 1687.7 L1388.2 1689.1 L1390.7 1690.2 L1393.5 1691 L1396.5 1691.4 L1399.6 1691.4 L1402.7 1691 L1405.5 1690.2 L1407.9 1689.1 L1409.8 1687.7 L1411.1 1686.1 L1409.8 1684.6 L1407.9 1683.2 L1405.5 1682 L1402.7 1681.3 L1399.6 1680.9 L1396.5 1680.9 L1393.5 1681.3 L1390.7 1682 L1388.2 1683.2 L1386.3 1684.6 L1385 1686.1Z" fill="#1a2022" fill-rule="evenodd"/>
<path d="M1407.9 1689.1 L1405.5 1690.2 L1402.7 1691 L1399.6 1691.4 L1396.5 1691.4 L1393.5 1691 L1390.7 1690.2 L1388.2 1689.1 L1386.3 1687.7 L1384.9 1686.1 L1384.2 1684.3 L1384.2 1682.5 L1384.9 1680.8 L1386.3 1679.1 L1388.2 1677.7 L1390.7 1676.6 L1393.5 1675.8 L1396.5 1675.4 L1399.6 1675.4 L1402.7 1675.8 L1405.5 1676.6 L1407.9 1677.7 L1409.8 1679.1 L1411.2 1680.8 L1411.9 1682.5 L1411.9 1684.3 L1411.2 1686.1 L1409.8 1687.7Z" fill="none" stroke="#0e1213" stroke-width="0.8"/>
<path d="M1348.1 1723.6 L1345.9 1724.5 L1343.5 1725 L1340.8 1725 L1338.4 1724.5 L1336.2 1723.6 L1328.4 1719.1 L1326.8 1717.9 L1326 1716.4 L1326 1714.9 L1326.8 1713.5 L1328.4 1712.3 L1341.2 1704.9 L1343.3 1704 L1345.8 1703.5 L1348.4 1703.5 L1350.9 1704 L1353 1704.9 L1360.8 1709.4 L1362.4 1710.6 L1363.2 1712.1 L1363.2 1713.6 L1362.4 1715 L1360.8 1716.2Z M1328.4 1719.1 L1336.2 1723.6 L1338.4 1724.5 L1340.8 1725 L1343.5 1725 L1345.9 1724.5 L1348.1 1723.6 L1360.8 1716.2 L1361.7 1715.6 L1360.8 1714.9 L1353 1710.3 L1350.9 1709.4 L1348.4 1709 L1345.8 1709 L1343.3 1709.4 L1341.2 1710.3 L1328.4 1717.7 L1327.5 1718.4Z" fill="#1a2022" fill-rule="evenodd"/>
<path d="M1348.1 1723.6 L1345.9 1724.5 L1343.5 1725 L1340.8 1725 L1338.4 1724.5 L1336.2 1723.6 L1328.4 1719.1 L1326.8 1717.9 L1326 1716.4 L1326 1714.9 L1326.8 1713.5 L1328.4 1712.3 L1341.2 1704.9 L1343.3 1704 L1345.8 1703.5 L1348.4 1703.5 L1350.9 1704 L1353 1704.9 L1360.8 1709.4 L1362.4 1710.6 L1363.2 1712.1 L1363.2 1713.6 L1362.4 1715 L1360.8 1716.2Z" fill="none" stroke="#0e1213" stroke-width="0.8"/>
<path d="M1457.1 1717.5 L1454.7 1718.6 L1451.9 1719.4 L1448.8 1719.8 L1445.7 1719.8 L1442.7 1719.4 L1439.9 1718.6 L1437.4 1717.5 L1435.5 1716.1 L1434.1 1714.5 L1433.4 1712.7 L1433.4 1710.9 L1434.1 1709.2 L1435.5 1707.5 L1437.4 1706.1 L1439.9 1705 L1442.7 1704.2 L1445.7 1703.8 L1448.8 1703.8 L1451.9 1704.2 L1454.7 1705 L1457.1 1706.1 L1459.1 1707.5 L1460.4 1709.2 L1461.1 1710.9 L1461.1 1712.7 L1460.4 1714.5 L1459.1 1716.1Z M1435.5 1716.1 L1437.4 1717.5 L1439.9 1718.6 L1442.7 1719.4 L1445.7 1719.8 L1448.8 1719.8 L1451.9 1719.4 L1454.7 1718.6 L1457.1 1717.5 L1459.1 1716.1 L1460.4 1714.5 L1459.1 1713 L1457.1 1711.6 L1454.7 1710.4 L1451.9 1709.7 L1448.8 1709.3 L1445.7 1709.3 L1442.7 1709.7 L1439.9 1710.4 L1437.4 1711.6 L1435.5 1713 L1434.2 1714.5Z" fill="#1a2022" fill-rule="evenodd"/>
<path d="M1457.1 1717.5 L1454.7 1718.6 L1451.9 1719.4 L1448.8 1719.8 L1445.7 1719.8 L1442.7 1719.4 L1439.9 1718.6 L1437.4 1717.5 L1435.5 1716.1 L1434.1 1714.5 L1433.4 1712.7 L1433.4 1710.9 L1434.1 1709.2 L1435.5 1707.5 L1437.4 1706.1 L1439.9 1705 L1442.7 1704.2 L1445.7 1703.8 L1448.8 1703.8 L1451.9 1704.2 L1454.7 1705 L1457.1 1706.1 L1459.1 1707.5 L1460.4 1709.2 L1461.1 1710.9 L1461.1 1712.7 L1460.4 1714.5 L1459.1 1716.1Z" fill="none" stroke="#0e1213" stroke-width="0.8"/>
<path d="M1397.3 1752 L1395.2 1752.9 L1392.7 1753.4 L1390.1 1753.4 L1387.6 1752.9 L1385.5 1752 L1377.6 1747.5 L1376 1746.3 L1375.2 1744.8 L1375.2 1743.3 L1376 1741.9 L1377.6 1740.7 L1390.4 1733.3 L1392.5 1732.4 L1395 1731.9 L1397.6 1731.9 L1400.1 1732.4 L1402.2 1733.3 L1410.1 1737.8 L1411.6 1739 L1412.4 1740.5 L1412.4 1742 L1411.6 1743.4 L1410.1 1744.6Z M1377.6 1747.5 L1385.5 1752 L1387.6 1752.9 L1390.1 1753.4 L1392.7 1753.4 L1395.2 1752.9 L1397.3 1752 L1410.1 1744.6 L1410.9 1744 L1410.1 1743.3 L1402.2 1738.7 L1400.1 1737.8 L1397.6 1737.4 L1395 1737.4 L1392.5 1737.8 L1390.4 1738.7 L1377.6 1746.1 L1376.7 1746.8Z" fill="#1a2022" fill-rule="evenodd"/>
<path d="M1397.3 1752 L1395.2 1752.9 L1392.7 1753.4 L1390.1 1753.4 L1387.6 1752.9 L1385.5 1752 L1377.6 1747.5 L1376 1746.3 L1375.2 1744.8 L1375.2 1743.3 L1376 1741.9 L1377.6 1740.7 L1390.4 1733.3 L1392.5 1732.4 L1395 1731.9 L1397.6 1731.9 L1400.1 1732.4 L1402.2 1733.3 L1410.1 1737.8 L1411.6 1739 L1412.4 1740.5 L1412.4 1742 L1411.6 1743.4 L1410.1 1744.6Z" fill="none" stroke="#0e1213" stroke-width="0.8"/>
<path d="M1506.3 1745.9 L1503.9 1747 L1501.1 1747.8 L1498.1 1748.2 L1494.9 1748.2 L1491.9 1747.8 L1489.1 1747 L1486.7 1745.9 L1484.7 1744.5 L1483.4 1742.9 L1482.7 1741.1 L1482.7 1739.3 L1483.4 1737.6 L1484.7 1735.9 L1486.7 1734.5 L1489.1 1733.4 L1491.9 1732.6 L1494.9 1732.2 L1498.1 1732.2 L1501.1 1732.6 L1503.9 1733.4 L1506.3 1734.5 L1508.3 1735.9 L1509.6 1737.6 L1510.3 1739.3 L1510.3 1741.1 L1509.6 1742.9 L1508.3 1744.5Z M1484.7 1744.5 L1486.7 1745.9 L1489.1 1747 L1491.9 1747.8 L1494.9 1748.2 L1498.1 1748.2 L1501.1 1747.8 L1503.9 1747 L1506.3 1745.9 L1508.3 1744.5 L1509.6 1742.9 L1508.3 1741.4 L1506.3 1740 L1503.9 1738.8 L1501.1 1738.1 L1498.1 1737.7 L1494.9 1737.7 L1491.9 1738.1 L1489.1 1738.8 L1486.7 1740 L1484.7 1741.4 L1483.4 1742.9Z" fill="#1a2022" fill-rule="evenodd"/>
<path d="M1506.3 1745.9 L1503.9 1747 L1501.1 1747.8 L1498.1 1748.2 L1494.9 1748.2 L1491.9 1747.8 L1489.1 1747 L1486.7 1745.9 L1484.7 1744.5 L1483.4 1742.9 L1482.7 1741.1 L1482.7 1739.3 L1483.4 1737.6 L1484.7 1735.9 L1486.7 1734.5 L1489.1 1733.4 L1491.9 1732.6 L1494.9 1732.2 L1498.1 1732.2 L1501.1 1732.6 L1503.9 1733.4 L1506.3 1734.5 L1508.3 1735.9 L1509.6 1737.6 L1510.3 1739.3 L1510.3 1741.1 L1509.6 1742.9 L1508.3 1744.5Z" fill="none" stroke="#0e1213" stroke-width="0.8"/>
<path d="M1446.5 1780.4 L1444.4 1781.3 L1441.9 1781.8 L1439.3 1781.8 L1436.8 1781.3 L1434.7 1780.4 L1426.8 1775.9 L1425.3 1774.7 L1424.5 1773.2 L1424.5 1771.7 L1425.3 1770.3 L1426.8 1769.1 L1439.6 1761.7 L1441.7 1760.8 L1444.2 1760.3 L1446.8 1760.3 L1449.3 1760.8 L1451.4 1761.7 L1459.3 1766.2 L1460.8 1767.5 L1461.6 1768.9 L1461.6 1770.4 L1460.8 1771.8 L1459.3 1773Z M1426.8 1775.9 L1434.7 1780.4 L1436.8 1781.3 L1439.3 1781.8 L1441.9 1781.8 L1444.4 1781.3 L1446.5 1780.4 L1459.3 1773 L1460.2 1772.4 L1459.3 1771.7 L1451.4 1767.1 L1449.3 1766.2 L1446.8 1765.8 L1444.2 1765.8 L1441.7 1766.2 L1439.6 1767.1 L1426.8 1774.5 L1425.9 1775.2Z" fill="#1a2022" fill-rule="evenodd"/>
<path d="M1446.5 1780.4 L1444.4 1781.3 L1441.9 1781.8 L1439.3 1781.8 L1436.8 1781.3 L1434.7 1780.4 L1426.8 1775.9 L1425.3 1774.7 L1424.5 1773.2 L1424.5 1771.7 L1425.3 1770.3 L1426.8 1769.1 L1439.6 1761.7 L1441.7 1760.8 L1444.2 1760.3 L1446.8 1760.3 L1449.3 1760.8 L1451.4 1761.7 L1459.3 1766.2 L1460.8 1767.5 L1461.6 1768.9 L1461.6 1770.4 L1460.8 1771.8 L1459.3 1773Z" fill="none" stroke="#0e1213" stroke-width="0.8"/>
<path d="M1555.6 1774.3 L1553.1 1775.4 L1550.3 1776.2 L1547.3 1776.6 L1544.2 1776.6 L1541.1 1776.2 L1538.3 1775.4 L1535.9 1774.3 L1533.9 1772.9 L1532.6 1771.3 L1531.9 1769.5 L1531.9 1767.7 L1532.6 1766 L1533.9 1764.3 L1535.9 1762.9 L1538.3 1761.8 L1541.1 1761 L1544.2 1760.6 L1547.3 1760.6 L1550.3 1761 L1553.1 1761.8 L1555.6 1762.9 L1557.5 1764.3 L1558.9 1766 L1559.6 1767.7 L1559.6 1769.5 L1558.9 1771.3 L1557.5 1772.9Z M1533.9 1772.9 L1535.9 1774.3 L1538.3 1775.4 L1541.1 1776.2 L1544.2 1776.6 L1547.3 1776.6 L1550.3 1776.2 L1553.1 1775.4 L1555.6 1774.3 L1557.5 1772.9 L1558.8 1771.3 L1557.5 1769.8 L1555.6 1768.4 L1553.1 1767.3 L1550.3 1766.5 L1547.3 1766.1 L1544.2 1766.1 L1541.1 1766.5 L1538.3 1767.3 L1535.9 1768.4 L1533.9 1769.8 L1532.6 1771.3Z" fill="#1a2022" fill-rule="evenodd"/>
<path d="M1555.6 1774.3 L1553.1 1775.4 L1550.3 1776.2 L1547.3 1776.6 L1544.2 1776.6 L1541.1 1776.2 L1538.3 1775.4 L1535.9 1774.3 L1533.9 1772.9 L1532.6 1771.3 L1531.9 1769.5 L1531.9 1767.7 L1532.6 1766 L1533.9 1764.3 L1535.9 1762.9 L1538.3 1761.8 L1541.1 1761 L1544.2 1760.6 L1547.3 1760.6 L1550.3 1761 L1553.1 1761.8 L1555.6 1762.9 L1557.5 1764.3 L1558.9 1766 L1559.6 1767.7 L1559.6 1769.5 L1558.9 1771.3 L1557.5 1772.9Z" fill="none" stroke="#0e1213" stroke-width="0.8"/>
<path d="M1495.7 1808.8 L1493.6 1809.7 L1491.1 1810.2 L1488.5 1810.2 L1486 1809.7 L1483.9 1808.8 L1476 1804.3 L1474.5 1803.1 L1473.7 1801.6 L1473.7 1800.1 L1474.5 1798.7 L1476 1797.5 L1488.8 1790.1 L1490.9 1789.2 L1493.4 1788.7 L1496 1788.7 L1498.5 1789.2 L1500.6 1790.1 L1508.5 1794.6 L1510 1795.9 L1510.9 1797.3 L1510.9 1798.8 L1510 1800.2 L1508.5 1801.5Z M1476 1804.3 L1483.9 1808.8 L1486 1809.7 L1488.5 1810.2 L1491.1 1810.2 L1493.6 1809.7 L1495.7 1808.8 L1508.5 1801.5 L1509.4 1800.8 L1508.5 1800.1 L1500.6 1795.5 L1498.5 1794.6 L1496 1794.2 L1493.4 1794.2 L1490.9 1794.6 L1488.8 1795.5 L1476 1802.9 L1475.2 1803.6Z" fill="#1a2022" fill-rule="evenodd"/>
<path d="M1495.7 1808.8 L1493.6 1809.7 L1491.1 1810.2 L1488.5 1810.2 L1486 1809.7 L1483.9 1808.8 L1476 1804.3 L1474.5 1803.1 L1473.7 1801.6 L1473.7 1800.1 L1474.5 1798.7 L1476 1797.5 L1488.8 1790.1 L1490.9 1789.2 L1493.4 1788.7 L1496 1788.7 L1498.5 1789.2 L1500.6 1790.1 L1508.5 1794.6 L1510 1795.9 L1510.9 1797.3 L1510.9 1798.8 L1510 1800.2 L1508.5 1801.5Z" fill="none" stroke="#0e1213" stroke-width="0.8"/>
<use href="#cb" transform="translate(1299.6 1612) scale(1.045)"/>
<use href="#cb" transform="translate(1246.2 1642.8) scale(1.045)"/>
<use href="#cb" transform="translate(1496.5 1725.6) scale(1.045)"/>
<use href="#cb" transform="translate(1443 1756.4) scale(1.045)"/>
<path d="M1655 1344.3 L1655.7 1340.5 L1657.6 1336.8 L1660.7 1333.4 L1665 1330.4 L1670.2 1327.9 L1676 1326.1 L1682.5 1325 L1689.1 1324.6 L1695.8 1325 L1702.2 1326.1 L1708 1327.9 L1713.2 1330.4 L2008.5 1500.8 L2012.8 1503.8 L2015.9 1507.2 L2017.9 1510.9 L2018.5 1514.7 L2018.5 1521 L2017.9 1524.8 L2015.9 1528.5 L2012.8 1531.9 L2008.5 1534.9 L2003.4 1537.3 L1997.5 1539.2 L1991.1 1540.3 L1984.4 1540.7 L1977.8 1540.3 L1971.4 1539.2 L1965.5 1537.3 L1960.3 1534.9 L1665 1364.5 L1660.7 1361.5 L1657.6 1358.1 L1655.7 1354.4 L1655 1350.6Z M1676 1347 L1677.3 1348.6 L1679.3 1350 L1681.7 1351.1 L1684.5 1351.9 L1687.5 1352.3 L1690.7 1352.3 L1693.7 1351.9 L1696.5 1351.1 L1698.9 1350 L1700.9 1348.6 L1702.2 1347 L1702.3 1346.8 L1702.2 1346.7 L1700.9 1345 L1698.9 1343.6 L1696.5 1342.5 L1693.7 1341.7 L1690.7 1341.3 L1687.5 1341.3 L1684.5 1341.7 L1681.7 1342.5 L1679.3 1343.6 L1677.3 1345 L1676 1346.7 L1675.9 1346.8Z M1725.2 1375.4 L1726.5 1377 L1728.5 1378.4 L1730.9 1379.5 L1733.7 1380.3 L1736.8 1380.7 L1739.9 1380.7 L1742.9 1380.3 L1745.7 1379.5 L1748.2 1378.4 L1750.1 1377 L1751.5 1375.4 L1751.5 1375.2 L1751.5 1375.1 L1750.1 1373.4 L1748.2 1372 L1745.7 1370.9 L1742.9 1370.1 L1739.9 1369.7 L1736.8 1369.7 L1733.7 1370.1 L1730.9 1370.9 L1728.5 1372 L1726.5 1373.4 L1725.2 1375.1 L1725.1 1375.2Z M1774.4 1403.8 L1775.8 1405.4 L1777.7 1406.8 L1780.1 1407.9 L1782.9 1408.7 L1786 1409.1 L1789.1 1409.1 L1792.1 1408.7 L1794.9 1407.9 L1797.4 1406.8 L1799.3 1405.4 L1800.7 1403.8 L1800.7 1403.6 L1800.7 1403.5 L1799.3 1401.8 L1797.4 1400.4 L1794.9 1399.3 L1792.1 1398.5 L1789.1 1398.1 L1786 1398.1 L1782.9 1398.5 L1780.1 1399.3 L1777.7 1400.4 L1775.8 1401.8 L1774.4 1403.5 L1774.3 1403.6Z M1823.6 1432.2 L1825 1433.8 L1826.9 1435.2 L1829.4 1436.3 L1832.2 1437.1 L1835.2 1437.5 L1838.3 1437.5 L1841.4 1437.1 L1844.2 1436.3 L1846.6 1435.2 L1848.5 1433.8 L1849.9 1432.2 L1850 1432 L1849.9 1431.9 L1848.5 1430.3 L1846.6 1428.8 L1844.2 1427.7 L1841.4 1426.9 L1838.3 1426.5 L1835.2 1426.5 L1832.2 1426.9 L1829.4 1427.7 L1826.9 1428.8 L1825 1430.3 L1823.6 1431.9 L1823.6 1432Z M1872.8 1460.6 L1874.2 1462.2 L1876.1 1463.6 L1878.6 1464.7 L1881.4 1465.5 L1884.4 1465.9 L1887.5 1465.9 L1890.6 1465.5 L1893.4 1464.7 L1895.8 1463.6 L1897.8 1462.2 L1899.1 1460.6 L1899.2 1460.4 L1899.1 1460.3 L1897.8 1458.7 L1895.8 1457.2 L1893.4 1456.1 L1890.6 1455.3 L1887.5 1454.9 L1884.4 1454.9 L1881.4 1455.3 L1878.6 1456.1 L1876.1 1457.2 L1874.2 1458.7 L1872.8 1460.3 L1872.8 1460.4Z M1922.1 1489 L1923.4 1490.6 L1925.4 1492 L1927.8 1493.1 L1930.6 1493.9 L1933.6 1494.3 L1936.8 1494.3 L1939.8 1493.9 L1942.6 1493.1 L1945 1492 L1947 1490.6 L1948.3 1489 L1948.4 1488.8 L1948.3 1488.7 L1947 1487.1 L1945 1485.7 L1942.6 1484.5 L1939.8 1483.7 L1936.8 1483.3 L1933.6 1483.3 L1930.6 1483.7 L1927.8 1484.5 L1925.4 1485.7 L1923.4 1487.1 L1922.1 1488.7 L1922 1488.8Z M1971.3 1517.4 L1972.6 1519 L1974.6 1520.4 L1977 1521.5 L1979.8 1522.3 L1982.9 1522.7 L1986 1522.7 L1989 1522.3 L1991.8 1521.5 L1994.3 1520.4 L1996.2 1519 L1997.6 1517.4 L1997.6 1517.2 L1997.6 1517.1 L1996.2 1515.5 L1994.3 1514.1 L1991.8 1512.9 L1989 1512.2 L1986 1511.8 L1982.9 1511.8 L1979.8 1512.2 L1977 1512.9 L1974.6 1514.1 L1972.6 1515.5 L1971.3 1517.1 L1971.2 1517.2Z" fill="#1c2325" stroke="#14191b" stroke-width="1" fill-rule="evenodd"/>
<path d="M2008.5 1500.8 L2012.8 1503.8 L2015.9 1507.2 L2017.9 1510.9 L2018.5 1514.7 L2017.9 1518.6 L2015.9 1522.3 L2012.8 1525.7 L2008.5 1528.6 L2003.4 1531.1 L1997.5 1532.9 L1991.1 1534 L1984.4 1534.4 L1977.8 1534 L1971.4 1532.9 L1965.5 1531.1 L1960.3 1528.6 L1665 1358.2 L1660.7 1355.2 L1657.6 1351.8 L1655.6 1348.1 L1655 1344.3 L1655.6 1340.5 L1657.6 1336.8 L1660.7 1333.4 L1665 1330.4 L1670.2 1327.9 L1676 1326.1 L1682.4 1325 L1689.1 1324.6 L1695.8 1325 L1702.2 1326.1 L1708 1327.9 L1713.2 1330.4Z M1676 1347 L1677.3 1348.6 L1679.3 1350 L1681.7 1351.1 L1684.5 1351.9 L1687.5 1352.3 L1690.7 1352.3 L1693.7 1351.9 L1696.5 1351.1 L1698.9 1350 L1700.9 1348.6 L1702.2 1347 L1702.3 1346.8 L1702.2 1346.7 L1700.9 1345 L1698.9 1343.6 L1696.5 1342.5 L1693.7 1341.7 L1690.7 1341.3 L1687.5 1341.3 L1684.5 1341.7 L1681.7 1342.5 L1679.3 1343.6 L1677.3 1345 L1676 1346.7 L1675.9 1346.8Z M1725.2 1375.4 L1726.5 1377 L1728.5 1378.4 L1730.9 1379.5 L1733.7 1380.3 L1736.8 1380.7 L1739.9 1380.7 L1742.9 1380.3 L1745.7 1379.5 L1748.2 1378.4 L1750.1 1377 L1751.5 1375.4 L1751.5 1375.2 L1751.5 1375.1 L1750.1 1373.4 L1748.2 1372 L1745.7 1370.9 L1742.9 1370.1 L1739.9 1369.7 L1736.8 1369.7 L1733.7 1370.1 L1730.9 1370.9 L1728.5 1372 L1726.5 1373.4 L1725.2 1375.1 L1725.1 1375.2Z M1774.4 1403.8 L1775.8 1405.4 L1777.7 1406.8 L1780.1 1407.9 L1782.9 1408.7 L1786 1409.1 L1789.1 1409.1 L1792.1 1408.7 L1794.9 1407.9 L1797.4 1406.8 L1799.3 1405.4 L1800.7 1403.8 L1800.7 1403.6 L1800.7 1403.5 L1799.3 1401.8 L1797.4 1400.4 L1794.9 1399.3 L1792.1 1398.5 L1789.1 1398.1 L1786 1398.1 L1782.9 1398.5 L1780.1 1399.3 L1777.7 1400.4 L1775.8 1401.8 L1774.4 1403.5 L1774.3 1403.6Z M1823.6 1432.2 L1825 1433.8 L1826.9 1435.2 L1829.4 1436.3 L1832.2 1437.1 L1835.2 1437.5 L1838.3 1437.5 L1841.4 1437.1 L1844.2 1436.3 L1846.6 1435.2 L1848.5 1433.8 L1849.9 1432.2 L1850 1432 L1849.9 1431.9 L1848.5 1430.3 L1846.6 1428.8 L1844.2 1427.7 L1841.4 1426.9 L1838.3 1426.5 L1835.2 1426.5 L1832.2 1426.9 L1829.4 1427.7 L1826.9 1428.8 L1825 1430.3 L1823.6 1431.9 L1823.6 1432Z M1872.8 1460.6 L1874.2 1462.2 L1876.1 1463.6 L1878.6 1464.7 L1881.4 1465.5 L1884.4 1465.9 L1887.5 1465.9 L1890.6 1465.5 L1893.4 1464.7 L1895.8 1463.6 L1897.8 1462.2 L1899.1 1460.6 L1899.2 1460.4 L1899.1 1460.3 L1897.8 1458.7 L1895.8 1457.2 L1893.4 1456.1 L1890.6 1455.3 L1887.5 1454.9 L1884.4 1454.9 L1881.4 1455.3 L1878.6 1456.1 L1876.1 1457.2 L1874.2 1458.7 L1872.8 1460.3 L1872.8 1460.4Z M1922.1 1489 L1923.4 1490.6 L1925.4 1492 L1927.8 1493.1 L1930.6 1493.9 L1933.6 1494.3 L1936.8 1494.3 L1939.8 1493.9 L1942.6 1493.1 L1945 1492 L1947 1490.6 L1948.3 1489 L1948.4 1488.8 L1948.3 1488.7 L1947 1487.1 L1945 1485.7 L1942.6 1484.5 L1939.8 1483.7 L1936.8 1483.3 L1933.6 1483.3 L1930.6 1483.7 L1927.8 1484.5 L1925.4 1485.7 L1923.4 1487.1 L1922.1 1488.7 L1922 1488.8Z M1971.3 1517.4 L1972.6 1519 L1974.6 1520.4 L1977 1521.5 L1979.8 1522.3 L1982.9 1522.7 L1986 1522.7 L1989 1522.3 L1991.8 1521.5 L1994.3 1520.4 L1996.2 1519 L1997.6 1517.4 L1997.6 1517.2 L1997.6 1517.1 L1996.2 1515.5 L1994.3 1514.1 L1991.8 1512.9 L1989 1512.2 L1986 1511.8 L1982.9 1511.8 L1979.8 1512.2 L1977 1512.9 L1974.6 1514.1 L1972.6 1515.5 L1971.3 1517.1 L1971.2 1517.2Z" fill="#2d383b" stroke="#14191b" stroke-width="1" fill-rule="evenodd"/>
<path d="M1698.9 1350 L1696.5 1351.1 L1693.7 1351.9 L1690.7 1352.3 L1687.5 1352.3 L1684.5 1351.9 L1681.7 1351.1 L1679.3 1350 L1677.3 1348.6 L1676 1347 L1675.3 1345.2 L1675.3 1343.4 L1676 1341.6 L1677.3 1340 L1679.3 1338.6 L1681.7 1337.5 L1684.5 1336.7 L1687.5 1336.3 L1690.7 1336.3 L1693.7 1336.7 L1696.5 1337.5 L1698.9 1338.6 L1700.9 1340 L1702.2 1341.6 L1702.9 1343.4 L1702.9 1345.2 L1702.2 1347 L1700.9 1348.6Z M1676 1347 L1677.3 1348.6 L1679.3 1350 L1681.7 1351.1 L1684.5 1351.9 L1687.5 1352.3 L1690.7 1352.3 L1693.7 1351.9 L1696.5 1351.1 L1698.9 1350 L1700.9 1348.6 L1702.2 1347 L1702.3 1346.8 L1702.2 1346.7 L1700.9 1345 L1698.9 1343.6 L1696.5 1342.5 L1693.7 1341.7 L1690.7 1341.3 L1687.5 1341.3 L1684.5 1341.7 L1681.7 1342.5 L1679.3 1343.6 L1677.3 1345 L1676 1346.7 L1675.9 1346.8Z" fill="#1a2022" fill-rule="evenodd"/>
<path d="M1698.9 1350 L1696.5 1351.1 L1693.7 1351.9 L1690.7 1352.3 L1687.5 1352.3 L1684.5 1351.9 L1681.7 1351.1 L1679.3 1350 L1677.3 1348.6 L1676 1347 L1675.3 1345.2 L1675.3 1343.4 L1676 1341.6 L1677.3 1340 L1679.3 1338.6 L1681.7 1337.5 L1684.5 1336.7 L1687.5 1336.3 L1690.7 1336.3 L1693.7 1336.7 L1696.5 1337.5 L1698.9 1338.6 L1700.9 1340 L1702.2 1341.6 L1702.9 1343.4 L1702.9 1345.2 L1702.2 1347 L1700.9 1348.6Z" fill="none" stroke="#0e1213" stroke-width="0.8"/>
<path d="M1748.2 1378.4 L1745.7 1379.5 L1742.9 1380.3 L1739.9 1380.7 L1736.8 1380.7 L1733.7 1380.3 L1730.9 1379.5 L1728.5 1378.4 L1726.5 1377 L1725.2 1375.4 L1724.5 1373.6 L1724.5 1371.8 L1725.2 1370 L1726.5 1368.4 L1728.5 1367 L1730.9 1365.9 L1733.7 1365.1 L1736.8 1364.7 L1739.9 1364.7 L1742.9 1365.1 L1745.7 1365.9 L1748.2 1367 L1750.1 1368.4 L1751.5 1370 L1752.2 1371.8 L1752.2 1373.6 L1751.5 1375.4 L1750.1 1377Z M1725.2 1375.4 L1726.5 1377 L1728.5 1378.4 L1730.9 1379.5 L1733.7 1380.3 L1736.8 1380.7 L1739.9 1380.7 L1742.9 1380.3 L1745.7 1379.5 L1748.2 1378.4 L1750.1 1377 L1751.5 1375.4 L1751.5 1375.2 L1751.5 1375.1 L1750.1 1373.4 L1748.2 1372 L1745.7 1370.9 L1742.9 1370.1 L1739.9 1369.7 L1736.8 1369.7 L1733.7 1370.1 L1730.9 1370.9 L1728.5 1372 L1726.5 1373.4 L1725.2 1375.1 L1725.1 1375.2Z" fill="#1a2022" fill-rule="evenodd"/>
<path d="M1748.2 1378.4 L1745.7 1379.5 L1742.9 1380.3 L1739.9 1380.7 L1736.8 1380.7 L1733.7 1380.3 L1730.9 1379.5 L1728.5 1378.4 L1726.5 1377 L1725.2 1375.4 L1724.5 1373.6 L1724.5 1371.8 L1725.2 1370 L1726.5 1368.4 L1728.5 1367 L1730.9 1365.9 L1733.7 1365.1 L1736.8 1364.7 L1739.9 1364.7 L1742.9 1365.1 L1745.7 1365.9 L1748.2 1367 L1750.1 1368.4 L1751.5 1370 L1752.2 1371.8 L1752.2 1373.6 L1751.5 1375.4 L1750.1 1377Z" fill="none" stroke="#0e1213" stroke-width="0.8"/>
<path d="M1797.4 1406.8 L1794.9 1407.9 L1792.1 1408.7 L1789.1 1409.1 L1786 1409.1 L1782.9 1408.7 L1780.1 1407.9 L1777.7 1406.8 L1775.8 1405.4 L1774.4 1403.8 L1773.7 1402 L1773.7 1400.2 L1774.4 1398.5 L1775.8 1396.8 L1777.7 1395.4 L1780.1 1394.3 L1782.9 1393.5 L1786 1393.1 L1789.1 1393.1 L1792.1 1393.5 L1794.9 1394.3 L1797.4 1395.4 L1799.3 1396.8 L1800.7 1398.5 L1801.4 1400.2 L1801.4 1402 L1800.7 1403.8 L1799.3 1405.4Z M1774.4 1403.8 L1775.8 1405.4 L1777.7 1406.8 L1780.1 1407.9 L1782.9 1408.7 L1786 1409.1 L1789.1 1409.1 L1792.1 1408.7 L1794.9 1407.9 L1797.4 1406.8 L1799.3 1405.4 L1800.7 1403.8 L1800.7 1403.6 L1800.7 1403.5 L1799.3 1401.8 L1797.4 1400.4 L1794.9 1399.3 L1792.1 1398.5 L1789.1 1398.1 L1786 1398.1 L1782.9 1398.5 L1780.1 1399.3 L1777.7 1400.4 L1775.8 1401.8 L1774.4 1403.5 L1774.3 1403.6Z" fill="#1a2022" fill-rule="evenodd"/>
<path d="M1797.4 1406.8 L1794.9 1407.9 L1792.1 1408.7 L1789.1 1409.1 L1786 1409.1 L1782.9 1408.7 L1780.1 1407.9 L1777.7 1406.8 L1775.8 1405.4 L1774.4 1403.8 L1773.7 1402 L1773.7 1400.2 L1774.4 1398.5 L1775.8 1396.8 L1777.7 1395.4 L1780.1 1394.3 L1782.9 1393.5 L1786 1393.1 L1789.1 1393.1 L1792.1 1393.5 L1794.9 1394.3 L1797.4 1395.4 L1799.3 1396.8 L1800.7 1398.5 L1801.4 1400.2 L1801.4 1402 L1800.7 1403.8 L1799.3 1405.4Z" fill="none" stroke="#0e1213" stroke-width="0.8"/>
<path d="M1846.6 1435.2 L1844.2 1436.3 L1841.4 1437.1 L1838.3 1437.5 L1835.2 1437.5 L1832.2 1437.1 L1829.4 1436.3 L1826.9 1435.2 L1825 1433.8 L1823.6 1432.2 L1822.9 1430.4 L1822.9 1428.6 L1823.6 1426.9 L1825 1425.2 L1826.9 1423.8 L1829.4 1422.7 L1832.2 1421.9 L1835.2 1421.5 L1838.3 1421.5 L1841.4 1421.9 L1844.2 1422.7 L1846.6 1423.8 L1848.5 1425.2 L1849.9 1426.9 L1850.6 1428.6 L1850.6 1430.4 L1849.9 1432.2 L1848.5 1433.8Z M1823.6 1432.2 L1825 1433.8 L1826.9 1435.2 L1829.4 1436.3 L1832.2 1437.1 L1835.2 1437.5 L1838.3 1437.5 L1841.4 1437.1 L1844.2 1436.3 L1846.6 1435.2 L1848.5 1433.8 L1849.9 1432.2 L1850 1432 L1849.9 1431.9 L1848.5 1430.3 L1846.6 1428.8 L1844.2 1427.7 L1841.4 1426.9 L1838.3 1426.5 L1835.2 1426.5 L1832.2 1426.9 L1829.4 1427.7 L1826.9 1428.8 L1825 1430.3 L1823.6 1431.9 L1823.6 1432Z" fill="#1a2022" fill-rule="evenodd"/>
<path d="M1846.6 1435.2 L1844.2 1436.3 L1841.4 1437.1 L1838.3 1437.5 L1835.2 1437.5 L1832.2 1437.1 L1829.4 1436.3 L1826.9 1435.2 L1825 1433.8 L1823.6 1432.2 L1822.9 1430.4 L1822.9 1428.6 L1823.6 1426.9 L1825 1425.2 L1826.9 1423.8 L1829.4 1422.7 L1832.2 1421.9 L1835.2 1421.5 L1838.3 1421.5 L1841.4 1421.9 L1844.2 1422.7 L1846.6 1423.8 L1848.5 1425.2 L1849.9 1426.9 L1850.6 1428.6 L1850.6 1430.4 L1849.9 1432.2 L1848.5 1433.8Z" fill="none" stroke="#0e1213" stroke-width="0.8"/>
<path d="M1895.8 1463.6 L1893.4 1464.7 L1890.6 1465.5 L1887.5 1465.9 L1884.4 1465.9 L1881.4 1465.5 L1878.6 1464.7 L1876.1 1463.6 L1874.2 1462.2 L1872.8 1460.6 L1872.1 1458.8 L1872.1 1457 L1872.8 1455.3 L1874.2 1453.6 L1876.1 1452.2 L1878.6 1451.1 L1881.4 1450.3 L1884.4 1449.9 L1887.5 1449.9 L1890.6 1450.3 L1893.4 1451.1 L1895.8 1452.2 L1897.8 1453.6 L1899.1 1455.3 L1899.8 1457 L1899.8 1458.8 L1899.1 1460.6 L1897.8 1462.2Z M1872.8 1460.6 L1874.2 1462.2 L1876.1 1463.6 L1878.6 1464.7 L1881.4 1465.5 L1884.4 1465.9 L1887.5 1465.9 L1890.6 1465.5 L1893.4 1464.7 L1895.8 1463.6 L1897.8 1462.2 L1899.1 1460.6 L1899.2 1460.4 L1899.1 1460.3 L1897.8 1458.7 L1895.8 1457.2 L1893.4 1456.1 L1890.6 1455.3 L1887.5 1454.9 L1884.4 1454.9 L1881.4 1455.3 L1878.6 1456.1 L1876.1 1457.2 L1874.2 1458.7 L1872.8 1460.3 L1872.8 1460.4Z" fill="#1a2022" fill-rule="evenodd"/>
<path d="M1895.8 1463.6 L1893.4 1464.7 L1890.6 1465.5 L1887.5 1465.9 L1884.4 1465.9 L1881.4 1465.5 L1878.6 1464.7 L1876.1 1463.6 L1874.2 1462.2 L1872.8 1460.6 L1872.1 1458.8 L1872.1 1457 L1872.8 1455.3 L1874.2 1453.6 L1876.1 1452.2 L1878.6 1451.1 L1881.4 1450.3 L1884.4 1449.9 L1887.5 1449.9 L1890.6 1450.3 L1893.4 1451.1 L1895.8 1452.2 L1897.8 1453.6 L1899.1 1455.3 L1899.8 1457 L1899.8 1458.8 L1899.1 1460.6 L1897.8 1462.2Z" fill="none" stroke="#0e1213" stroke-width="0.8"/>
<path d="M1945 1492 L1942.6 1493.1 L1939.8 1493.9 L1936.8 1494.3 L1933.6 1494.3 L1930.6 1493.9 L1927.8 1493.1 L1925.4 1492 L1923.4 1490.6 L1922.1 1489 L1921.4 1487.2 L1921.4 1485.4 L1922.1 1483.7 L1923.4 1482 L1925.4 1480.6 L1927.8 1479.5 L1930.6 1478.7 L1933.6 1478.3 L1936.8 1478.3 L1939.8 1478.7 L1942.6 1479.5 L1945 1480.6 L1947 1482 L1948.3 1483.7 L1949 1485.4 L1949 1487.2 L1948.3 1489 L1947 1490.6Z M1922.1 1489 L1923.4 1490.6 L1925.4 1492 L1927.8 1493.1 L1930.6 1493.9 L1933.6 1494.3 L1936.8 1494.3 L1939.8 1493.9 L1942.6 1493.1 L1945 1492 L1947 1490.6 L1948.3 1489 L1948.4 1488.8 L1948.3 1488.7 L1947 1487.1 L1945 1485.7 L1942.6 1484.5 L1939.8 1483.7 L1936.8 1483.3 L1933.6 1483.3 L1930.6 1483.7 L1927.8 1484.5 L1925.4 1485.7 L1923.4 1487.1 L1922.1 1488.7 L1922 1488.8Z" fill="#1a2022" fill-rule="evenodd"/>
<path d="M1945 1492 L1942.6 1493.1 L1939.8 1493.9 L1936.8 1494.3 L1933.6 1494.3 L1930.6 1493.9 L1927.8 1493.1 L1925.4 1492 L1923.4 1490.6 L1922.1 1489 L1921.4 1487.2 L1921.4 1485.4 L1922.1 1483.7 L1923.4 1482 L1925.4 1480.6 L1927.8 1479.5 L1930.6 1478.7 L1933.6 1478.3 L1936.8 1478.3 L1939.8 1478.7 L1942.6 1479.5 L1945 1480.6 L1947 1482 L1948.3 1483.7 L1949 1485.4 L1949 1487.2 L1948.3 1489 L1947 1490.6Z" fill="none" stroke="#0e1213" stroke-width="0.8"/>
<path d="M1994.3 1520.4 L1991.8 1521.5 L1989 1522.3 L1986 1522.7 L1982.9 1522.7 L1979.8 1522.3 L1977 1521.5 L1974.6 1520.4 L1972.6 1519 L1971.3 1517.4 L1970.6 1515.6 L1970.6 1513.8 L1971.3 1512.1 L1972.6 1510.4 L1974.6 1509 L1977 1507.9 L1979.8 1507.1 L1982.9 1506.7 L1986 1506.7 L1989 1507.1 L1991.8 1507.9 L1994.3 1509 L1996.2 1510.4 L1997.6 1512.1 L1998.3 1513.8 L1998.3 1515.6 L1997.6 1517.4 L1996.2 1519Z M1971.3 1517.4 L1972.6 1519 L1974.6 1520.4 L1977 1521.5 L1979.8 1522.3 L1982.9 1522.7 L1986 1522.7 L1989 1522.3 L1991.8 1521.5 L1994.3 1520.4 L1996.2 1519 L1997.6 1517.4 L1997.6 1517.2 L1997.6 1517.1 L1996.2 1515.5 L1994.3 1514.1 L1991.8 1512.9 L1989 1512.2 L1986 1511.8 L1982.9 1511.8 L1979.8 1512.2 L1977 1512.9 L1974.6 1514.1 L1972.6 1515.5 L1971.3 1517.1 L1971.2 1517.2Z" fill="#1a2022" fill-rule="evenodd"/>
<path d="M1994.3 1520.4 L1991.8 1521.5 L1989 1522.3 L1986 1522.7 L1982.9 1522.7 L1979.8 1522.3 L1977 1521.5 L1974.6 1520.4 L1972.6 1519 L1971.3 1517.4 L1970.6 1515.6 L1970.6 1513.8 L1971.3 1512.1 L1972.6 1510.4 L1974.6 1509 L1977 1507.9 L1979.8 1507.1 L1982.9 1506.7 L1986 1506.7 L1989 1507.1 L1991.8 1507.9 L1994.3 1509 L1996.2 1510.4 L1997.6 1512.1 L1998.3 1513.8 L1998.3 1515.6 L1997.6 1517.4 L1996.2 1519Z" fill="none" stroke="#0e1213" stroke-width="0.8"/>
<use href="#cb" transform="translate(1738.3 1358.1) scale(1.045)"/>
<use href="#cb" transform="translate(1935.2 1471.7) scale(1.045)"/>
<path d="M2089.6 1086.4 L2090.9 1084.5 L2093.5 1082.6 L2179.8 1032.8 L2183.1 1031.3 L2186.4 1030.5 L2189.6 1030.5 L2192.9 1031.3 L2196.2 1032.8 L2524.4 1222.2 L2527 1224.1 L2528.3 1226 L2528.3 1234.7 L2527 1236.5 L2524.4 1238.4 L2438 1288.3 L2434.8 1289.8 L2431.5 1290.5 L2428.2 1290.5 L2425 1289.8 L2421.7 1288.3 L2093.5 1098.8 L2090.9 1097 L2089.6 1095.1Z M2176.2 1060.8 L2178.2 1062.2 L2180.6 1063.3 L2183.4 1064.1 L2186.4 1064.5 L2189.6 1064.5 L2192.6 1064.1 L2195.4 1063.3 L2197.8 1062.2 L2199.8 1060.8 L2201.1 1059.2 L2199.8 1057.7 L2197.8 1056.3 L2195.4 1055.1 L2192.6 1054.4 L2189.6 1054 L2186.4 1054 L2183.4 1054.4 L2180.6 1055.1 L2178.2 1056.3 L2176.2 1057.7 L2174.9 1059.2Z M2118.3 1092.2 L2126.2 1096.7 L2128.3 1097.6 L2130.8 1098.1 L2133.4 1098.1 L2135.9 1097.6 L2138 1096.7 L2150.8 1089.3 L2151.7 1088.6 L2150.8 1088 L2142.9 1083.4 L2140.8 1082.5 L2138.3 1082.1 L2135.7 1082.1 L2133.2 1082.5 L2131.1 1083.4 L2118.3 1090.8 L2117.4 1091.5Z M2225.4 1089.2 L2227.4 1090.6 L2229.8 1091.7 L2232.6 1092.5 L2235.7 1092.9 L2238.8 1092.9 L2241.8 1092.5 L2244.6 1091.7 L2247.1 1090.6 L2249 1089.2 L2250.3 1087.6 L2249 1086.1 L2247.1 1084.7 L2244.6 1083.5 L2241.8 1082.8 L2238.8 1082.4 L2235.7 1082.4 L2232.6 1082.8 L2229.8 1083.5 L2227.4 1084.7 L2225.4 1086.1 L2224.1 1087.6Z M2167.5 1120.6 L2175.4 1125.1 L2177.5 1126 L2180 1126.5 L2182.6 1126.5 L2185.1 1126 L2187.2 1125.1 L2200 1117.7 L2200.9 1117 L2200 1116.4 L2192.1 1111.8 L2190 1110.9 L2187.5 1110.5 L2184.9 1110.5 L2182.4 1110.9 L2180.3 1111.8 L2167.5 1119.2 L2166.7 1119.9Z M2274.7 1117.6 L2276.6 1119 L2279 1120.1 L2281.8 1120.9 L2284.9 1121.3 L2288 1121.3 L2291 1120.9 L2293.8 1120.1 L2296.3 1119 L2298.2 1117.6 L2299.5 1116 L2298.2 1114.5 L2296.3 1113.1 L2293.8 1111.9 L2291 1111.2 L2288 1110.8 L2284.9 1110.8 L2281.8 1111.2 L2279 1111.9 L2276.6 1113.1 L2274.7 1114.5 L2273.4 1116Z M2216.7 1149 L2224.6 1153.5 L2226.7 1154.4 L2229.2 1154.9 L2231.8 1154.9 L2234.3 1154.4 L2236.4 1153.5 L2249.2 1146.1 L2250.1 1145.4 L2249.2 1144.8 L2241.4 1140.2 L2239.2 1139.3 L2236.8 1138.9 L2234.1 1138.9 L2231.7 1139.3 L2229.5 1140.2 L2216.7 1147.6 L2215.9 1148.3Z M2323.9 1146 L2325.8 1147.4 L2328.3 1148.5 L2331.1 1149.3 L2334.1 1149.7 L2337.2 1149.7 L2340.3 1149.3 L2343.1 1148.5 L2345.5 1147.4 L2347.4 1146 L2348.7 1144.4 L2347.4 1142.9 L2345.5 1141.5 L2343.1 1140.3 L2340.3 1139.6 L2337.2 1139.2 L2334.1 1139.2 L2331.1 1139.6 L2328.3 1140.3 L2325.8 1141.5 L2323.9 1142.9 L2322.6 1144.4Z M2266 1177.4 L2273.8 1181.9 L2276 1182.8 L2278.4 1183.3 L2281.1 1183.3 L2283.5 1182.8 L2285.7 1181.9 L2298.4 1174.5 L2299.3 1173.9 L2298.4 1173.2 L2290.6 1168.6 L2288.5 1167.7 L2286 1167.3 L2283.4 1167.3 L2280.9 1167.7 L2278.8 1168.6 L2266 1176 L2265.1 1176.7Z M2373.1 1174.4 L2375 1175.8 L2377.5 1176.9 L2380.3 1177.7 L2383.3 1178.1 L2386.4 1178.1 L2389.5 1177.7 L2392.3 1176.9 L2394.7 1175.8 L2396.7 1174.4 L2398 1172.8 L2396.7 1171.3 L2394.7 1169.9 L2392.3 1168.7 L2389.5 1168 L2386.4 1167.6 L2383.3 1167.6 L2380.3 1168 L2377.5 1168.7 L2375 1169.9 L2373.1 1171.3 L2371.8 1172.8Z M2315.2 1205.8 L2323.1 1210.3 L2325.2 1211.2 L2327.7 1211.7 L2330.3 1211.7 L2332.8 1211.2 L2334.9 1210.3 L2347.7 1202.9 L2348.5 1202.3 L2347.7 1201.6 L2339.8 1197 L2337.7 1196.1 L2335.2 1195.7 L2332.6 1195.7 L2330.1 1196.1 L2328 1197 L2315.2 1204.4 L2314.3 1205.1Z M2422.3 1202.8 L2424.3 1204.2 L2426.7 1205.3 L2429.5 1206.1 L2432.5 1206.5 L2435.7 1206.5 L2438.7 1206.1 L2441.5 1205.3 L2443.9 1204.2 L2445.9 1202.8 L2447.2 1201.2 L2445.9 1199.7 L2443.9 1198.3 L2441.5 1197.1 L2438.7 1196.4 L2435.7 1196 L2432.5 1196 L2429.5 1196.4 L2426.7 1197.1 L2424.3 1198.3 L2422.3 1199.7 L2421 1201.2Z M2364.4 1234.2 L2372.3 1238.7 L2374.4 1239.6 L2376.9 1240.1 L2379.5 1240.1 L2382 1239.6 L2384.1 1238.7 L2396.9 1231.3 L2397.8 1230.7 L2396.9 1230 L2389 1225.4 L2386.9 1224.5 L2384.4 1224.1 L2381.8 1224.1 L2379.3 1224.5 L2377.2 1225.4 L2364.4 1232.8 L2363.5 1233.5Z M2471.5 1231.2 L2473.5 1232.6 L2475.9 1233.7 L2478.7 1234.5 L2481.8 1234.9 L2484.9 1234.9 L2487.9 1234.5 L2490.7 1233.7 L2493.2 1232.6 L2495.1 1231.2 L2496.4 1229.6 L2495.1 1228.1 L2493.2 1226.7 L2490.7 1225.6 L2487.9 1224.8 L2484.9 1224.4 L2481.8 1224.4 L2478.7 1224.8 L2475.9 1225.6 L2473.5 1226.7 L2471.5 1228.1 L2470.2 1229.6Z M2413.6 1262.6 L2421.5 1267.1 L2423.6 1268 L2426.1 1268.5 L2428.7 1268.5 L2431.2 1268 L2433.3 1267.1 L2446.1 1259.8 L2447 1259.1 L2446.1 1258.4 L2438.2 1253.8 L2436.1 1252.9 L2433.6 1252.5 L2431 1252.5 L2428.5 1252.9 L2426.4 1253.8 L2413.6 1261.2 L2412.8 1261.9Z" fill="#1c2325" stroke="#14191b" stroke-width="1" fill-rule="evenodd"/>
<path d="M2179.9 1032.8 L2183.1 1031.3 L2186.4 1030.5 L2189.6 1030.5 L2192.9 1031.3 L2196.1 1032.8 L2524.4 1222.2 L2527 1224.1 L2528.3 1226 L2528.3 1227.9 L2527 1229.7 L2524.4 1231.6 L2438 1281.5 L2434.8 1283 L2431.5 1283.7 L2428.2 1283.7 L2425 1283 L2421.7 1281.5 L2093.5 1092 L2090.9 1090.2 L2089.6 1088.3 L2089.6 1086.4 L2090.9 1084.5 L2093.5 1082.6Z M2176.2 1060.8 L2178.2 1062.2 L2180.6 1063.3 L2183.4 1064.1 L2186.4 1064.5 L2189.6 1064.5 L2192.6 1064.1 L2195.4 1063.3 L2197.8 1062.2 L2199.8 1060.8 L2201.1 1059.2 L2199.8 1057.7 L2197.8 1056.3 L2195.4 1055.1 L2192.6 1054.4 L2189.6 1054 L2186.4 1054 L2183.4 1054.4 L2180.6 1055.1 L2178.2 1056.3 L2176.2 1057.7 L2174.9 1059.2Z M2118.3 1092.2 L2126.2 1096.7 L2128.3 1097.6 L2130.8 1098.1 L2133.4 1098.1 L2135.9 1097.6 L2138 1096.7 L2150.8 1089.3 L2151.7 1088.6 L2150.8 1088 L2142.9 1083.4 L2140.8 1082.5 L2138.3 1082.1 L2135.7 1082.1 L2133.2 1082.5 L2131.1 1083.4 L2118.3 1090.8 L2117.4 1091.5Z M2225.4 1089.2 L2227.4 1090.6 L2229.8 1091.7 L2232.6 1092.5 L2235.7 1092.9 L2238.8 1092.9 L2241.8 1092.5 L2244.6 1091.7 L2247.1 1090.6 L2249 1089.2 L2250.3 1087.6 L2249 1086.1 L2247.1 1084.7 L2244.6 1083.5 L2241.8 1082.8 L2238.8 1082.4 L2235.7 1082.4 L2232.6 1082.8 L2229.8 1083.5 L2227.4 1084.7 L2225.4 1086.1 L2224.1 1087.6Z M2167.5 1120.6 L2175.4 1125.1 L2177.5 1126 L2180 1126.5 L2182.6 1126.5 L2185.1 1126 L2187.2 1125.1 L2200 1117.7 L2200.9 1117 L2200 1116.4 L2192.1 1111.8 L2190 1110.9 L2187.5 1110.5 L2184.9 1110.5 L2182.4 1110.9 L2180.3 1111.8 L2167.5 1119.2 L2166.7 1119.9Z M2274.7 1117.6 L2276.6 1119 L2279 1120.1 L2281.8 1120.9 L2284.9 1121.3 L2288 1121.3 L2291 1120.9 L2293.8 1120.1 L2296.3 1119 L2298.2 1117.6 L2299.5 1116 L2298.2 1114.5 L2296.3 1113.1 L2293.8 1111.9 L2291 1111.2 L2288 1110.8 L2284.9 1110.8 L2281.8 1111.2 L2279 1111.9 L2276.6 1113.1 L2274.7 1114.5 L2273.4 1116Z M2216.7 1149 L2224.6 1153.5 L2226.7 1154.4 L2229.2 1154.9 L2231.8 1154.9 L2234.3 1154.4 L2236.4 1153.5 L2249.2 1146.1 L2250.1 1145.4 L2249.2 1144.8 L2241.4 1140.2 L2239.2 1139.3 L2236.8 1138.9 L2234.1 1138.9 L2231.7 1139.3 L2229.5 1140.2 L2216.7 1147.6 L2215.9 1148.3Z M2323.9 1146 L2325.8 1147.4 L2328.3 1148.5 L2331.1 1149.3 L2334.1 1149.7 L2337.2 1149.7 L2340.3 1149.3 L2343.1 1148.5 L2345.5 1147.4 L2347.4 1146 L2348.7 1144.4 L2347.4 1142.9 L2345.5 1141.5 L2343.1 1140.3 L2340.3 1139.6 L2337.2 1139.2 L2334.1 1139.2 L2331.1 1139.6 L2328.3 1140.3 L2325.8 1141.5 L2323.9 1142.9 L2322.6 1144.4Z M2266 1177.4 L2273.8 1181.9 L2276 1182.8 L2278.4 1183.3 L2281.1 1183.3 L2283.5 1182.8 L2285.7 1181.9 L2298.4 1174.5 L2299.3 1173.9 L2298.4 1173.2 L2290.6 1168.6 L2288.5 1167.7 L2286 1167.3 L2283.4 1167.3 L2280.9 1167.7 L2278.8 1168.6 L2266 1176 L2265.1 1176.7Z M2373.1 1174.4 L2375 1175.8 L2377.5 1176.9 L2380.3 1177.7 L2383.3 1178.1 L2386.4 1178.1 L2389.5 1177.7 L2392.3 1176.9 L2394.7 1175.8 L2396.7 1174.4 L2398 1172.8 L2396.7 1171.3 L2394.7 1169.9 L2392.3 1168.7 L2389.5 1168 L2386.4 1167.6 L2383.3 1167.6 L2380.3 1168 L2377.5 1168.7 L2375 1169.9 L2373.1 1171.3 L2371.8 1172.8Z M2315.2 1205.8 L2323.1 1210.3 L2325.2 1211.2 L2327.7 1211.7 L2330.3 1211.7 L2332.8 1211.2 L2334.9 1210.3 L2347.7 1202.9 L2348.5 1202.3 L2347.7 1201.6 L2339.8 1197 L2337.7 1196.1 L2335.2 1195.7 L2332.6 1195.7 L2330.1 1196.1 L2328 1197 L2315.2 1204.4 L2314.3 1205.1Z M2422.3 1202.8 L2424.3 1204.2 L2426.7 1205.3 L2429.5 1206.1 L2432.5 1206.5 L2435.7 1206.5 L2438.7 1206.1 L2441.5 1205.3 L2443.9 1204.2 L2445.9 1202.8 L2447.2 1201.2 L2445.9 1199.7 L2443.9 1198.3 L2441.5 1197.1 L2438.7 1196.4 L2435.7 1196 L2432.5 1196 L2429.5 1196.4 L2426.7 1197.1 L2424.3 1198.3 L2422.3 1199.7 L2421 1201.2Z M2364.4 1234.2 L2372.3 1238.7 L2374.4 1239.6 L2376.9 1240.1 L2379.5 1240.1 L2382 1239.6 L2384.1 1238.7 L2396.9 1231.3 L2397.8 1230.7 L2396.9 1230 L2389 1225.4 L2386.9 1224.5 L2384.4 1224.1 L2381.8 1224.1 L2379.3 1224.5 L2377.2 1225.4 L2364.4 1232.8 L2363.5 1233.5Z M2471.5 1231.2 L2473.5 1232.6 L2475.9 1233.7 L2478.7 1234.5 L2481.8 1234.9 L2484.9 1234.9 L2487.9 1234.5 L2490.7 1233.7 L2493.2 1232.6 L2495.1 1231.2 L2496.4 1229.6 L2495.1 1228.1 L2493.2 1226.7 L2490.7 1225.6 L2487.9 1224.8 L2484.9 1224.4 L2481.8 1224.4 L2478.7 1224.8 L2475.9 1225.6 L2473.5 1226.7 L2471.5 1228.1 L2470.2 1229.6Z M2413.6 1262.6 L2421.5 1267.1 L2423.6 1268 L2426.1 1268.5 L2428.7 1268.5 L2431.2 1268 L2433.3 1267.1 L2446.1 1259.8 L2447 1259.1 L2446.1 1258.4 L2438.2 1253.8 L2436.1 1252.9 L2433.6 1252.5 L2431 1252.5 L2428.5 1252.9 L2426.4 1253.8 L2413.6 1261.2 L2412.8 1261.9Z" fill="#2d383b" stroke="#14191b" stroke-width="1" fill-rule="evenodd"/>
<path d="M2197.8 1062.2 L2195.4 1063.3 L2192.6 1064.1 L2189.6 1064.5 L2186.4 1064.5 L2183.4 1064.1 L2180.6 1063.3 L2178.2 1062.2 L2176.2 1060.8 L2174.9 1059.2 L2174.2 1057.4 L2174.2 1055.6 L2174.9 1053.8 L2176.2 1052.2 L2178.2 1050.8 L2180.6 1049.7 L2183.4 1048.9 L2186.4 1048.5 L2189.6 1048.5 L2192.6 1048.9 L2195.4 1049.7 L2197.8 1050.8 L2199.8 1052.2 L2201.1 1053.8 L2201.8 1055.6 L2201.8 1057.4 L2201.1 1059.2 L2199.8 1060.8Z M2176.2 1060.8 L2178.2 1062.2 L2180.6 1063.3 L2183.4 1064.1 L2186.4 1064.5 L2189.6 1064.5 L2192.6 1064.1 L2195.4 1063.3 L2197.8 1062.2 L2199.8 1060.8 L2201.1 1059.2 L2199.8 1057.7 L2197.8 1056.3 L2195.4 1055.1 L2192.6 1054.4 L2189.6 1054 L2186.4 1054 L2183.4 1054.4 L2180.6 1055.1 L2178.2 1056.3 L2176.2 1057.7 L2174.9 1059.2Z" fill="#1a2022" fill-rule="evenodd"/>
<path d="M2197.8 1062.2 L2195.4 1063.3 L2192.6 1064.1 L2189.6 1064.5 L2186.4 1064.5 L2183.4 1064.1 L2180.6 1063.3 L2178.2 1062.2 L2176.2 1060.8 L2174.9 1059.2 L2174.2 1057.4 L2174.2 1055.6 L2174.9 1053.8 L2176.2 1052.2 L2178.2 1050.8 L2180.6 1049.7 L2183.4 1048.9 L2186.4 1048.5 L2189.6 1048.5 L2192.6 1048.9 L2195.4 1049.7 L2197.8 1050.8 L2199.8 1052.2 L2201.1 1053.8 L2201.8 1055.6 L2201.8 1057.4 L2201.1 1059.2 L2199.8 1060.8Z" fill="none" stroke="#0e1213" stroke-width="0.8"/>
<path d="M2138 1096.7 L2135.9 1097.6 L2133.4 1098.1 L2130.8 1098.1 L2128.3 1097.6 L2126.2 1096.7 L2118.3 1092.2 L2116.8 1091 L2116 1089.5 L2116 1088 L2116.8 1086.6 L2118.3 1085.4 L2131.1 1078 L2133.2 1077.1 L2135.7 1076.6 L2138.3 1076.6 L2140.8 1077.1 L2142.9 1078 L2150.8 1082.5 L2152.3 1083.7 L2153.1 1085.2 L2153.1 1086.7 L2152.3 1088.1 L2150.8 1089.3Z M2118.3 1092.2 L2126.2 1096.7 L2128.3 1097.6 L2130.8 1098.1 L2133.4 1098.1 L2135.9 1097.6 L2138 1096.7 L2150.8 1089.3 L2151.7 1088.6 L2150.8 1088 L2142.9 1083.4 L2140.8 1082.5 L2138.3 1082.1 L2135.7 1082.1 L2133.2 1082.5 L2131.1 1083.4 L2118.3 1090.8 L2117.4 1091.5Z" fill="#1a2022" fill-rule="evenodd"/>
<path d="M2138 1096.7 L2135.9 1097.6 L2133.4 1098.1 L2130.8 1098.1 L2128.3 1097.6 L2126.2 1096.7 L2118.3 1092.2 L2116.8 1091 L2116 1089.5 L2116 1088 L2116.8 1086.6 L2118.3 1085.4 L2131.1 1078 L2133.2 1077.1 L2135.7 1076.6 L2138.3 1076.6 L2140.8 1077.1 L2142.9 1078 L2150.8 1082.5 L2152.3 1083.7 L2153.1 1085.2 L2153.1 1086.7 L2152.3 1088.1 L2150.8 1089.3Z" fill="none" stroke="#0e1213" stroke-width="0.8"/>
<path d="M2247.1 1090.6 L2244.6 1091.7 L2241.8 1092.5 L2238.8 1092.9 L2235.7 1092.9 L2232.6 1092.5 L2229.8 1091.7 L2227.4 1090.6 L2225.4 1089.2 L2224.1 1087.6 L2223.4 1085.8 L2223.4 1084 L2224.1 1082.2 L2225.4 1080.6 L2227.4 1079.2 L2229.8 1078.1 L2232.6 1077.3 L2235.7 1076.9 L2238.8 1076.9 L2241.8 1077.3 L2244.6 1078.1 L2247.1 1079.2 L2249 1080.6 L2250.4 1082.2 L2251.1 1084 L2251.1 1085.8 L2250.4 1087.6 L2249 1089.2Z M2225.4 1089.2 L2227.4 1090.6 L2229.8 1091.7 L2232.6 1092.5 L2235.7 1092.9 L2238.8 1092.9 L2241.8 1092.5 L2244.6 1091.7 L2247.1 1090.6 L2249 1089.2 L2250.3 1087.6 L2249 1086.1 L2247.1 1084.7 L2244.6 1083.5 L2241.8 1082.8 L2238.8 1082.4 L2235.7 1082.4 L2232.6 1082.8 L2229.8 1083.5 L2227.4 1084.7 L2225.4 1086.1 L2224.1 1087.6Z" fill="#1a2022" fill-rule="evenodd"/>
<path d="M2247.1 1090.6 L2244.6 1091.7 L2241.8 1092.5 L2238.8 1092.9 L2235.7 1092.9 L2232.6 1092.5 L2229.8 1091.7 L2227.4 1090.6 L2225.4 1089.2 L2224.1 1087.6 L2223.4 1085.8 L2223.4 1084 L2224.1 1082.2 L2225.4 1080.6 L2227.4 1079.2 L2229.8 1078.1 L2232.6 1077.3 L2235.7 1076.9 L2238.8 1076.9 L2241.8 1077.3 L2244.6 1078.1 L2247.1 1079.2 L2249 1080.6 L2250.4 1082.2 L2251.1 1084 L2251.1 1085.8 L2250.4 1087.6 L2249 1089.2Z" fill="none" stroke="#0e1213" stroke-width="0.8"/>
<path d="M2187.2 1125.1 L2185.1 1126 L2182.6 1126.5 L2180 1126.5 L2177.5 1126 L2175.4 1125.1 L2167.5 1120.6 L2166 1119.4 L2165.2 1117.9 L2165.2 1116.4 L2166 1115 L2167.5 1113.8 L2180.3 1106.4 L2182.4 1105.5 L2184.9 1105 L2187.5 1105 L2190 1105.5 L2192.1 1106.4 L2200 1110.9 L2201.5 1112.1 L2202.4 1113.6 L2202.4 1115.1 L2201.5 1116.5 L2200 1117.7Z M2167.5 1120.6 L2175.4 1125.1 L2177.5 1126 L2180 1126.5 L2182.6 1126.5 L2185.1 1126 L2187.2 1125.1 L2200 1117.7 L2200.9 1117 L2200 1116.4 L2192.1 1111.8 L2190 1110.9 L2187.5 1110.5 L2184.9 1110.5 L2182.4 1110.9 L2180.3 1111.8 L2167.5 1119.2 L2166.7 1119.9Z" fill="#1a2022" fill-rule="evenodd"/>
<path d="M2187.2 1125.1 L2185.1 1126 L2182.6 1126.5 L2180 1126.5 L2177.5 1126 L2175.4 1125.1 L2167.5 1120.6 L2166 1119.4 L2165.2 1117.9 L2165.2 1116.4 L2166 1115 L2167.5 1113.8 L2180.3 1106.4 L2182.4 1105.5 L2184.9 1105 L2187.5 1105 L2190 1105.5 L2192.1 1106.4 L2200 1110.9 L2201.5 1112.1 L2202.4 1113.6 L2202.4 1115.1 L2201.5 1116.5 L2200 1117.7Z" fill="none" stroke="#0e1213" stroke-width="0.8"/>
<path d="M2296.3 1119 L2293.8 1120.1 L2291 1120.9 L2288 1121.3 L2284.9 1121.3 L2281.8 1120.9 L2279 1120.1 L2276.6 1119 L2274.7 1117.6 L2273.3 1116 L2272.6 1114.2 L2272.6 1112.4 L2273.3 1110.7 L2274.7 1109 L2276.6 1107.6 L2279 1106.5 L2281.8 1105.7 L2284.9 1105.3 L2288 1105.3 L2291 1105.7 L2293.8 1106.5 L2296.3 1107.6 L2298.2 1109 L2299.6 1110.7 L2300.3 1112.4 L2300.3 1114.2 L2299.6 1116 L2298.2 1117.6Z M2274.7 1117.6 L2276.6 1119 L2279 1120.1 L2281.8 1120.9 L2284.9 1121.3 L2288 1121.3 L2291 1120.9 L2293.8 1120.1 L2296.3 1119 L2298.2 1117.6 L2299.5 1116 L2298.2 1114.5 L2296.3 1113.1 L2293.8 1111.9 L2291 1111.2 L2288 1110.8 L2284.9 1110.8 L2281.8 1111.2 L2279 1111.9 L2276.6 1113.1 L2274.7 1114.5 L2273.4 1116Z" fill="#1a2022" fill-rule="evenodd"/>
<path d="M2296.3 1119 L2293.8 1120.1 L2291 1120.9 L2288 1121.3 L2284.9 1121.3 L2281.8 1120.9 L2279 1120.1 L2276.6 1119 L2274.7 1117.6 L2273.3 1116 L2272.6 1114.2 L2272.6 1112.4 L2273.3 1110.7 L2274.7 1109 L2276.6 1107.6 L2279 1106.5 L2281.8 1105.7 L2284.9 1105.3 L2288 1105.3 L2291 1105.7 L2293.8 1106.5 L2296.3 1107.6 L2298.2 1109 L2299.6 1110.7 L2300.3 1112.4 L2300.3 1114.2 L2299.6 1116 L2298.2 1117.6Z" fill="none" stroke="#0e1213" stroke-width="0.8"/>
<path d="M2236.4 1153.5 L2234.3 1154.4 L2231.8 1154.9 L2229.2 1154.9 L2226.7 1154.4 L2224.6 1153.5 L2216.7 1149 L2215.2 1147.8 L2214.4 1146.3 L2214.4 1144.8 L2215.2 1143.4 L2216.7 1142.2 L2229.5 1134.8 L2231.7 1133.9 L2234.1 1133.4 L2236.8 1133.4 L2239.2 1133.9 L2241.4 1134.8 L2249.2 1139.3 L2250.8 1140.5 L2251.6 1142 L2251.6 1143.5 L2250.8 1144.9 L2249.2 1146.1Z M2216.7 1149 L2224.6 1153.5 L2226.7 1154.4 L2229.2 1154.9 L2231.8 1154.9 L2234.3 1154.4 L2236.4 1153.5 L2249.2 1146.1 L2250.1 1145.4 L2249.2 1144.8 L2241.4 1140.2 L2239.2 1139.3 L2236.8 1138.9 L2234.1 1138.9 L2231.7 1139.3 L2229.5 1140.2 L2216.7 1147.6 L2215.9 1148.3Z" fill="#1a2022" fill-rule="evenodd"/>
<path d="M2236.4 1153.5 L2234.3 1154.4 L2231.8 1154.9 L2229.2 1154.9 L2226.7 1154.4 L2224.6 1153.5 L2216.7 1149 L2215.2 1147.8 L2214.4 1146.3 L2214.4 1144.8 L2215.2 1143.4 L2216.7 1142.2 L2229.5 1134.8 L2231.7 1133.9 L2234.1 1133.4 L2236.8 1133.4 L2239.2 1133.9 L2241.4 1134.8 L2249.2 1139.3 L2250.8 1140.5 L2251.6 1142 L2251.6 1143.5 L2250.8 1144.9 L2249.2 1146.1Z" fill="none" stroke="#0e1213" stroke-width="0.8"/>
<path d="M2345.5 1147.4 L2343.1 1148.5 L2340.3 1149.3 L2337.2 1149.7 L2334.1 1149.7 L2331.1 1149.3 L2328.3 1148.5 L2325.8 1147.4 L2323.9 1146 L2322.5 1144.4 L2321.8 1142.6 L2321.8 1140.8 L2322.5 1139.1 L2323.9 1137.4 L2325.8 1136 L2328.3 1134.9 L2331.1 1134.1 L2334.1 1133.7 L2337.2 1133.7 L2340.3 1134.1 L2343.1 1134.9 L2345.5 1136 L2347.4 1137.4 L2348.8 1139.1 L2349.5 1140.8 L2349.5 1142.6 L2348.8 1144.4 L2347.4 1146Z M2323.9 1146 L2325.8 1147.4 L2328.3 1148.5 L2331.1 1149.3 L2334.1 1149.7 L2337.2 1149.7 L2340.3 1149.3 L2343.1 1148.5 L2345.5 1147.4 L2347.4 1146 L2348.7 1144.4 L2347.4 1142.9 L2345.5 1141.5 L2343.1 1140.3 L2340.3 1139.6 L2337.2 1139.2 L2334.1 1139.2 L2331.1 1139.6 L2328.3 1140.3 L2325.8 1141.5 L2323.9 1142.9 L2322.6 1144.4Z" fill="#1a2022" fill-rule="evenodd"/>
<path d="M2345.5 1147.4 L2343.1 1148.5 L2340.3 1149.3 L2337.2 1149.7 L2334.1 1149.7 L2331.1 1149.3 L2328.3 1148.5 L2325.8 1147.4 L2323.9 1146 L2322.5 1144.4 L2321.8 1142.6 L2321.8 1140.8 L2322.5 1139.1 L2323.9 1137.4 L2325.8 1136 L2328.3 1134.9 L2331.1 1134.1 L2334.1 1133.7 L2337.2 1133.7 L2340.3 1134.1 L2343.1 1134.9 L2345.5 1136 L2347.4 1137.4 L2348.8 1139.1 L2349.5 1140.8 L2349.5 1142.6 L2348.8 1144.4 L2347.4 1146Z" fill="none" stroke="#0e1213" stroke-width="0.8"/>
<path d="M2285.7 1181.9 L2283.5 1182.8 L2281.1 1183.3 L2278.4 1183.3 L2276 1182.8 L2273.8 1181.9 L2266 1177.4 L2264.4 1176.2 L2263.6 1174.7 L2263.6 1173.2 L2264.4 1171.8 L2266 1170.6 L2278.8 1163.2 L2280.9 1162.3 L2283.4 1161.8 L2286 1161.8 L2288.5 1162.3 L2290.6 1163.2 L2298.4 1167.7 L2300 1168.9 L2300.8 1170.4 L2300.8 1171.9 L2300 1173.3 L2298.4 1174.5Z M2266 1177.4 L2273.8 1181.9 L2276 1182.8 L2278.4 1183.3 L2281.1 1183.3 L2283.5 1182.8 L2285.7 1181.9 L2298.4 1174.5 L2299.3 1173.9 L2298.4 1173.2 L2290.6 1168.6 L2288.5 1167.7 L2286 1167.3 L2283.4 1167.3 L2280.9 1167.7 L2278.8 1168.6 L2266 1176 L2265.1 1176.7Z" fill="#1a2022" fill-rule="evenodd"/>
<path d="M2285.7 1181.9 L2283.5 1182.8 L2281.1 1183.3 L2278.4 1183.3 L2276 1182.8 L2273.8 1181.9 L2266 1177.4 L2264.4 1176.2 L2263.6 1174.7 L2263.6 1173.2 L2264.4 1171.8 L2266 1170.6 L2278.8 1163.2 L2280.9 1162.3 L2283.4 1161.8 L2286 1161.8 L2288.5 1162.3 L2290.6 1163.2 L2298.4 1167.7 L2300 1168.9 L2300.8 1170.4 L2300.8 1171.9 L2300 1173.3 L2298.4 1174.5Z" fill="none" stroke="#0e1213" stroke-width="0.8"/>
<path d="M2394.7 1175.8 L2392.3 1176.9 L2389.5 1177.7 L2386.4 1178.1 L2383.3 1178.1 L2380.3 1177.7 L2377.5 1176.9 L2375 1175.8 L2373.1 1174.4 L2371.7 1172.8 L2371 1171 L2371 1169.2 L2371.7 1167.5 L2373.1 1165.8 L2375 1164.4 L2377.5 1163.3 L2380.3 1162.5 L2383.3 1162.1 L2386.4 1162.1 L2389.5 1162.5 L2392.3 1163.3 L2394.7 1164.4 L2396.7 1165.8 L2398 1167.5 L2398.7 1169.2 L2398.7 1171 L2398 1172.8 L2396.7 1174.4Z M2373.1 1174.4 L2375 1175.8 L2377.5 1176.9 L2380.3 1177.7 L2383.3 1178.1 L2386.4 1178.1 L2389.5 1177.7 L2392.3 1176.9 L2394.7 1175.8 L2396.7 1174.4 L2398 1172.8 L2396.7 1171.3 L2394.7 1169.9 L2392.3 1168.7 L2389.5 1168 L2386.4 1167.6 L2383.3 1167.6 L2380.3 1168 L2377.5 1168.7 L2375 1169.9 L2373.1 1171.3 L2371.8 1172.8Z" fill="#1a2022" fill-rule="evenodd"/>
<path d="M2394.7 1175.8 L2392.3 1176.9 L2389.5 1177.7 L2386.4 1178.1 L2383.3 1178.1 L2380.3 1177.7 L2377.5 1176.9 L2375 1175.8 L2373.1 1174.4 L2371.7 1172.8 L2371 1171 L2371 1169.2 L2371.7 1167.5 L2373.1 1165.8 L2375 1164.4 L2377.5 1163.3 L2380.3 1162.5 L2383.3 1162.1 L2386.4 1162.1 L2389.5 1162.5 L2392.3 1163.3 L2394.7 1164.4 L2396.7 1165.8 L2398 1167.5 L2398.7 1169.2 L2398.7 1171 L2398 1172.8 L2396.7 1174.4Z" fill="none" stroke="#0e1213" stroke-width="0.8"/>
<path d="M2334.9 1210.3 L2332.8 1211.2 L2330.3 1211.7 L2327.7 1211.7 L2325.2 1211.2 L2323.1 1210.3 L2315.2 1205.8 L2313.6 1204.6 L2312.8 1203.1 L2312.8 1201.6 L2313.6 1200.2 L2315.2 1199 L2328 1191.6 L2330.1 1190.7 L2332.6 1190.2 L2335.2 1190.2 L2337.7 1190.7 L2339.8 1191.6 L2347.7 1196.1 L2349.2 1197.3 L2350 1198.8 L2350 1200.3 L2349.2 1201.7 L2347.7 1202.9Z M2315.2 1205.8 L2323.1 1210.3 L2325.2 1211.2 L2327.7 1211.7 L2330.3 1211.7 L2332.8 1211.2 L2334.9 1210.3 L2347.7 1202.9 L2348.5 1202.3 L2347.7 1201.6 L2339.8 1197 L2337.7 1196.1 L2335.2 1195.7 L2332.6 1195.7 L2330.1 1196.1 L2328 1197 L2315.2 1204.4 L2314.3 1205.1Z" fill="#1a2022" fill-rule="evenodd"/>
<path d="M2334.9 1210.3 L2332.8 1211.2 L2330.3 1211.7 L2327.7 1211.7 L2325.2 1211.2 L2323.1 1210.3 L2315.2 1205.8 L2313.6 1204.6 L2312.8 1203.1 L2312.8 1201.6 L2313.6 1200.2 L2315.2 1199 L2328 1191.6 L2330.1 1190.7 L2332.6 1190.2 L2335.2 1190.2 L2337.7 1190.7 L2339.8 1191.6 L2347.7 1196.1 L2349.2 1197.3 L2350 1198.8 L2350 1200.3 L2349.2 1201.7 L2347.7 1202.9Z" fill="none" stroke="#0e1213" stroke-width="0.8"/>
<path d="M2443.9 1204.2 L2441.5 1205.3 L2438.7 1206.1 L2435.7 1206.5 L2432.5 1206.5 L2429.5 1206.1 L2426.7 1205.3 L2424.3 1204.2 L2422.3 1202.8 L2421 1201.2 L2420.3 1199.4 L2420.3 1197.6 L2421 1195.9 L2422.3 1194.2 L2424.3 1192.8 L2426.7 1191.7 L2429.5 1190.9 L2432.5 1190.5 L2435.7 1190.5 L2438.7 1190.9 L2441.5 1191.7 L2443.9 1192.8 L2445.9 1194.2 L2447.2 1195.9 L2447.9 1197.6 L2447.9 1199.4 L2447.2 1201.2 L2445.9 1202.8Z M2422.3 1202.8 L2424.3 1204.2 L2426.7 1205.3 L2429.5 1206.1 L2432.5 1206.5 L2435.7 1206.5 L2438.7 1206.1 L2441.5 1205.3 L2443.9 1204.2 L2445.9 1202.8 L2447.2 1201.2 L2445.9 1199.7 L2443.9 1198.3 L2441.5 1197.1 L2438.7 1196.4 L2435.7 1196 L2432.5 1196 L2429.5 1196.4 L2426.7 1197.1 L2424.3 1198.3 L2422.3 1199.7 L2421 1201.2Z" fill="#1a2022" fill-rule="evenodd"/>
<path d="M2443.9 1204.2 L2441.5 1205.3 L2438.7 1206.1 L2435.7 1206.5 L2432.5 1206.5 L2429.5 1206.1 L2426.7 1205.3 L2424.3 1204.2 L2422.3 1202.8 L2421 1201.2 L2420.3 1199.4 L2420.3 1197.6 L2421 1195.9 L2422.3 1194.2 L2424.3 1192.8 L2426.7 1191.7 L2429.5 1190.9 L2432.5 1190.5 L2435.7 1190.5 L2438.7 1190.9 L2441.5 1191.7 L2443.9 1192.8 L2445.9 1194.2 L2447.2 1195.9 L2447.9 1197.6 L2447.9 1199.4 L2447.2 1201.2 L2445.9 1202.8Z" fill="none" stroke="#0e1213" stroke-width="0.8"/>
<path d="M2384.1 1238.7 L2382 1239.6 L2379.5 1240.1 L2376.9 1240.1 L2374.4 1239.6 L2372.3 1238.7 L2364.4 1234.2 L2362.9 1233 L2362.1 1231.5 L2362.1 1230 L2362.9 1228.6 L2364.4 1227.4 L2377.2 1220 L2379.3 1219.1 L2381.8 1218.6 L2384.4 1218.6 L2386.9 1219.1 L2389 1220 L2396.9 1224.5 L2398.4 1225.8 L2399.2 1227.2 L2399.2 1228.7 L2398.4 1230.1 L2396.9 1231.3Z M2364.4 1234.2 L2372.3 1238.7 L2374.4 1239.6 L2376.9 1240.1 L2379.5 1240.1 L2382 1239.6 L2384.1 1238.7 L2396.9 1231.3 L2397.8 1230.7 L2396.9 1230 L2389 1225.4 L2386.9 1224.5 L2384.4 1224.1 L2381.8 1224.1 L2379.3 1224.5 L2377.2 1225.4 L2364.4 1232.8 L2363.5 1233.5Z" fill="#1a2022" fill-rule="evenodd"/>
<path d="M2384.1 1238.7 L2382 1239.6 L2379.5 1240.1 L2376.9 1240.1 L2374.4 1239.6 L2372.3 1238.7 L2364.4 1234.2 L2362.9 1233 L2362.1 1231.5 L2362.1 1230 L2362.9 1228.6 L2364.4 1227.4 L2377.2 1220 L2379.3 1219.1 L2381.8 1218.6 L2384.4 1218.6 L2386.9 1219.1 L2389 1220 L2396.9 1224.5 L2398.4 1225.8 L2399.2 1227.2 L2399.2 1228.7 L2398.4 1230.1 L2396.9 1231.3Z" fill="none" stroke="#0e1213" stroke-width="0.8"/>
<path d="M2493.2 1232.6 L2490.7 1233.7 L2487.9 1234.5 L2484.9 1234.9 L2481.8 1234.9 L2478.7 1234.5 L2475.9 1233.7 L2473.5 1232.6 L2471.5 1231.2 L2470.2 1229.6 L2469.5 1227.8 L2469.5 1226 L2470.2 1224.3 L2471.5 1222.6 L2473.5 1221.2 L2475.9 1220.1 L2478.7 1219.3 L2481.8 1218.9 L2484.9 1218.9 L2487.9 1219.3 L2490.7 1220.1 L2493.2 1221.2 L2495.1 1222.6 L2496.5 1224.3 L2497.2 1226 L2497.2 1227.8 L2496.5 1229.6 L2495.1 1231.2Z M2471.5 1231.2 L2473.5 1232.6 L2475.9 1233.7 L2478.7 1234.5 L2481.8 1234.9 L2484.9 1234.9 L2487.9 1234.5 L2490.7 1233.7 L2493.2 1232.6 L2495.1 1231.2 L2496.4 1229.6 L2495.1 1228.1 L2493.2 1226.7 L2490.7 1225.6 L2487.9 1224.8 L2484.9 1224.4 L2481.8 1224.4 L2478.7 1224.8 L2475.9 1225.6 L2473.5 1226.7 L2471.5 1228.1 L2470.2 1229.6Z" fill="#1a2022" fill-rule="evenodd"/>
<path d="M2493.2 1232.6 L2490.7 1233.7 L2487.9 1234.5 L2484.9 1234.9 L2481.8 1234.9 L2478.7 1234.5 L2475.9 1233.7 L2473.5 1232.6 L2471.5 1231.2 L2470.2 1229.6 L2469.5 1227.8 L2469.5 1226 L2470.2 1224.3 L2471.5 1222.6 L2473.5 1221.2 L2475.9 1220.1 L2478.7 1219.3 L2481.8 1218.9 L2484.9 1218.9 L2487.9 1219.3 L2490.7 1220.1 L2493.2 1221.2 L2495.1 1222.6 L2496.5 1224.3 L2497.2 1226 L2497.2 1227.8 L2496.5 1229.6 L2495.1 1231.2Z" fill="none" stroke="#0e1213" stroke-width="0.8"/>
<path d="M2433.3 1267.1 L2431.2 1268 L2428.7 1268.5 L2426.1 1268.5 L2423.6 1268 L2421.5 1267.1 L2413.6 1262.6 L2412.1 1261.4 L2411.3 1259.9 L2411.3 1258.4 L2412.1 1257 L2413.6 1255.8 L2426.4 1248.4 L2428.5 1247.5 L2431 1247 L2433.6 1247 L2436.1 1247.5 L2438.2 1248.4 L2446.1 1252.9 L2447.6 1254.2 L2448.5 1255.6 L2448.5 1257.1 L2447.6 1258.5 L2446.1 1259.8Z M2413.6 1262.6 L2421.5 1267.1 L2423.6 1268 L2426.1 1268.5 L2428.7 1268.5 L2431.2 1268 L2433.3 1267.1 L2446.1 1259.8 L2447 1259.1 L2446.1 1258.4 L2438.2 1253.8 L2436.1 1252.9 L2433.6 1252.5 L2431 1252.5 L2428.5 1252.9 L2426.4 1253.8 L2413.6 1261.2 L2412.8 1261.9Z" fill="#1a2022" fill-rule="evenodd"/>
<path d="M2433.3 1267.1 L2431.2 1268 L2428.7 1268.5 L2426.1 1268.5 L2423.6 1268 L2421.5 1267.1 L2413.6 1262.6 L2412.1 1261.4 L2411.3 1259.9 L2411.3 1258.4 L2412.1 1257 L2413.6 1255.8 L2426.4 1248.4 L2428.5 1247.5 L2431 1247 L2433.6 1247 L2436.1 1247.5 L2438.2 1248.4 L2446.1 1252.9 L2447.6 1254.2 L2448.5 1255.6 L2448.5 1257.1 L2447.6 1258.5 L2446.1 1259.8Z" fill="none" stroke="#0e1213" stroke-width="0.8"/>
<use href="#gn112109aa2ab" transform="translate(2237.2 1071.3) scale(1.045)"/>
<use href="#gn112109aa2ab" transform="translate(2183.8 1102.2) scale(1.045)"/>
<use href="#gn112109aa2ab" transform="translate(2434.1 1184.9) scale(1.045)"/>
<use href="#gn112109aa2ab" transform="translate(2380.6 1215.8) scale(1.045)"/>
</svg>
</body></html>
